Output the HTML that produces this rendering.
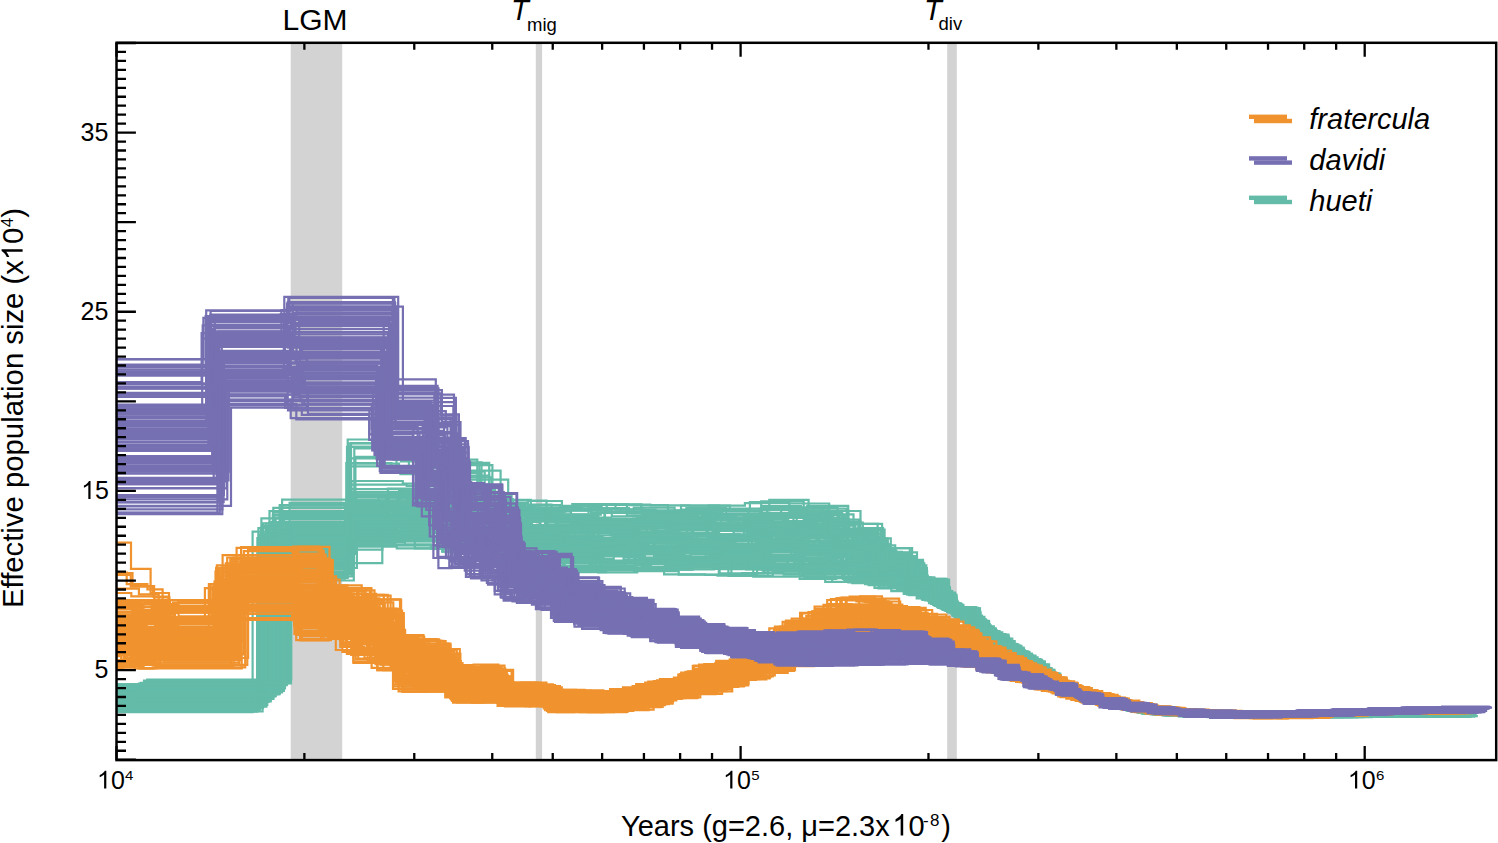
<!DOCTYPE html><html><head><meta charset="utf-8"><style>html,body{margin:0;padding:0;background:#fff;overflow:hidden;}svg{display:block;}text{font-family:"Liberation Sans",sans-serif;fill:#000;}</style></head><body>
<svg width="1498" height="843" viewBox="0 0 1498 843">
<defs><clipPath id="pc"><rect x="116.5" y="42.8" width="1379.7" height="717.3"/></clipPath></defs>
<rect x="290.7" y="42.8" width="51.5" height="717.3" fill="#D3D3D3"/>
<rect x="535.8" y="42.8" width="6.3" height="717.3" fill="#D3D3D3"/>
<rect x="947.2" y="42.8" width="9.6" height="717.3" fill="#D3D3D3"/>
<g clip-path="url(#pc)">
<g fill="none" stroke="#63BBA8" stroke-width="2.20" stroke-linejoin="miter" stroke-linecap="butt"><path d="M60.0 693.6H132.2V690.6H273.3V507.8H350.8V492.0H401.0V490.3H447.7V496.4H493.1V503.2H527.7V505.1H560.0V505.9H601.3V504.6H641.3V511.0H681.8V509.6H723.5V510.6H761.2V501.4H803.7V515.0H843.9V530.0H871.7V550.5H896.3V559.9H923.0V578.8H946.8V607.7H974.5V629.1H991.8V634.5H1008.5V653.9H1031.9V671.8H1053.1V686.5H1071.6V694.6H1090.1V701.1H1118.5V708.1H1139.8V712.0H1171.9V713.5H1201.5V714.5H1241.7V715.2H1282.5V715.1H1324.0V715.3H1363.5V715.4H1403.0V715.1H1443.2V715.0H1465.5"/><path d="M60.0 698.4H124.4V704.9H266.8V528.9H347.0V446.9H393.3V459.6H436.4V464.1H479.4V511.0H517.8V520.6H553.7V519.0H591.8V521.9H633.4V518.5H666.9V523.9H713.5V526.4H751.6V516.6H790.6V517.4H833.1V537.5H862.5V540.0H887.7V557.9H913.9V582.9H935.8V604.0H961.3V620.9H983.5V634.8H1000.8V649.1H1023.8V664.6H1043.6V681.1H1063.1V692.0H1083.1V698.9H1105.5V705.2H1132.0V711.3H1163.8V713.6H1190.9V714.8H1231.5V715.6H1270.7V715.7H1312.4V715.7H1349.9V715.8H1393.0V715.6H1433.7V715.4H1464.4"/><path d="M60.0 695.9H130.4V695.8H272.8V514.7H348.6V496.4H397.4V496.4H442.0V499.5H490.4V503.2H521.6V509.8H556.7V509.1H597.8V512.9H641.8V516.7H681.4V510.1H717.4V518.1H760.5V508.9H798.0V507.3H837.6V534.7H867.8V538.4H890.8V565.8H919.1V580.5H943.3V607.9H970.6V621.8H987.7V635.1H1004.7V651.5H1027.7V668.1H1049.9V684.7H1065.2V692.7H1088.2V700.6H1111.0V706.7H1138.7V711.9H1167.9V713.9H1200.6V714.6H1237.4V714.8H1277.7V715.2H1316.2V715.5H1356.0V715.3H1398.1V715.3H1439.3V715.2H1467.6"/><path d="M60.0 702.2H114.5V709.5H257.6V575.1H344.5V563.2H382.3V544.3H430.9V548.9H475.8V558.0H507.3V568.8H546.5V571.7H585.2V569.8H625.7V568.3H664.1V574.3H705.1V574.8H742.1V573.2H783.7V574.7H825.2V581.9H855.3V582.7H880.0V587.6H903.8V591.8H930.9V603.5H957.0V618.2H976.3V631.6H993.7V644.1H1015.5V658.3H1034.9V674.5H1056.5V688.5H1075.2V696.2H1100.7V703.9H1125.0V709.8H1157.1V714.8H1183.3V716.5H1222.4V717.3H1263.3V717.2H1305.9V717.2H1342.6V716.9H1382.0V716.9H1424.8V716.7H1457.1"/><path d="M60.0 698.6H125.0V702.7H266.4V532.7H350.7V503.9H393.6V511.2H441.7V513.1H486.1V526.9H521.4V519.8H557.4V525.0H597.2V533.6H636.4V525.8H672.7V530.1H713.7V530.3H753.4V527.4H795.0V536.2H835.2V548.1H863.8V550.4H893.1V564.6H915.0V586.1H940.9V604.5H960.4V620.3H983.4V635.3H1005.2V651.9H1023.3V664.1H1043.8V681.2H1064.9V692.6H1085.2V699.6H1112.0V706.9H1132.5V711.4H1165.2V714.0H1193.9V715.3H1235.3V715.7H1276.3V716.2H1313.5V715.6H1356.1V716.0H1394.5V715.7H1434.8V715.5H1463.8"/><path d="M60.0 693.6H131.0V693.0H279.5V545.8H350.1V530.3H407.2V522.7H449.0V529.2H495.2V542.3H529.9V541.2H566.1V537.9H605.4V543.7H645.9V540.4H683.4V541.2H724.7V544.3H766.3V543.0H806.3V550.0H845.2V554.2H874.2V572.1H899.9V582.1H926.6V592.1H949.5V611.4H977.3V632.4H995.9V645.3H1014.9V657.9H1036.2V675.6H1055.7V688.0H1072.8V695.3H1094.6V702.3H1122.1V709.0H1143.0V712.8H1176.0V715.1H1206.9V716.3H1247.3V716.5H1286.6V716.3H1323.9V716.5H1364.3V716.2H1403.8V716.0H1446.3V715.9H1469.8"/><path d="M60.0 698.1H128.8V701.3H270.8V538.2H349.7V516.0H394.1V519.9H442.0V524.0H487.7V531.5H522.2V533.6H554.0V532.7H596.6V530.7H633.6V532.9H673.6V528.5H714.3V531.0H756.3V534.8H797.9V530.5H832.6V545.6H868.0V557.6H891.3V566.2H916.0V585.0H940.0V607.8H965.0V621.9H983.5V635.3H1007.5V653.3H1024.2V664.9H1044.8V681.8H1066.5V693.1H1085.1V699.6H1111.0V706.7H1135.2V711.8H1167.6V714.1H1196.6V715.3H1234.7V715.9H1277.3V716.0H1315.7V716.2H1355.4V716.1H1395.4V715.9H1434.1V715.7H1465.9"/><path d="M60.0 686.9H143.6V683.0H284.0V537.4H355.4V456.9H408.9V467.3H457.1V470.6H500.6V541.1H537.3V539.9H569.9V538.8H612.1V546.6H653.1V539.7H695.6V540.6H731.6V539.9H771.4V546.5H813.1V548.1H854.6V552.3H881.9V568.6H904.2V587.2H933.0V601.3H957.1V616.8H981.2V634.8H1000.1V648.7H1024.0V664.8H1041.1V679.7H1063.7V692.0H1081.3V698.1H1100.7V703.9H1127.3V710.3H1153.3V713.7H1184.9V715.6H1209.6V716.1H1250.4V716.3H1293.2V716.2H1331.6V716.4H1371.1V716.1H1412.6V716.0H1452.9V715.9H1468.2"/><path d="M60.0 688.2H136.6V688.1H281.0V514.9H352.4V501.3H408.8V500.6H451.9V504.3H496.1V514.9H532.8V517.5H565.6V521.7H604.0V523.3H646.4V518.9H685.5V517.9H727.8V517.4H765.1V517.0H806.9V525.6H847.9V535.1H876.7V555.5H902.5V575.4H926.9V592.2H951.4V608.7H979.1V633.6H999.3V645.9H1015.5V658.3H1035.7V675.2H1058.7V689.8H1077.0V696.8H1097.5V703.1H1123.3V709.3H1147.0V712.7H1173.6V714.2H1205.5V714.8H1248.0V715.4H1285.3V715.5H1325.4V715.7H1364.9V715.5H1407.7V715.4H1447.6V715.2H1466.2"/><path d="M60.0 687.5H141.3V683.1H286.3V553.4H354.2V526.3H413.8V530.6H456.7V538.1H501.4V544.6H539.8V555.8H573.0V558.8H613.7V546.7H650.2V548.7H692.5V554.7H735.5V554.4H771.5V560.0H815.4V565.8H854.2V566.5H885.2V581.4H907.4V588.7H933.1V604.3H957.9V618.8H982.9V635.5H1002.1V649.9H1023.1V663.9H1044.4V681.6H1061.8V691.5H1082.6V698.7H1104.8V705.0H1124.1V709.6H1154.2V714.1H1182.3V715.8H1211.9V716.4H1253.2V716.9H1294.3V716.6H1333.0V716.4H1372.0V716.5H1415.6V716.2H1454.7V716.1H1475.1"/><path d="M60.0 691.1H137.6V688.2H280.3V547.3H350.8V525.0H404.0V528.8H451.8V542.5H494.4V541.2H528.4V545.6H563.8V545.8H605.4V542.5H644.7V549.9H683.8V550.8H724.4V560.4H763.5V547.2H806.1V553.4H846.9V565.4H874.3V572.7H900.3V587.9H927.8V594.8H949.2V610.6H973.8V629.8H995.4V645.2H1015.3V658.2H1033.9V673.6H1056.7V688.6H1075.0V696.1H1095.2V702.5H1119.3V708.6H1146.7V713.4H1176.4V715.4H1205.3V716.5H1247.7V716.8H1287.4V716.3H1328.5V716.3H1364.1V716.4H1406.0V716.2H1445.2V716.0H1469.2"/><path d="M60.0 697.1H129.1V695.9H269.5V511.1H350.3V495.9H399.1V490.7H445.7V490.6H493.7V502.8H527.7V501.0H561.9V509.1H601.4V504.6H641.3V512.3H681.0V505.6H719.1V511.4H761.9V507.6H800.4V513.4H839.7V528.7H869.3V545.3H895.2V552.3H917.0V578.9H945.2V607.3H969.6V621.2H989.1V639.2H1009.9V654.8H1029.5V669.6H1051.1V685.4H1072.4V694.4H1088.8V700.8H1115.8V707.9H1140.9V712.0H1170.9V713.3H1200.2V714.3H1240.5V714.8H1278.8V715.4H1321.7V715.3H1359.5V715.3H1402.1V715.2H1440.0V715.2H1464.3"/><path d="M60.0 695.2H129.6V692.3H275.4V545.2H348.2V524.4H400.5V524.6H445.4V533.9H491.8V532.3H523.5V549.1H560.4V540.7H601.3V548.9H642.2V548.2H683.5V550.7H721.9V541.1H763.3V544.1H801.7V535.0H840.3V561.3H872.4V569.4H894.8V576.4H921.7V589.5H945.3V609.7H968.4V626.0H991.0V642.1H1012.8V656.6H1031.4V671.4H1053.8V686.9H1071.2V694.8H1090.9V701.3H1115.3V707.8H1138.6V712.3H1172.0V714.7H1203.9V715.9H1240.3V716.3H1281.6V716.2H1320.2V716.3H1359.8V716.3H1403.6V716.1H1442.7V715.8H1468.9"/><path d="M60.0 700.6H123.4V705.6H262.2V526.2H347.3V500.7H387.9V488.7H433.7V499.6H478.1V503.1H514.2V509.3H551.3V517.2H591.4V505.0H626.9V515.3H667.8V517.6H711.7V514.1H749.4V513.9H789.9V510.7H827.9V524.2H858.7V529.7H884.6V553.3H911.6V581.3H935.1V605.7H962.4V612.2H980.5V634.4H1002.7V650.3H1021.1V662.2H1042.4V680.4H1060.2V690.6H1080.4V697.9H1107.9V705.8H1129.7V710.8H1161.8V713.2H1191.2V714.6H1232.8V714.9H1268.2V715.5H1309.5V715.7H1351.2V715.5H1389.7V715.4H1428.4V715.2H1465.2"/><path d="M60.0 695.7H132.0V698.4H273.4V557.2H351.0V466.4H400.4V474.1H444.3V477.4H491.5V558.1H526.5V552.0H563.5V552.1H601.8V562.5H641.4V552.3H681.0V557.1H720.5V556.7H760.6V563.9H802.1V557.7H841.4V566.1H868.9V577.0H896.1V585.2H918.7V592.4H945.2V610.0H973.1V628.3H990.2V641.6H1010.4V655.2H1029.0V669.2H1050.1V684.8H1072.0V694.9H1089.8V701.1H1114.8V707.7H1139.6V712.6H1166.4V714.9H1199.9V716.5H1240.2V716.7H1281.1V716.6H1322.2V716.7H1362.1V716.6H1401.9V716.5H1439.4V716.2H1461.9"/><path d="M60.0 691.0H140.1V686.9H280.0V505.1H354.8V504.8H409.4V500.5H453.4V494.2H499.4V508.2H533.1V511.1H570.1V509.7H611.8V516.3H648.0V517.3H690.6V513.9H728.4V513.5H769.9V517.6H809.1V510.6H848.4V540.2H878.0V556.3H904.9V577.3H931.1V592.7H955.0V608.4H980.0V634.2H997.1V645.3H1017.7V659.7H1038.6V677.9H1059.7V690.3H1078.9V696.9H1097.6V703.1H1124.1V709.5H1148.6V712.7H1180.0V713.8H1206.4V714.8H1250.1V715.1H1289.4V715.5H1329.4V715.6H1369.0V715.4H1408.1V715.3H1451.9V715.2H1471.6"/><path d="M60.0 694.2H132.0V693.6H273.4V515.5H351.1V489.0H402.7V497.8H446.1V502.2H488.8V506.2H525.3V518.1H561.8V514.7H600.8V509.4H643.3V518.1H682.1V516.6H721.2V508.6H761.6V506.1H800.9V513.0H838.4V529.5H872.7V550.7H895.5V562.0H923.0V580.1H947.0V607.2H972.5V625.7H990.1V641.5H1010.7V655.3H1032.4V672.3H1051.4V685.6H1071.2V694.8H1091.0V701.4H1117.7V707.8H1137.3V711.9H1170.7V713.6H1204.9V714.3H1239.1V715.2H1281.7V715.1H1323.0V715.5H1360.0V715.3H1402.1V715.2H1440.4V715.1H1462.2"/><path d="M60.0 697.5H124.3V700.2H268.0V525.9H347.9V509.0H393.8V501.5H441.5V508.0H485.6V512.7H518.6V525.1H555.9V520.1H597.4V532.8H638.9V526.8H675.5V522.2H713.5V524.1H754.0V532.0H796.1V524.9H834.9V540.4H866.1V548.8H891.5V563.1H914.6V583.8H939.0V607.4H966.5V621.8H985.8V635.4H1004.5V651.4H1023.7V664.4H1049.1V684.3H1064.2V692.4H1087.5V700.4H1109.9V706.4H1134.5V711.6H1163.8V713.9H1195.4V715.2H1235.6V715.5H1277.0V715.6H1314.4V715.7H1354.9V715.8H1392.4V715.6H1435.7V715.6H1468.2"/><path d="M60.0 688.3H140.2V684.5H282.2V535.1H351.9V516.3H410.5V511.3H455.4V521.1H500.3V538.6H538.9V539.1H571.1V546.4H612.8V531.7H649.5V540.2H690.4V540.9H729.4V547.6H771.0V541.2H808.9V541.0H849.7V556.0H876.6V569.2H906.6V586.6H930.0V596.5H956.3V617.2H981.4V634.9H998.4V647.5H1021.2V662.2H1041.0V679.6H1058.6V689.7H1080.6V697.8H1099.6V703.7H1126.2V710.0H1151.7V713.6H1178.7V714.8H1209.6V715.5H1251.0V716.5H1291.5V716.2H1330.6V716.1H1369.3V716.0H1412.7V715.7H1451.9V716.0H1472.4"/><path d="M60.0 704.8H115.8V710.3H258.7V565.4H346.4V534.1H385.3V527.4H429.4V538.9H474.6V548.5H509.2V560.6H547.6V554.5H585.6V554.3H623.6V560.0H666.0V562.1H705.3V563.3H744.9V566.3H787.6V557.8H825.7V557.2H856.4V575.6H879.7V575.1H904.9V590.4H931.0V602.0H955.6V614.7H977.1V632.2H998.6V646.9H1016.4V658.9H1034.5V674.1H1056.9V688.7H1075.3V696.2H1100.8V704.0H1124.3V709.7H1156.5V714.6H1183.3V716.4H1226.1V716.8H1264.4V716.8H1308.4V716.9H1344.7V716.8H1384.5V716.3H1424.5V716.5H1458.1"/><path d="M60.0 701.2H119.2V704.0H261.5V550.3H348.3V518.6H388.6V524.2H433.2V518.5H478.4V529.1H513.0V537.0H548.6V532.1H588.8V546.2H627.0V537.6H667.7V546.1H708.4V545.7H748.5V539.7H787.9V533.7H824.6V551.9H857.2V558.9H883.4V572.0H905.8V583.8H935.2V604.2H960.0V613.3H977.7V632.7H1000.4V646.9H1016.6V659.0H1040.3V679.2H1058.8V689.8H1083.1V698.6H1103.0V704.5H1128.9V710.6H1159.2V713.9H1184.9V715.5H1227.1V716.0H1266.1V716.2H1307.0V716.3H1350.7V716.3H1387.9V716.1H1427.0V716.0H1460.3"/><path d="M60.0 698.8H124.6V698.2H267.5V532.8H347.3V458.4H396.5V468.1H440.1V471.4H484.7V524.4H521.4V530.1H554.0V538.5H594.3V526.2H633.5V532.9H675.3V534.9H713.8V537.7H753.1V535.4H794.2V531.1H835.6V551.4H864.4V553.7H891.3V563.8H916.3V583.3H941.6V608.0H965.4V622.0H986.1V636.2H1004.7V651.5H1023.1V664.0H1044.4V681.6H1063.7V692.2H1087.4V700.4H1110.0V706.4H1133.3V711.5H1164.5V714.0H1197.7V715.1H1236.0V715.7H1275.2V716.0H1318.0V716.1H1354.7V715.9H1392.9V715.8H1435.6V715.8H1462.6"/><path d="M60.0 684.6H147.9V683.5H291.0V523.4H356.2V494.3H415.2V498.7H462.6V509.1H503.7V518.5H545.3V519.0H576.5V521.0H612.6V521.8H658.4V524.7H693.5V519.5H737.7V524.6H776.5V527.1H815.2V532.9H858.2V542.7H887.4V560.6H913.5V585.0H933.2V604.9H963.4V621.2H986.5V635.5H1005.1V651.8H1029.3V669.5H1049.2V684.3H1068.7V693.9H1088.1V700.4H1109.1V706.2H1130.8V710.9H1157.2V713.2H1184.0V715.0H1217.4V715.1H1256.0V715.5H1298.2V715.5H1335.7V715.8H1377.6V715.5H1416.8V715.4H1456.1V715.2H1470.2"/><path d="M60.0 698.2H126.3V697.8H270.9V575.6H347.2V543.9H394.0V545.2H442.2V551.7H485.6V561.2H519.6V558.3H558.0V565.6H596.3V570.2H636.6V560.5H675.8V564.9H717.4V564.0H758.0V569.5H798.7V568.6H834.8V577.1H865.1V584.2H888.7V586.2H917.7V596.3H943.3V610.0H967.6V624.7H986.2V638.8H1008.4V653.9H1025.7V666.2H1048.9V684.1H1066.0V693.0H1087.1V700.3H1111.1V706.7H1135.6V712.0H1167.1V715.4H1196.6V716.5H1235.2V716.9H1278.2V717.1H1314.9V717.1H1358.2V716.9H1392.8V716.6H1436.3V716.5H1463.9"/><path d="M60.0 698.1H120.6V703.4H266.0V544.2H349.0V519.9H394.6V517.8H437.9V520.6H482.7V531.5H518.2V537.2H551.1V536.4H594.7V541.0H631.8V542.5H671.2V545.7H714.2V550.0H752.0V533.1H790.3V540.6H831.3V555.4H861.3V555.9H886.4V569.6H914.2V590.5H937.8V607.2H963.1V621.5H982.6V635.1H999.2V648.1H1020.5V661.6H1041.5V679.9H1060.2V690.6H1082.2V698.6H1105.5V705.2H1132.7V711.4H1161.7V714.3H1189.9V715.6H1232.4V715.9H1270.0V716.0H1312.1V716.1H1351.3V716.3H1391.5V716.1H1432.6V715.9H1466.9"/><path d="M60.0 694.3H130.1V695.2H275.0V552.6H349.6V530.0H401.4V528.6H444.7V534.8H492.0V538.0H528.6V549.7H562.1V545.0H603.4V547.1H642.1V549.3H681.9V552.7H720.0V551.7H759.1V558.2H800.9V553.1H841.2V561.5H874.1V572.3H894.9V579.3H920.3V591.4H943.7V609.5H969.1V626.4H993.8V642.8H1010.1V654.9H1029.5V669.7H1051.5V685.6H1070.6V694.6H1091.0V701.4H1115.8V707.9H1141.2V712.8H1172.4V715.2H1200.4V715.7H1241.1V716.3H1280.3V716.5H1321.3V716.5H1360.3V716.6H1402.5V716.2H1442.7V715.9H1470.8"/><path d="M60.0 691.2H135.2V691.7H280.0V548.6H350.5V484.7H406.7V486.0H447.1V488.9H495.2V554.3H529.4V544.6H566.1V556.5H601.1V548.9H645.8V541.9H683.9V547.4H724.3V557.4H766.8V556.0H804.4V555.2H846.3V559.2H872.7V576.3H903.1V580.0H924.9V594.6H949.7V611.8H973.7V629.7H994.5V644.7H1014.5V657.7H1035.0V674.6H1053.6V686.8H1075.5V696.2H1094.9V702.4H1118.5V708.5H1146.2V713.6H1174.6V715.3H1205.9V716.3H1243.8V716.3H1284.8V716.4H1327.0V716.5H1361.8V716.4H1402.4V716.2H1443.8V716.0H1467.1"/><path d="M60.0 701.6H119.4V703.1H262.7V536.4H345.3V508.7H390.7V504.6H430.8V506.3H477.5V509.9H512.7V519.7H547.4V525.9H588.5V518.9H626.4V523.0H666.5V526.1H706.5V527.4H748.3V517.6H788.2V525.0H828.1V529.3H859.3V536.6H883.8V559.3H908.4V580.8H936.1V604.1H960.1V610.1H978.4V633.1H998.8V645.4H1018.0V659.9H1034.0V673.7H1060.2V690.5H1077.5V697.0H1104.8V705.0H1131.3V710.8H1156.2V713.2H1190.1V715.0H1228.2V715.3H1266.3V715.5H1305.1V715.6H1348.9V715.6H1387.0V715.5H1425.7V715.5H1459.7"/><path d="M60.0 688.6H144.3V685.2H284.5V539.0H351.3V520.5H409.9V521.6H459.2V522.3H500.2V539.9H537.1V540.1H575.1V541.1H610.5V542.6H653.7V546.4H690.9V545.2H731.8V539.1H773.8V542.7H813.6V548.1H850.2V549.8H884.9V573.2H907.6V585.4H931.5V597.2H955.1V617.1H981.9V635.0H998.7V647.7H1023.6V664.4H1044.4V681.6H1062.5V691.8H1086.6V699.2H1100.7V703.9H1128.7V710.4H1153.1V713.8H1185.7V715.4H1213.0V715.9H1250.7V716.2H1294.2V716.1H1330.5V716.2H1375.4V716.1H1413.7V716.0H1451.5V715.7H1476.7"/><path d="M60.0 692.6H134.7V691.3H273.4V574.0H352.4V545.0H404.9V541.5H447.5V549.2H490.5V564.5H527.1V568.0H562.6V570.9H598.7V563.6H643.4V569.0H682.1V565.4H719.6V573.3H764.2V567.6H801.8V576.3H844.4V580.9H873.9V583.3H897.1V590.4H921.9V599.3H947.2V611.9H971.7V628.3H994.0V644.3H1011.2V655.7H1031.2V671.2H1052.3V686.1H1073.6V695.6H1094.6V702.3H1117.0V708.2H1142.2V713.3H1173.5V715.9H1200.4V716.7H1242.1V717.3H1282.0V717.3H1320.2V716.9H1363.8V716.9H1402.6V716.5H1443.6V716.6H1465.6"/><path d="M60.0 693.9H130.3V692.1H273.8V535.6H351.0V443.2H400.1V459.5H446.5V462.9H489.2V534.1H524.8V525.8H562.4V528.7H600.4V531.9H643.5V532.5H680.2V534.3H718.5V526.9H758.9V525.6H801.0V532.1H839.1V542.2H868.8V560.5H897.2V573.1H921.9V587.3H946.9V609.5H970.0V627.1H990.7V638.4H1009.4V654.5H1027.8V668.1H1051.6V685.7H1071.0V694.2H1087.1V700.3H1115.6V707.9H1142.0V712.5H1170.2V714.4H1201.1V715.3H1240.5V715.5H1278.5V715.9H1322.9V716.1H1362.0V716.0H1399.8V715.7H1440.6V715.6H1462.8"/><path d="M60.0 704.6H123.6V703.6H264.6V539.6H348.4V516.2H392.8V523.9H437.6V516.1H481.4V520.3H516.7V532.4H553.1V540.7H591.5V540.5H632.6V539.1H670.5V538.6H711.6V535.1H751.3V535.2H790.1V551.1H833.0V550.5H862.0V559.0H888.8V564.3H912.4V587.4H934.9V604.4H959.4V619.6H982.0V635.0H1002.1V649.9H1020.5V661.6H1040.2V679.2H1059.2V690.0H1082.1V698.5H1105.8V705.3H1129.7V710.8H1159.5V713.7H1190.8V715.6H1230.6V716.0H1271.3V716.0H1310.6V716.1H1350.3V716.2H1393.2V716.0H1430.0V715.9H1462.1"/><path d="M60.0 691.3H138.2V692.5H282.1V499.6H352.7V497.7H408.8V492.6H452.8V494.7H497.2V506.9H534.0V510.9H568.2V510.7H608.3V512.1H645.2V515.8H686.4V508.2H726.1V514.3H767.2V510.1H807.2V505.8H848.2V531.9H878.3V555.3H902.8V571.0H927.1V591.1H952.3V615.5H982.0V634.3H998.1V647.3H1018.9V660.5H1040.2V679.2H1061.3V690.8H1078.2V696.4H1095.6V702.6H1126.0V709.2H1146.7V712.4H1180.3V713.8H1208.8V714.4H1249.2V715.4H1288.4V715.1H1326.9V715.4H1368.6V715.4H1408.3V715.3H1447.1V715.0H1471.1"/><path d="M60.0 697.8H122.4V699.7H266.5V534.4H346.2V514.7H394.4V504.8H439.2V507.8H481.0V524.1H521.2V533.2H553.0V526.1H595.0V522.7H636.4V524.1H674.8V533.0H716.7V523.1H755.0V529.4H791.9V525.5H834.8V544.8H863.2V545.2H887.5V560.7H913.9V584.1H939.6V607.5H965.7V622.0H983.4V635.1H1002.1V649.9H1023.0V663.9H1042.7V680.6H1062.6V691.8H1084.7V699.4H1111.7V706.8H1131.7V711.2H1161.1V713.7H1193.6V715.0H1234.3V715.6H1273.2V715.8H1313.2V715.7H1355.6V715.9H1394.5V715.7H1433.2V715.7H1465.6"/><path d="M60.0 703.3H116.5V705.5H259.1V555.4H345.5V525.3H384.3V515.4H432.9V515.3H476.1V524.3H511.4V542.0H547.5V544.8H587.8V540.5H624.4V545.5H666.1V552.6H707.3V537.3H747.7V539.3H784.7V538.3H827.8V548.7H857.4V553.1H880.0V569.4H905.7V586.4H933.9V598.5H956.5V613.8H978.5V633.2H995.7V645.4H1017.8V659.8H1037.0V676.4H1053.1V686.5H1075.6V696.3H1104.7V705.0H1127.5V710.4H1160.2V714.0H1189.4V715.9H1227.0V716.4H1265.6V715.9H1309.9V716.3H1348.1V716.4H1385.9V716.1H1427.9V715.8H1462.6"/><path d="M60.0 689.6H132.8V691.2H275.6V517.5H351.4V481.0H402.8V483.7H449.3V486.4H491.6V514.8H529.1V519.8H567.3V518.5H605.7V523.3H644.0V525.5H685.4V526.5H726.2V522.5H765.3V516.8H803.3V518.3H845.3V531.0H872.7V552.3H897.6V567.6H922.5V583.4H947.5V608.2H976.3V629.9H993.1V643.7H1011.3V655.7H1035.5V675.1H1052.5V686.2H1073.0V695.4H1096.2V702.7H1119.9V708.8H1144.2V712.4H1173.9V714.1H1206.3V715.1H1244.0V715.3H1282.6V715.6H1323.5V715.7H1365.8V715.7H1404.2V715.4H1442.9V715.4H1466.7"/><path d="M60.0 688.4H140.4V686.8H284.2V567.8H354.0V536.6H410.3V540.1H453.9V550.9H501.0V558.3H536.2V559.7H571.8V565.8H610.9V565.7H651.0V566.5H688.8V561.4H729.5V567.0H772.8V566.4H809.4V573.1H848.4V582.5H880.6V584.7H907.2V592.1H930.9V602.6H953.2V615.3H979.4V633.8H1001.9V649.7H1018.7V660.3H1042.2V680.3H1060.6V690.8H1081.1V698.2H1101.7V704.2H1126.2V710.0H1150.3V714.1H1179.3V716.2H1207.2V717.0H1250.4V716.9H1288.8V717.0H1332.4V717.0H1368.9V716.7H1407.9V716.6H1452.5V716.5H1470.5"/><path d="M60.0 701.2H123.4V703.7H263.3V558.4H348.7V517.9H390.3V521.4H437.6V519.3H481.7V541.0H518.6V543.2H549.8V538.5H589.9V544.7H631.7V540.0H672.9V541.5H714.2V547.9H755.5V542.7H792.9V544.3H834.5V551.0H861.3V563.0H889.3V573.2H912.0V588.3H936.1V605.9H962.2V613.5H979.2V633.7H1001.4V649.5H1020.5V661.6H1044.7V681.8H1060.4V690.7H1080.1V697.8H1105.9V705.3H1130.2V710.9H1161.1V714.1H1192.3V715.6H1232.7V716.3H1270.0V716.6H1313.5V716.3H1348.4V716.3H1391.6V716.0H1432.2V715.9H1459.6"/><path d="M60.0 696.3H128.2V696.5H268.5V563.1H348.9V529.7H392.6V536.1H437.5V538.2H483.4V543.2H520.0V552.6H553.9V554.4H597.7V555.8H635.0V561.2H673.7V560.7H714.1V559.5H755.0V557.6H795.6V564.0H837.3V560.9H864.1V578.2H890.3V582.5H915.4V593.2H940.4V608.3H964.6V622.8H983.8V636.2H1004.2V651.2H1025.5V666.1H1044.8V681.8H1068.5V693.7H1086.3V700.0H1111.4V706.8H1137.9V712.2H1162.9V714.6H1192.5V716.1H1237.0V716.6H1277.3V716.7H1314.4V716.7H1355.4V716.5H1396.8V716.2H1433.2V716.3H1462.2"/><path d="M60.0 696.5H128.7V694.1H274.5V555.0H349.8V536.8H400.7V537.0H444.5V541.6H491.3V548.4H526.7V562.1H561.0V559.6H599.8V550.2H641.1V561.4H681.7V557.3H721.6V555.2H759.2V561.3H804.4V563.6H840.5V572.0H870.1V579.6H895.8V585.8H919.7V596.6H945.8V610.9H970.4V627.4H990.9V642.1H1013.0V656.8H1032.4V672.2H1051.9V685.9H1071.1V694.7H1089.8V701.1H1117.0V708.2H1143.2V713.2H1171.8V715.6H1203.8V716.5H1239.7V716.9H1279.8V716.9H1322.9V716.8H1362.5V716.8H1399.7V716.3H1437.8V716.4H1462.6"/><path d="M60.0 689.3H139.2V691.1H278.4V546.3H353.1V523.4H406.7V522.7H450.5V537.5H497.7V534.3H533.1V543.4H567.4V542.5H609.9V548.5H648.7V539.0H689.0V552.3H729.9V538.7H766.5V547.3H807.5V550.5H849.8V561.9H878.9V568.3H903.8V587.8H929.2V598.4H952.4V612.6H976.9V632.1H998.4V647.4H1019.5V660.9H1036.2V675.7H1060.5V690.5H1077.1V696.8H1098.3V703.3H1124.7V709.7H1148.5V713.2H1177.0V715.2H1209.0V716.2H1248.1V716.5H1288.6V716.7H1326.7V716.3H1369.5V716.4H1406.8V716.1H1447.5V715.8H1465.0"/><path d="M60.0 689.4H141.8V683.8H287.2V528.8H352.6V511.4H411.4V507.5H456.7V519.7H499.9V526.9H538.6V530.2H571.9V527.9H610.3V535.5H652.1V525.5H693.2V538.8H733.6V531.5H771.6V528.9H812.9V529.3H852.0V553.4H882.1V567.3H907.9V584.9H931.1V603.3H960.4V620.2H984.5V636.1H1001.8V649.8H1022.5V663.4H1041.4V679.9H1063.0V692.0H1083.9V698.6H1102.2V704.3H1124.1V709.6H1152.5V713.3H1185.1V715.5H1213.0V715.6H1252.2V716.1H1292.5V715.9H1332.0V716.1H1370.5V715.9H1414.3V715.7H1451.9V715.6H1472.1"/><path d="M60.0 697.9H121.3V701.8H265.4V538.5H347.7V506.9H391.2V506.5H435.9V513.6H481.8V519.2H517.6V529.6H551.6V526.4H589.8V520.3H631.1V525.2H671.7V527.3H714.0V526.6H753.5V523.9H791.3V536.4H832.1V540.4H861.6V548.4H884.4V561.5H911.2V582.9H938.5V604.0H960.3V620.2H983.4V635.3H1001.6V646.9H1018.1V660.0H1040.2V679.2H1060.0V690.5H1083.9V699.1H1106.1V705.4H1130.7V711.0H1162.6V713.6H1191.3V715.1H1231.4V715.5H1271.0V715.9H1310.2V715.8H1351.9V715.9H1391.7V715.8H1432.2V715.6H1464.4"/><path d="M60.0 692.1H134.6V694.1H279.7V505.3H352.3V494.6H406.6V503.2H450.3V501.8H497.2V509.4H532.0V512.5H561.9V508.6H606.9V511.6H643.1V520.5H686.4V518.4H723.7V514.1H761.0V509.2H804.1V519.8H845.1V530.4H877.6V557.1H900.0V563.3H924.3V593.2H951.4V608.4H974.4V630.3H993.8V644.1H1014.1V657.4H1034.9V674.5H1055.1V687.7H1073.0V695.4H1095.8V702.7H1120.6V708.9H1145.9V712.6H1176.0V714.1H1205.2V715.0H1245.2V715.5H1286.3V715.5H1323.9V715.4H1364.5V715.5H1404.5V715.5H1447.0V715.2H1471.1"/><path d="M60.0 701.5H117.6V703.0H260.8V550.3H347.8V513.0H387.6V513.6H433.1V518.3H476.5V528.8H510.0V525.8H547.0V545.9H585.8V538.9H626.2V538.4H668.1V536.5H708.7V539.0H747.4V532.8H787.5V536.4H828.4V540.7H858.2V555.9H884.0V566.9H908.3V584.1H931.6V603.6H958.2V612.7H977.2V632.2H998.1V647.2H1019.0V660.5H1037.0V676.4H1059.5V690.2H1078.7V697.4H1104.9V705.1H1127.1V710.3H1158.4V713.7H1186.6V715.1H1229.4V715.9H1268.8V716.1H1308.0V715.9H1347.2V716.0H1387.2V716.1H1426.8V715.8H1454.7"/><path d="M60.0 692.2H138.2V688.6H279.6V530.9H353.6V507.4H406.7V510.7H450.4V510.4H498.1V521.9H531.2V528.0H566.6V528.7H609.5V527.9H648.1V522.6H689.1V526.8H724.2V528.2H769.7V531.1H804.8V537.5H847.7V550.3H876.4V563.2H901.2V570.4H926.1V593.6H950.9V609.3H976.7V631.9H996.5V646.1H1018.7V660.3H1034.9V674.5H1057.8V689.2H1077.0V696.8H1099.4V703.6H1120.7V708.9H1148.2V712.7H1175.6V714.3H1204.4V715.3H1249.0V715.7H1288.5V715.8H1327.0V715.9H1369.3V715.7H1406.7V715.5H1447.5V715.4H1467.4"/><path d="M60.0 685.2H146.7V681.5H288.0V523.5H352.2V510.2H416.1V506.7H461.1V516.5H509.4V522.0H540.2V525.3H576.7V519.7H618.9V532.0H657.2V527.2H696.1V527.4H734.0V525.0H775.2V523.4H817.4V536.1H856.0V543.7H882.7V557.9H910.2V582.2H934.5V604.3H961.4V620.9H988.4V640.3H1010.1V655.0H1026.5V667.0H1045.8V682.4H1066.4V693.1H1086.8V699.5H1105.1V705.1H1130.5V710.8H1156.1V713.4H1187.7V714.8H1216.6V715.5H1256.0V715.7H1296.3V716.0H1336.5V715.9H1377.0V715.8H1416.8V715.7H1455.5V715.4H1476.6"/><path d="M60.0 690.6H139.5V688.4H280.3V554.2H352.9V518.0H409.1V529.6H449.3V535.2H498.9V532.4H533.1V544.2H567.2V549.1H608.1V545.4H648.5V537.1H690.4V547.2H727.9V552.8H770.7V546.0H807.6V549.1H847.3V563.6H875.8V571.6H902.2V589.3H930.7V598.0H955.3V616.7H981.3V634.8H995.9V645.6H1020.1V661.3H1040.4V679.3H1058.0V689.3H1077.0V696.8H1097.6V703.1H1125.8V709.8H1148.9V713.3H1178.5V715.6H1209.8V716.0H1247.0V716.5H1288.7V716.4H1325.7V716.4H1367.3V716.1H1407.9V715.9H1447.2V716.0H1467.8"/><path d="M60.0 700.8H116.6V709.6H260.2V565.2H346.9V540.2H390.1V534.3H433.1V532.3H480.4V549.5H510.9V549.3H548.9V558.5H586.3V554.4H628.6V561.8H669.0V561.1H708.0V560.8H747.2V567.8H787.7V567.7H829.6V570.1H858.6V566.6H883.3V580.4H908.2V592.5H934.7V605.1H959.9V617.4H975.4V631.0H999.4V648.0H1018.4V660.1H1036.9V676.3H1060.9V690.8H1077.4V696.9H1102.9V704.5H1129.4V710.7H1155.6V714.6H1187.0V716.2H1229.1V716.6H1266.5V716.7H1307.6V716.7H1346.6V716.8H1390.4V716.5H1434.5V716.3H1455.5"/><path d="M60.0 693.5H134.3V692.6H272.8V569.3H352.7V535.7H403.1V539.4H448.0V548.9H490.1V554.4H528.9V571.6H560.1V562.9H601.3V567.8H642.8V560.3H682.1V565.9H722.8V567.6H762.7V569.0H804.4V578.2H844.0V574.7H874.5V587.8H897.5V589.5H923.5V599.2H948.1V612.2H972.5V628.9H994.9V644.9H1014.3V657.6H1032.1V672.0H1052.6V686.3H1071.0V694.7H1094.4V702.3H1119.3V708.6H1143.8V713.6H1172.5V716.0H1203.1V716.5H1244.8V717.0H1282.0V717.0H1322.7V717.1H1363.5V716.8H1403.2V716.7H1444.6V716.4H1470.1"/><path d="M60.0 701.2H114.1V706.9H259.9V577.8H347.7V439.5H385.7V452.2H429.7V459.6H477.3V495.1H511.6V551.7H544.0V559.5H589.9V565.6H624.6V560.0H667.4V559.7H707.6V566.1H746.2V565.8H790.6V564.0H826.0V568.7H857.2V567.2H880.8V577.7H907.7V590.9H931.2V603.9H959.1V617.6H976.5V631.8H994.8V644.9H1016.9V659.2H1038.0V677.3H1055.1V687.7H1074.2V695.8H1099.8V703.7H1126.9V710.2H1155.6V714.4H1188.9V716.4H1225.1V716.9H1264.5V716.7H1307.9V716.7H1345.0V716.5H1386.8V716.6H1427.4V716.5H1458.6"/><path d="M60.0 688.6H140.4V687.7H280.4V519.5H354.0V504.5H409.3V502.8H452.2V510.6H501.6V513.7H533.0V521.1H571.8V517.6H611.1V524.3H651.4V528.6H690.3V528.9H729.4V519.1H767.8V522.0H809.5V526.1H847.6V529.5H880.7V561.1H901.9V581.3H928.5V594.3H951.9V609.5H978.2V633.0H997.6V645.5H1017.7V659.7H1041.6V680.0H1056.5V688.5H1079.3V697.1H1097.5V703.1H1125.5V709.7H1149.3V712.7H1177.1V714.5H1208.2V715.0H1250.9V715.6H1289.6V715.6H1327.8V715.7H1368.2V715.8H1407.5V715.5H1447.7V715.4H1470.3"/><path d="M60.0 701.8H125.9V704.9H267.3V531.7H346.0V509.7H394.1V504.1H439.9V518.0H482.1V521.5H519.8V520.5H553.5V518.9H592.8V523.6H633.4V532.2H674.4V529.4H714.5V528.9H753.2V526.0H791.6V523.8H836.3V534.9H862.3V544.7H889.1V564.2H914.2V585.1H936.9V606.7H963.2V621.3H983.8V635.1H1004.9V651.7H1026.8V667.3H1045.1V682.0H1065.0V692.6H1084.8V699.5H1107.2V705.7H1133.6V711.6H1163.6V713.5H1193.5V715.1H1233.0V715.4H1273.9V715.8H1311.9V716.1H1353.7V715.8H1394.5V715.8H1432.6V715.6H1458.7"/><path d="M60.0 702.0H120.0V706.7H266.4V571.6H347.4V543.5H392.2V536.5H437.4V544.6H481.6V556.4H516.4V553.0H549.6V559.8H591.8V568.9H630.9V568.5H669.0V566.2H712.9V569.0H751.8V561.4H787.3V566.5H831.0V569.8H859.0V574.3H884.8V582.2H909.4V595.2H934.4V605.3H958.8V618.8H980.7V634.7H999.7V648.4H1019.9V661.1H1039.2V678.3H1057.5V689.0H1081.4V698.3H1104.9V705.1H1128.2V710.5H1163.1V715.3H1190.4V716.6H1231.9V716.8H1269.8V716.7H1310.7V717.2H1349.1V716.9H1390.2V716.8H1430.3V716.7H1462.9"/><path d="M60.0 698.6H127.9V694.2H271.9V533.9H348.7V504.8H398.1V500.8H440.1V506.5H487.2V514.5H521.7V527.1H556.0V518.4H595.9V521.3H637.1V517.8H675.7V525.1H717.4V524.9H759.5V529.3H796.5V523.6H834.8V544.4H867.9V549.9H894.6V560.6H918.1V584.5H938.3V607.3H965.8V621.9H987.8V636.0H1005.5V652.1H1027.7V668.0H1046.1V682.5H1066.5V693.2H1086.8V700.2H1113.9V707.4H1137.5V711.9H1168.7V713.8H1194.6V715.1H1234.2V715.6H1276.7V715.5H1316.2V715.7H1355.8V716.0H1397.1V715.5H1436.5V715.5H1464.3"/><path d="M60.0 698.5H128.2V701.4H268.3V563.6H349.0V533.2H397.4V532.2H444.3V534.7H489.2V548.8H521.4V547.5H557.0V547.7H596.4V550.7H638.1V549.5H679.0V563.5H716.3V553.5H756.1V556.2H796.3V551.2H837.4V564.2H867.6V571.5H892.0V578.2H916.6V591.7H942.5V608.8H966.9V623.7H986.2V637.3H1006.1V652.4H1025.6V666.2H1045.7V682.3H1068.3V693.6H1084.9V699.5H1111.1V706.7H1135.8V711.9H1168.1V714.9H1196.0V716.2H1236.1V716.5H1276.6V716.6H1315.9V716.5H1357.3V716.5H1397.8V716.4H1437.2V716.1H1464.5"/><path d="M60.0 689.8H138.8V687.9H285.0V525.2H351.0V510.1H413.1V500.7H453.6V523.6H502.6V527.1H535.0V529.3H570.5V527.6H609.1V525.7H652.5V530.5H690.9V518.1H730.4V529.5H769.6V521.3H809.8V534.0H853.7V548.8H884.0V556.8H906.6V584.4H928.4V595.9H954.5V616.8H984.4V635.4H1000.4V647.1H1018.2V660.0H1039.2V678.4H1060.0V690.5H1081.2V697.5H1098.8V703.4H1127.6V709.9H1149.4V713.0H1176.2V714.6H1210.0V715.3H1248.4V715.7H1290.8V715.6H1327.5V716.0H1369.5V716.0H1413.3V715.6H1449.3V715.5H1471.7"/><path d="M60.0 704.3H116.9V707.9H259.8V547.2H344.9V513.9H386.8V508.2H432.7V504.9H477.0V524.7H511.5V521.1H547.0V527.3H584.9V530.2H627.2V524.7H665.0V525.4H707.8V534.9H744.0V526.3H787.4V528.9H828.2V536.8H855.4V546.6H882.7V562.2H905.9V583.7H931.5V601.5H957.6V612.7H977.0V632.1H997.9V645.7H1015.5V658.3H1036.0V675.5H1055.5V687.9H1076.8V696.7H1100.4V703.9H1124.8V709.8H1157.9V713.8H1186.0V714.8H1226.2V715.5H1267.1V715.7H1307.7V716.0H1345.1V715.9H1386.0V715.8H1428.3V715.5H1455.9"/><path d="M60.0 693.1H131.5V696.1H275.7V545.9H349.8V519.9H400.2V511.4H448.2V518.2H489.4V530.4H528.8V531.9H561.7V543.3H600.8V540.7H641.3V536.7H681.9V542.8H724.3V545.0H760.4V540.4H798.5V537.5H840.7V547.4H872.8V569.4H896.9V572.3H921.3V589.9H947.4V609.8H971.5V628.2H991.4V642.5H1010.9V655.5H1031.3V671.2H1049.6V684.6H1071.2V694.3H1087.8V700.5H1118.2V708.1H1139.1V712.2H1168.8V714.5H1200.9V715.3H1241.6V716.2H1278.7V716.3H1320.8V716.2H1362.2V716.1H1401.8V716.0H1441.7V715.6H1464.0"/><path d="M60.0 694.9H132.0V690.6H274.2V544.5H349.3V514.0H403.3V519.6H447.3V526.7H493.1V536.2H527.8V534.9H562.3V536.6H602.6V543.3H644.3V533.6H681.7V542.9H721.5V544.1H762.1V534.6H802.8V547.1H842.5V555.6H876.0V568.1H899.1V574.6H921.7V592.8H949.6V611.1H972.3V628.7H995.2V645.1H1011.8V656.0H1032.2V672.1H1054.6V687.4H1076.2V696.1H1093.3V702.0H1117.3V708.2H1145.0V713.1H1172.6V714.8H1201.6V715.6H1244.5V716.4H1283.1V715.8H1324.5V716.3H1360.4V716.3H1403.9V716.0H1442.2V715.9H1465.4"/><path d="M60.0 688.8H138.9V683.7H282.6V513.5H352.3V506.4H410.9V504.9H454.8V506.4H502.7V512.2H537.1V511.4H571.0V523.0H610.1V520.0H652.3V510.4H690.4V520.1H731.3V524.6H768.4V524.9H811.2V519.4H849.3V533.6H880.9V558.7H904.8V580.0H928.3V594.8H956.5V608.6H979.6V634.0H999.0V647.9H1020.4V661.5H1039.3V678.5H1060.0V690.5H1080.2V697.9H1101.0V704.0H1126.5V709.5H1147.7V713.0H1181.3V714.6H1211.3V715.2H1248.6V715.6H1293.0V715.5H1328.0V715.4H1370.3V715.7H1408.8V715.5H1451.4V715.1H1472.9"/><path d="M60.0 702.5H116.5V706.4H260.7V534.0H347.4V512.3H388.2V508.0H433.4V510.8H475.0V523.0H510.3V533.4H546.9V520.6H585.1V531.9H627.8V534.1H665.8V529.2H706.5V535.5H746.5V531.4H785.9V525.8H827.8V539.8H857.3V546.5H884.0V564.6H908.9V582.5H931.8V600.7H957.2V613.2H976.7V631.9H996.0V645.3H1016.5V659.0H1036.9V676.3H1057.1V688.8H1077.8V697.1H1102.5V704.4H1126.9V710.2H1155.4V713.6H1187.4V715.2H1227.5V715.4H1267.7V716.0H1307.8V716.0H1347.8V715.9H1390.1V715.7H1425.2V715.6H1460.8"/><path d="M60.0 699.6H120.8V703.8H264.3V560.1H346.3V463.0H391.4V468.2H433.0V472.8H481.0V536.6H515.6V542.1H550.5V553.4H590.5V547.6H631.3V551.9H672.6V553.3H713.0V554.5H751.3V548.8H791.0V559.8H831.5V563.7H859.1V562.8H886.6V581.2H909.4V590.2H935.8V605.6H961.9V616.9H979.6V634.0H1002.2V650.0H1022.0V663.0H1040.5V679.3H1061.5V691.3H1081.7V698.4H1107.1V705.6H1130.8V711.1H1159.4V714.1H1187.7V716.2H1230.9V716.3H1274.1V716.3H1310.6V716.4H1351.3V716.6H1389.7V716.2H1430.4V716.2H1461.0"/><path d="M60.0 691.5H133.0V694.0H276.0V566.3H349.0V535.7H401.6V539.9H448.4V547.6H494.7V554.9H527.8V555.6H564.8V567.8H600.5V554.9H642.7V561.6H684.5V562.4H721.7V565.9H763.8V559.3H801.8V563.8H843.6V573.3H874.3V578.6H896.8V587.7H923.6V595.8H948.0V612.3H974.4V630.2H993.3V643.8H1011.4V655.8H1032.0V671.9H1054.8V687.5H1069.8V694.3H1094.6V702.3H1115.9V707.9H1141.8V713.1H1172.8V715.6H1201.0V716.1H1243.5V717.2H1281.5V716.8H1322.9V716.7H1363.0V716.8H1404.2V716.4H1444.0V716.3H1469.3"/><path d="M60.0 687.1H148.7V680.7H288.9V543.4H354.3V448.3H418.7V458.7H458.7V479.6H508.2V545.8H543.2V551.0H576.9V551.5H617.6V546.9H656.8V548.9H694.9V547.8H737.7V551.7H776.1V537.7H818.5V557.5H857.0V556.9H885.2V574.6H910.6V587.3H937.3V604.9H961.0V620.6H986.2V636.6H1008.3V653.8H1024.9V665.5H1047.7V683.5H1064.5V692.5H1085.2V699.6H1107.6V705.8H1131.2V711.0H1156.6V714.0H1186.1V715.9H1215.4V716.1H1257.2V716.1H1297.6V716.5H1338.6V716.4H1376.4V716.2H1416.6V716.1H1457.1V715.9H1474.0"/><path d="M60.0 694.4H136.1V694.2H278.0V558.5H353.0V534.0H401.1V527.6H446.5V538.0H494.9V544.9H527.1V554.9H564.5V553.9H604.7V552.3H644.2V554.0H684.7V557.4H722.9V557.9H764.1V552.3H803.1V554.0H841.2V560.6H874.0V576.9H900.4V581.6H924.0V593.0H946.9V610.8H974.1V627.8H989.4V641.0H1014.7V657.9H1034.1V673.8H1052.8V686.4H1074.7V695.8H1093.0V701.9H1119.1V708.6H1145.8V713.5H1172.3V715.2H1201.0V716.0H1244.8V716.7H1283.3V716.5H1324.2V716.6H1363.7V716.5H1400.8V716.3H1442.9V716.2H1463.2"/><path d="M60.0 698.7H125.1V699.5H269.7V522.2H347.4V507.4H394.4V500.9H441.0V497.9H484.6V509.9H517.7V515.7H552.2V520.9H594.6V513.0H633.8V507.7H674.6V521.6H714.9V514.3H754.1V513.8H796.7V523.7H836.5V540.0H866.6V538.5H887.3V556.1H915.0V581.9H938.6V607.0H962.9V621.0H986.5V634.4H1005.5V652.1H1025.6V666.1H1044.6V681.7H1065.1V692.2H1082.2V698.6H1109.3V706.2H1133.8V711.6H1166.0V713.7H1199.3V714.8H1236.8V715.3H1275.8V715.4H1313.9V715.6H1357.9V715.6H1392.9V715.6H1433.9V715.4H1467.0"/><path d="M60.0 689.1H143.4V685.7H283.6V533.5H351.3V511.6H409.4V513.4H454.3V522.7H501.2V525.8H532.1V537.6H567.5V532.7H611.6V534.5H651.7V527.8H692.1V534.6H732.0V541.2H770.9V531.8H809.7V533.5H852.7V546.6H881.6V562.2H907.6V583.4H929.9V595.5H956.1V617.7H983.2V635.2H999.7V647.7H1018.4V660.1H1035.7V675.2H1058.9V689.8H1082.1V697.9H1099.7V703.7H1125.2V709.9H1153.4V713.5H1179.0V714.9H1211.8V715.4H1253.5V715.9H1289.5V716.0H1331.3V716.0H1371.4V715.8H1408.3V715.8H1449.9V715.5H1472.6"/><path d="M60.0 689.0H140.0V689.2H278.5V550.0H351.6V526.9H408.5V531.0H453.4V530.6H497.8V542.9H530.6V540.1H566.7V547.4H606.4V541.0H647.9V546.4H687.8V543.8H725.4V554.1H769.3V551.0H808.0V553.7H846.7V554.2H877.5V571.6H903.0V583.8H926.8V599.1H950.9V612.3H977.2V632.2H996.3V645.9H1021.4V662.1H1035.8V675.3H1056.1V688.2H1078.2V697.2H1100.7V703.9H1121.5V709.1H1149.7V713.6H1176.4V715.2H1207.4V716.2H1248.7V716.6H1285.5V716.4H1327.7V716.5H1366.0V716.5H1406.4V716.1H1448.8V716.0H1474.1"/><path d="M60.0 694.6H130.1V697.7H272.8V553.3H349.5V523.7H396.7V520.2H442.1V526.7H491.2V539.6H520.9V538.8H558.4V540.5H598.8V547.9H636.4V546.9H677.6V541.2H718.3V548.1H757.9V543.7H798.8V540.9H841.1V554.0H867.0V560.0H893.1V578.0H918.4V590.2H943.4V609.0H968.2V623.6H988.6V637.4H1008.5V653.9H1028.5V668.7H1048.4V683.9H1070.0V694.0H1086.7V700.1H1111.2V706.7H1137.8V712.2H1169.6V714.6H1195.3V715.8H1235.2V716.2H1275.9V716.0H1317.4V716.5H1359.0V716.2H1399.2V716.0H1438.0V715.8H1468.3"/><path d="M60.0 693.6H128.3V698.6H272.1V574.2H352.3V537.9H400.3V539.3H443.6V546.2H490.0V558.2H523.6V558.4H558.7V555.1H601.4V563.2H639.4V563.9H679.4V566.6H718.8V574.1H757.1V567.0H802.2V569.9H839.5V573.9H869.7V581.5H892.8V583.9H921.4V595.4H943.3V609.6H972.1V628.6H990.3V640.8H1008.5V653.9H1026.5V667.0H1048.8V684.1H1067.4V693.5H1089.9V701.1H1114.6V707.6H1139.3V712.7H1170.5V715.1H1199.1V716.6H1242.0V716.9H1280.0V716.9H1320.2V716.8H1360.5V716.8H1397.0V716.5H1439.8V716.3H1464.2"/><path d="M60.0 696.7H118.4V700.4H264.6V552.4H344.1V526.5H389.5V524.0H432.5V530.8H479.5V545.1H513.0V546.6H548.0V559.7H588.3V548.7H630.5V551.6H670.4V551.3H708.9V554.9H752.1V559.3H789.9V555.0H832.1V561.6H859.9V567.7H880.0V575.5H907.2V588.2H934.2V604.4H960.9V617.3H978.8V633.4H1001.8V648.8H1017.5V659.6H1038.3V677.5H1058.2V689.5H1077.3V696.9H1101.0V704.0H1129.3V710.7H1159.9V714.4H1190.0V716.2H1231.7V716.5H1269.7V716.7H1310.0V716.5H1348.7V716.5H1390.1V716.1H1431.0V716.2H1465.5"/><path d="M60.0 697.1H128.4V695.4H274.7V566.3H350.3V527.8H398.3V532.4H446.7V540.6H490.2V552.3H525.4V554.0H561.4V552.4H601.2V560.7H639.1V558.6H681.0V563.0H719.7V561.4H759.1V559.4H798.7V571.7H838.9V570.2H871.4V580.3H896.7V582.4H918.4V595.8H944.9V610.5H967.5V625.3H990.6V639.7H1006.5V652.7H1029.4V669.6H1049.1V684.3H1068.8V693.9H1087.1V700.2H1112.1V707.0H1139.3V712.5H1167.6V715.2H1198.8V716.6H1237.9V716.8H1278.0V716.8H1320.5V716.8H1361.2V716.7H1396.3V716.5H1438.4V716.5H1464.7"/><path d="M60.0 690.3H137.1V690.4H282.3V576.4H352.0V540.2H407.1V540.0H451.2V557.2H498.6V558.1H533.1V567.7H570.2V572.2H606.2V569.0H647.1V569.3H690.2V566.3H728.4V576.0H767.8V567.4H807.0V571.5H849.2V578.7H878.6V588.4H903.8V593.9H925.3V600.3H952.9V615.5H979.1V633.7H998.1V647.3H1019.3V660.7H1039.3V678.4H1056.5V688.5H1078.5V697.3H1096.8V702.9H1125.5V709.9H1150.8V714.2H1178.9V716.4H1207.7V717.1H1247.0V717.3H1288.3V717.2H1330.1V716.8H1369.1V717.0H1409.7V716.8H1449.6V716.6H1471.6"/><path d="M60.0 703.8H114.1V706.9H257.9V561.3H344.6V533.8H386.5V531.5H428.0V531.1H475.6V536.3H511.7V552.0H541.0V551.3H586.4V550.3H624.3V557.7H667.2V549.0H705.7V563.8H745.1V557.0H785.1V559.2H821.8V562.1H856.2V573.2H880.1V578.2H904.6V589.1H929.5V600.5H956.1V614.3H975.1V630.8H996.0V645.6H1016.5V659.0H1035.4V675.0H1056.3V688.3H1076.4V696.6H1097.7V703.2H1126.0V710.0H1156.3V714.4H1184.5V715.9H1224.8V716.8H1267.6V716.7H1304.7V716.5H1344.4V716.7H1383.5V716.4H1427.7V716.0H1458.5"/><path d="M60.0 703.7H115.3V710.8H257.4V538.2H345.7V512.6H386.3V500.8H430.5V507.4H471.9V511.3H509.0V519.4H546.4V520.4H584.6V527.5H621.2V520.8H662.6V525.9H705.1V526.7H746.4V525.8H783.2V521.2H822.8V531.0H853.7V544.4H881.0V560.0H903.1V584.3H929.8V593.0H954.4V610.3H975.9V631.4H995.4V645.1H1015.8V658.5H1032.0V671.9H1054.2V687.2H1073.0V695.4H1098.6V703.4H1124.4V709.7H1153.0V713.3H1186.0V715.0H1223.6V715.3H1262.8V715.6H1305.6V715.9H1345.9V715.9H1384.1V715.8H1428.1V715.3H1459.9"/><path d="M60.0 692.3H133.8V691.5H274.4V518.3H352.4V496.2H403.1V494.4H449.0V504.8H493.8V509.4H528.0V512.3H564.7V510.5H604.5V518.8H645.2V513.6H685.9V512.0H722.4V518.0H760.5V513.1H804.9V512.9H842.2V534.5H873.2V552.7H897.1V561.5H923.0V587.2H949.9V608.0H974.9V629.0H992.4V643.2H1013.0V656.8H1030.9V670.9H1054.0V687.1H1071.3V694.8H1091.7V701.5H1121.2V709.0H1145.8V712.4H1173.5V713.8H1204.5V714.8H1244.8V715.2H1283.3V715.3H1323.1V715.5H1364.6V715.6H1403.1V715.4H1443.8V715.2H1463.0"/><path d="M60.0 691.9H135.5V695.1H274.5V546.3H349.4V446.8H401.1V461.4H445.2V465.1H492.4V537.4H527.6V548.0H561.0V546.4H602.9V543.2H638.7V543.1H682.3V545.8H722.0V548.2H760.3V547.4H803.6V545.7H841.8V556.2H872.2V571.0H897.7V582.2H923.4V594.4H946.3V610.5H972.2V628.7H995.9V645.4H1011.3V655.7H1029.6V669.8H1054.5V687.3H1071.8V695.0H1095.1V702.5H1117.5V708.3H1143.8V713.1H1172.9V715.1H1202.9V715.9H1239.0V716.4H1282.6V716.3H1323.3V716.5H1365.6V716.3H1403.8V716.2H1443.6V715.9H1470.2"/><path d="M60.0 699.5H120.7V702.9H261.1V527.6H345.0V508.2H387.0V505.4H433.1V509.6H478.9V510.2H514.3V515.0H548.9V522.6H590.9V523.5H627.8V527.7H671.6V514.4H710.1V529.2H749.9V525.0H786.8V517.5H830.0V521.6H860.5V538.5H886.0V555.2H909.6V580.3H933.7V603.4H959.0V619.4H981.9V634.5H999.5V648.1H1018.5V660.2H1036.8V676.2H1057.7V689.2H1078.7V697.4H1104.9V705.1H1131.1V711.1H1159.3V713.3H1190.2V714.7H1230.8V715.3H1269.1V715.3H1308.5V715.7H1348.7V715.8H1390.1V715.5H1429.8V715.2H1456.1"/><path d="M60.0 698.1H123.7V700.3H268.9V576.6H347.0V537.9H393.2V537.6H441.2V545.2H483.1V555.2H519.6V557.5H552.3V561.3H595.3V566.9H634.1V561.0H672.4V569.3H714.1V563.2H753.3V563.9H794.0V559.4H837.4V570.4H864.2V573.9H888.8V581.1H912.2V593.9H939.2V607.8H966.0V623.5H983.7V636.7H1002.6V650.3H1024.1V664.8H1041.5V679.9H1061.0V691.1H1083.0V698.9H1108.4V706.0H1133.7V711.6H1164.6V715.4H1194.0V716.7H1233.1V716.9H1272.4V717.0H1311.4V716.9H1356.6V716.9H1390.8V716.7H1433.7V716.5H1465.1"/><path d="M60.0 694.4H130.9V698.9H273.2V512.5H349.1V500.4H400.2V501.4H446.9V506.4H490.5V516.4H527.5V512.8H561.7V519.2H603.2V522.6H639.5V522.3H681.6V519.8H721.2V523.6H757.7V516.9H802.0V515.3H844.8V536.8H871.9V555.5H896.9V564.3H920.1V584.2H945.8V607.7H971.5V628.2H991.1V642.2H1011.4V655.8H1029.4V669.6H1050.0V684.8H1073.2V695.4H1092.5V701.8H1116.6V708.1H1142.2V712.1H1171.9V713.7H1198.3V714.7H1241.4V715.3H1282.7V715.5H1321.2V715.6H1361.9V715.5H1400.0V715.3H1441.9V715.2H1470.0"/><path d="M60.0 694.2H134.4V690.8H275.0V572.4H350.7V542.0H403.5V538.9H447.3V548.2H495.4V556.0H526.5V562.1H564.1V560.9H602.7V562.5H643.9V567.2H684.0V562.2H726.4V561.5H762.4V560.2H803.2V573.0H842.8V579.0H875.9V585.2H898.2V589.6H922.8V599.9H947.2V611.9H971.7V628.3H992.9V643.5H1012.8V656.6H1029.8V669.9H1053.5V686.8H1075.0V696.1H1094.7V702.4H1116.7V708.1H1141.3V713.2H1173.8V715.7H1202.5V716.4H1244.7V717.1H1280.8V717.0H1320.9V716.9H1364.0V716.7H1402.4V716.4H1442.4V716.5H1469.4"/><path d="M60.0 691.6H138.6V691.8H279.2V549.7H354.0V516.9H405.5V529.1H453.0V530.9H496.5V539.6H531.0V541.1H566.3V545.4H608.4V544.4H646.5V545.5H687.7V549.1H727.8V546.4H766.0V544.3H805.1V548.0H846.5V555.4H878.0V572.8H902.1V577.3H925.7V596.8H953.6V612.5H974.4V630.3H996.8V645.7H1017.7V659.7H1039.4V678.5H1057.6V689.1H1079.3V697.4H1098.7V703.4H1123.4V709.4H1148.0V713.4H1178.6V715.1H1205.1V716.1H1245.6V716.5H1289.5V716.5H1327.0V716.4H1366.9V716.2H1405.9V716.1H1444.0V715.7H1465.1"/><path d="M60.0 692.8H132.3V693.0H276.3V546.5H351.9V526.7H400.6V541.2H447.3V534.9H492.4V545.5H527.4V546.1H561.7V546.8H600.6V553.4H641.0V552.9H681.3V553.4H724.6V552.5H764.8V549.5H802.1V549.2H843.2V564.2H874.8V576.1H898.8V583.2H923.6V596.7H950.6V611.7H972.3V628.8H993.6V644.0H1013.2V656.9H1033.2V672.9H1053.6V686.8H1073.6V695.6H1094.4V702.3H1119.1V708.6H1144.4V713.3H1173.1V715.4H1207.7V716.5H1244.3V716.8H1283.9V716.6H1323.8V716.4H1364.9V716.5H1404.1V716.1H1442.7V716.2H1465.5"/><path d="M60.0 698.1H125.4V702.0H268.4V531.8H348.6V509.1H393.7V503.9H439.4V507.3H484.7V519.5H520.8V521.2H554.1V516.2H598.4V528.0H631.7V519.6H676.0V520.6H715.6V523.4H757.0V516.9H793.5V533.5H835.2V534.9H868.2V550.3H890.0V556.6H913.9V581.3H937.6V607.1H963.7V621.3H987.1V635.5H1004.9V651.7H1023.9V664.6H1044.1V681.4H1064.5V692.5H1084.8V699.5H1110.8V706.6H1133.7V711.5H1163.6V713.9H1195.9V714.9H1235.3V715.6H1278.3V715.7H1314.4V715.8H1357.3V715.6H1396.9V715.5H1432.3V715.4H1466.6"/><path d="M60.0 701.5H123.2V703.2H265.5V574.0H346.8V543.8H395.4V545.5H434.8V546.7H482.8V561.3H517.9V562.8H554.5V570.0H591.4V567.9H634.0V570.8H672.6V567.2H715.9V564.9H753.3V576.6H796.6V576.5H832.2V582.0H862.5V582.7H888.5V585.6H915.5V594.4H938.4V607.5H963.9V622.5H985.6V638.0H999.9V648.5H1020.4V661.6H1042.5V680.5H1062.4V691.7H1084.1V699.2H1109.5V706.3H1131.7V711.2H1161.9V715.2H1194.2V716.6H1234.0V717.1H1272.1V717.2H1312.8V717.1H1351.9V716.9H1391.4V716.7H1432.6V716.5H1466.4"/><path d="M60.0 686.1H144.9V684.5H285.8V524.2H354.8V500.8H413.2V498.7H461.6V503.8H503.7V532.2H539.7V518.8H574.1V523.4H614.2V529.0H654.6V523.4H693.2V523.8H733.7V520.7H773.2V530.0H813.4V532.6H854.1V541.6H882.5V554.7H910.2V580.1H936.1V603.6H958.4V619.0H982.1V634.7H1004.3V651.3H1022.2V663.1H1044.5V681.6H1064.5V692.5H1087.2V699.2H1104.5V704.9H1129.4V710.6H1155.0V713.1H1184.9V714.2H1212.2V715.3H1251.2V715.7H1292.3V715.8H1335.4V715.9H1373.3V715.5H1413.2V715.3H1454.9V715.4H1476.0"/><path d="M60.0 685.8H145.7V682.0H287.8V541.7H355.1V519.0H417.1V519.3H459.5V529.7H504.3V534.9H539.5V538.4H577.6V540.6H614.5V537.1H654.7V545.5H694.6V544.3H734.0V544.0H776.0V541.3H820.1V552.7H854.9V554.7H889.7V564.1H913.7V583.8H934.7V604.4H959.1V619.4H985.3V636.3H1003.9V651.1H1024.2V665.0H1045.7V682.3H1067.1V693.1H1083.8V699.1H1106.6V705.5H1132.6V711.1H1156.5V713.5H1187.4V715.3H1215.4V715.7H1255.7V715.8H1294.2V716.3H1332.7V715.9H1375.0V715.9H1416.5V715.9H1455.5V715.6H1469.4"/><path d="M60.0 689.6H136.7V687.4H282.2V513.4H352.3V495.9H407.8V503.9H454.2V503.1H494.3V511.3H530.5V519.5H566.3V519.3H605.0V512.8H647.9V517.0H685.7V524.5H727.6V520.3H766.9V516.3H805.0V521.2H846.4V532.7H874.0V553.9H900.8V565.4H926.3V583.9H947.6V608.0H976.7V631.6H993.9V644.3H1018.2V660.0H1033.7V673.4H1058.6V689.7H1077.1V696.4H1095.6V702.6H1119.9V708.8H1146.4V712.7H1175.7V714.3H1205.3V714.9H1248.5V715.3H1286.8V715.4H1325.6V715.8H1364.8V715.5H1403.5V715.4H1447.6V715.2H1468.2"/><path d="M60.0 693.3H132.3V689.7H277.0V572.1H349.5V532.6H402.6V535.8H448.7V552.2H495.1V549.7H526.3V550.8H562.3V558.9H602.8V551.8H643.6V557.9H684.2V559.1H723.8V556.7H763.3V565.7H803.4V561.4H845.3V573.5H874.0V579.1H896.3V584.9H925.2V598.4H948.9V612.2H973.1V629.3H992.8V643.5H1013.1V656.8H1034.4V674.0H1054.1V687.1H1076.6V696.4H1093.6V702.1H1119.2V708.6H1142.6V713.1H1172.6V715.5H1203.0V716.6H1243.8V716.7H1284.3V716.8H1324.4V716.8H1365.1V716.5H1406.6V716.4H1442.4V716.5H1463.8"/><path d="M60.0 687.9H140.7V682.8H284.0V553.8H356.1V530.3H413.4V530.3H459.5V542.4H502.2V545.0H535.4V544.3H574.0V550.7H611.9V551.8H652.8V551.2H690.7V559.8H732.8V561.2H771.2V554.5H810.8V551.7H852.7V560.4H884.5V573.4H905.0V588.6H935.1V604.8H959.1V617.9H981.1V634.8H1001.6V649.6H1022.1V663.0H1044.7V681.7H1060.5V690.7H1084.0V698.6H1100.3V703.8H1127.5V710.3H1155.2V714.2H1181.4V715.6H1213.0V716.5H1252.0V716.8H1292.3V716.5H1335.5V716.2H1373.6V716.3H1411.3V716.3H1449.8V715.9H1473.4"/><path d="M60.0 697.4H124.1V698.2H270.0V558.2H347.0V531.3H397.4V519.9H441.2V539.3H484.8V547.0H521.4V546.0H557.1V549.9H595.1V562.5H636.2V554.5H676.5V550.5H718.4V555.3H757.7V558.0H799.1V557.5H834.9V561.2H866.6V569.7H889.5V580.3H915.8V593.2H942.1V609.2H965.7V623.0H985.1V636.6H1007.4V653.2H1028.2V668.5H1044.6V681.7H1067.1V693.2H1084.6V699.4H1109.9V706.4H1137.4V712.2H1166.9V715.0H1198.5V716.3H1240.3V716.7H1274.9V716.5H1317.6V716.7H1356.7V716.5H1396.1V716.4H1437.7V716.4H1459.7"/><path d="M60.0 705.3H112.4V705.3H257.8V552.2H344.8V537.4H382.1V526.3H429.3V518.5H473.5V519.7H505.9V533.9H541.9V540.1H581.1V535.5H623.6V542.6H662.6V543.5H704.4V543.8H742.7V545.8H784.5V549.0H822.1V545.0H852.9V548.7H880.6V573.3H898.4V584.1H927.3V595.4H950.7V611.3H971.7V628.4H992.5V643.2H1011.0V655.5H1032.9V672.7H1052.7V686.3H1072.6V695.3H1094.9V702.4H1124.6V709.7H1154.5V713.6H1182.5V715.7H1220.8V715.8H1261.2V716.3H1303.1V716.2H1342.5V716.3H1382.4V716.0H1423.3V716.1H1453.0"/><path d="M60.0 696.1H126.9V696.4H268.6V563.2H348.8V539.7H397.9V529.6H443.2V536.7H487.2V553.1H521.8V557.0H558.2V551.4H597.7V549.7H634.3V562.9H677.6V562.3H714.9V555.9H759.9V550.3H798.4V567.1H838.9V568.4H868.0V567.6H891.8V581.4H917.2V591.9H942.4V609.1H966.3V623.5H988.8V639.5H1006.4V652.6H1028.8V669.0H1049.3V684.4H1068.8V693.8H1085.5V699.7H1116.3V707.9H1138.2V712.4H1166.2V715.3H1199.0V716.3H1240.7V717.0H1276.8V716.7H1316.8V716.6H1356.8V716.6H1397.0V716.3H1437.7V716.3H1463.6"/><path d="M60.0 684.4H147.2V679.5H291.2V533.9H355.0V508.4H417.5V516.9H463.3V523.5H506.5V533.5H544.1V527.3H576.5V529.0H617.0V527.2H656.0V539.6H696.8V534.4H739.3V540.0H775.9V530.3H819.5V543.2H856.8V559.9H888.7V561.0H912.6V584.4H935.7V605.3H961.9V621.0H986.1V638.6H1012.3V656.3H1028.9V669.1H1047.1V683.1H1065.2V692.7H1086.0V699.9H1107.5V705.8H1131.9V711.1H1158.0V713.8H1187.3V715.1H1215.2V715.6H1255.2V716.2H1296.5V715.9H1335.0V716.1H1379.2V715.8H1416.9V715.6H1458.0V715.6H1474.3"/><path d="M60.0 705.2H113.9V711.7H257.3V578.6H344.9V549.7H382.4V534.8H428.9V535.8H472.7V553.2H507.1V563.5H545.8V562.0H582.9V561.9H624.0V562.6H664.8V566.3H704.4V564.3H745.1V568.6H784.9V571.7H822.8V565.4H857.7V576.9H878.8V584.2H905.7V590.8H928.1V600.6H952.9V614.8H974.0V630.0H993.9V644.3H1015.4V658.3H1032.8V672.6H1056.2V688.3H1074.2V695.8H1101.0V704.0H1122.2V709.2H1153.7V714.3H1185.2V716.0H1220.5V716.7H1262.2V716.7H1302.6V716.9H1346.6V716.7H1384.1V716.5H1419.9V716.3H1461.5"/><path d="M60.0 699.6H118.9V701.7H261.6V548.5H346.6V513.6H389.9V515.9H436.6V520.8H478.1V530.2H516.8V529.7H548.7V530.1H589.1V539.3H629.5V533.8H670.3V535.9H708.5V541.5H754.0V535.8H793.5V536.5H831.5V537.1H857.9V555.9H888.1V568.6H909.5V586.3H935.2V604.3H960.1V612.4H979.8V634.1H1000.0V648.6H1020.0V661.2H1040.2V679.2H1059.8V690.3H1079.7V697.7H1106.9V705.6H1130.6V711.0H1161.0V714.1H1192.1V715.3H1228.0V715.9H1269.8V716.1H1309.7V716.1H1348.8V716.1H1392.3V716.0H1429.2V715.8H1462.9"/><path d="M60.0 689.9H141.4V685.2H283.8V545.3H354.5V519.5H409.5V521.3H458.9V528.8H501.5V535.4H533.5V535.8H572.3V538.1H610.8V541.7H649.8V533.7H690.8V544.0H731.9V537.0H771.9V542.3H808.5V548.5H853.4V550.4H881.4V572.2H903.2V586.6H929.0V603.1H958.2V613.4H977.4V632.4H1002.3V650.0H1018.9V660.5H1039.1V678.3H1060.2V690.6H1079.5V697.7H1101.5V704.2H1123.9V709.6H1150.3V713.4H1179.3V715.5H1209.1V715.9H1250.8V716.2H1288.0V716.2H1329.1V716.2H1372.1V716.2H1411.1V715.9H1449.6V715.9H1474.9"/><path d="M60.0 698.6H124.8V701.4H265.7V523.5H348.7V443.4H394.0V458.1H437.5V462.4H481.5V515.7H519.9V512.6H552.8V509.5H590.8V512.8H632.0V513.2H672.9V514.0H713.4V509.4H748.5V515.3H792.8V516.5H832.8V522.5H862.8V544.4H889.0V557.9H914.4V581.0H939.9V607.4H964.3V621.1H984.6V634.8H1004.8V651.6H1022.4V663.3H1042.7V680.6H1063.1V692.0H1081.9V698.5H1104.8V705.0H1132.3V711.3H1161.4V713.4H1191.6V714.4H1233.6V715.1H1274.6V715.2H1313.5V715.6H1352.0V715.6H1394.4V715.1H1432.7V715.4H1459.5"/><path d="M60.0 699.4H118.0V706.4H263.5V534.6H345.7V514.4H388.6V509.9H431.8V515.6H480.2V523.9H514.9V515.0H547.6V525.9H589.3V531.9H629.9V523.9H669.1V527.2H708.1V526.9H749.7V523.2H788.3V537.2H828.0V544.7H861.3V547.1H882.1V562.0H908.3V583.6H934.5V603.7H959.1V612.4H978.3V633.1H995.5V645.4H1018.5V660.2H1040.5V679.3H1060.7V690.8H1078.7V697.4H1100.4V703.9H1131.3V711.2H1160.1V713.8H1189.4V715.1H1229.5V715.7H1269.4V715.8H1308.1V716.0H1347.6V716.1H1390.2V715.6H1427.4V715.8H1463.3"/><path d="M60.0 693.0H133.4V695.9H275.4V567.4H350.9V541.4H402.6V536.5H444.9V545.2H492.2V559.4H527.5V560.4H562.9V567.1H599.1V556.4H641.8V567.1H680.9V567.7H721.2V569.1H762.6V570.7H802.8V567.8H842.2V577.0H871.9V580.0H896.5V586.1H920.9V594.9H944.5V610.1H970.5V627.5H992.2V643.0H1012.8V656.6H1031.8V671.7H1049.7V684.6H1070.7V694.6H1090.0V701.1H1115.0V707.7H1142.8V713.3H1172.2V715.6H1201.5V717.0H1242.5V717.2H1282.3V716.8H1320.4V717.0H1361.3V716.8H1403.3V716.6H1439.8V716.5H1471.2"/><path d="M60.0 700.9H118.9V707.8H263.0V523.4H348.0V494.5H391.2V493.0H433.9V489.8H480.4V499.1H513.0V504.5H551.5V520.6H588.5V508.1H628.9V512.9H667.3V511.6H712.8V509.2H749.9V502.2H789.4V510.9H828.6V519.6H859.2V528.1H883.1V552.8H910.6V577.3H934.3V602.0H957.8V616.2H981.2V634.3H998.7V645.3H1016.7V659.1H1036.8V676.2H1057.4V689.0H1079.2V697.5H1105.4V705.2H1128.8V710.6H1156.1V713.1H1188.4V714.2H1229.2V714.9H1269.2V715.1H1308.9V715.4H1351.5V715.4H1387.0V715.2H1427.9V715.1H1459.2"/><path d="M60.0 697.4H124.7V699.7H270.3V523.9H348.6V508.1H397.1V498.7H444.5V508.3H486.2V518.3H521.6V520.8H556.6V524.4H597.8V521.5H637.3V519.5H674.7V523.0H717.3V523.5H754.7V516.5H796.5V518.0H837.2V535.9H865.7V553.3H890.7V559.1H916.8V582.5H941.2V607.7H965.8V621.7H985.0V634.9H1004.5V651.5H1027.3V667.7H1045.7V682.3H1067.8V693.5H1086.1V699.9H1110.6V706.6H1134.3V711.6H1165.3V713.7H1196.1V715.2H1236.9V715.5H1274.3V715.6H1318.0V715.8H1358.6V715.6H1396.0V715.5H1435.9V715.3H1466.2"/><path d="M60.0 691.2H134.4V689.5H278.9V530.2H352.9V502.2H405.2V515.3H448.9V516.9H495.5V525.9H528.0V527.3H564.5V529.9H605.5V527.1H646.9V536.7H687.0V527.4H724.9V527.3H764.0V532.2H804.4V531.9H843.5V553.2H873.4V560.7H899.1V569.9H923.5V589.5H950.2V610.0H975.4V631.0H994.7V644.8H1014.0V657.4H1037.6V676.9H1055.3V687.8H1072.2V695.1H1093.7V702.1H1122.1V708.8H1142.2V712.5H1174.5V714.7H1204.8V715.6H1243.7V715.8H1285.9V716.0H1325.0V715.9H1366.0V715.9H1404.3V715.6H1447.4V715.5H1467.8"/><path d="M60.0 690.1H138.2V689.6H281.3V546.6H355.5V522.1H409.7V529.1H452.8V539.0H496.5V534.9H533.1V546.9H566.8V542.9H608.6V548.0H647.9V548.7H688.3V542.2H729.4V550.8H771.3V538.7H807.7V546.6H849.6V552.3H879.7V572.1H902.1V587.0H930.7V598.3H952.6V612.0H979.6V634.0H1000.3V647.5H1016.2V658.8H1037.2V676.6H1057.3V689.0H1079.6V697.2H1096.0V702.7H1124.6V709.7H1150.5V713.4H1177.9V715.3H1206.8V715.8H1248.9V716.3H1287.9V716.4H1326.8V716.3H1366.9V716.3H1407.1V716.0H1449.7V715.8H1473.4"/><path d="M60.0 696.9H122.0V701.0H265.3V542.3H347.6V517.3H395.2V516.4H439.3V522.1H481.5V525.1H520.3V533.6H555.8V535.5H594.2V538.1H636.3V542.5H673.6V540.9H712.0V538.7H752.4V541.0H794.1V532.8H836.0V553.5H863.4V555.4H887.3V566.6H915.0V588.1H938.8V607.5H964.9V616.7H980.5V634.4H1005.1V651.8H1023.3V664.1H1043.5V681.1H1066.7V692.9H1083.7V699.1H1109.1V706.2H1135.3V711.7H1163.2V714.1H1194.6V715.4H1231.7V715.9H1274.0V716.2H1314.6V716.0H1355.2V715.9H1392.4V716.0H1432.6V715.6H1465.5"/><path d="M60.0 686.8H144.3V681.1H285.4V568.0H356.9V538.9H416.9V538.1H458.5V552.7H506.8V553.0H538.2V562.8H574.4V563.5H616.0V562.3H653.9V563.0H693.5V558.9H735.0V562.2H775.0V565.6H813.9V569.7H854.2V578.1H884.3V579.9H909.2V593.0H936.8V605.8H958.9V619.3H985.5V637.4H1003.8V651.0H1024.5V665.2H1043.0V680.8H1062.0V691.6H1085.4V699.4H1103.0V704.5H1130.4V710.9H1152.8V714.0H1184.1V716.3H1213.4V716.8H1254.7V716.9H1294.4V717.0H1331.4V716.6H1374.5V716.7H1412.6V716.4H1457.4V716.4H1475.5"/><path d="M60.0 692.3H140.0V686.9H282.2V505.3H352.2V491.8H407.9V491.8H452.7V492.4H495.7V499.9H530.8V507.3H569.1V508.9H606.7V504.7H650.3V505.4H689.2V505.6H729.8V510.5H769.3V499.9H808.6V508.5H846.7V523.9H877.6V551.8H902.0V568.1H926.9V591.5H951.1V607.5H977.3V632.3H995.4V645.0H1015.6V658.4H1036.4V675.9H1058.1V689.4H1078.3V696.5H1096.2V702.8H1120.6V708.9H1146.9V712.3H1178.7V713.6H1207.2V714.4H1247.5V714.9H1287.7V715.1H1327.9V715.3H1367.1V715.4H1407.5V715.1H1448.4V714.9H1467.9"/><path d="M60.0 703.7H122.4V711.5H262.6V561.3H345.1V539.6H387.8V538.7H433.5V539.5H477.8V549.1H516.0V555.2H551.1V555.5H588.6V555.2H628.2V549.5H666.7V564.6H708.1V556.8H746.1V569.3H787.8V560.1H829.3V565.1H857.9V569.9H885.1V583.2H911.1V592.6H933.1V603.8H957.7V618.1H979.6V634.0H1000.3V648.1H1017.7V659.7H1038.1V677.3H1058.4V689.5H1077.8V697.1H1104.8V705.0H1129.8V710.8H1160.8V714.6H1189.5V716.3H1229.0V717.0H1266.7V717.2H1310.6V716.7H1347.8V716.7H1386.2V716.6H1429.5V716.4H1462.4"/><path d="M60.0 685.8H145.2V685.2H286.8V527.5H352.5V518.4H416.3V513.7H461.3V525.8H506.4V539.7H541.4V536.7H575.4V527.1H616.9V535.3H656.0V542.6H695.5V542.8H735.4V536.6H776.0V535.8H816.6V542.5H857.2V553.1H884.0V566.3H912.2V585.9H932.5V603.7H959.8V619.8H986.2V636.4H1007.2V653.1H1025.3V665.9H1046.4V682.7H1062.9V691.9H1084.3V699.2H1105.2V705.1H1128.6V710.6H1155.4V713.5H1182.1V715.2H1216.5V715.9H1255.6V716.1H1296.5V716.0H1335.8V716.0H1373.9V715.9H1415.1V715.8H1453.6V715.8H1476.9"/><path d="M60.0 694.9H127.3V696.1H269.6V576.6H344.9V546.6H396.8V548.3H442.5V551.5H487.4V562.3H521.3V571.0H557.7V571.9H598.2V572.3H637.2V571.2H678.7V574.6H717.5V575.7H755.3V573.5H799.6V578.9H836.2V577.4H868.6V585.1H891.3V591.1H916.7V598.3H941.7V609.2H967.7V625.4H985.9V638.5H1003.7V650.9H1024.1V664.9H1046.9V683.0H1066.4V693.1H1088.4V700.7H1112.7V707.1H1137.5V712.4H1167.0V715.7H1196.1V716.9H1237.4V717.3H1274.9V717.3H1316.8V717.1H1356.6V717.0H1396.4V716.8H1435.7V716.6H1463.0"/><path d="M60.0 689.7H135.2V690.9H283.9V516.7H353.7V503.9H406.6V511.5H453.8V515.2H495.7V522.9H532.0V529.8H566.8V530.5H608.0V522.4H646.2V518.9H689.6V522.3H725.3V524.3H765.5V514.2H805.3V520.7H846.8V541.4H879.1V561.1H902.2V571.0H926.5V595.1H951.0V610.1H977.7V632.7H996.0V645.3H1015.0V658.0H1035.3V674.9H1059.0V689.9H1077.5V696.9H1098.7V703.4H1122.2V709.2H1148.0V712.5H1177.2V714.2H1205.4V715.0H1245.4V715.7H1286.4V715.8H1324.0V715.8H1366.1V715.9H1406.7V715.8H1449.6V715.4H1467.3"/><path d="M60.0 699.3H128.3V697.8H271.5V541.2H348.4V517.5H400.1V517.6H444.2V514.3H488.5V525.8H523.0V537.9H559.3V537.6H599.9V538.9H638.0V535.4H676.3V530.4H718.4V537.6H758.8V528.9H796.0V535.1H838.5V548.6H869.5V552.4H893.0V573.7H919.7V588.0H943.9V608.9H969.8V627.0H991.6V637.6H1009.0V654.3H1028.7V668.9H1049.2V684.3H1067.2V693.4H1088.6V700.7H1116.2V708.0H1140.4V712.2H1168.2V714.3H1196.8V715.4H1237.3V715.9H1276.6V715.9H1317.7V716.1H1360.1V716.0H1398.0V715.8H1439.4V715.6H1469.5"/><path d="M60.0 686.8H144.0V680.7H286.8V550.1H354.2V525.4H415.8V529.9H460.1V533.7H505.6V540.6H538.1V547.1H575.9V540.7H613.7V539.9H654.7V543.2H696.4V548.1H733.7V546.2H772.5V541.9H814.4V552.4H856.1V559.6H882.9V573.6H907.0V587.4H936.0V605.0H961.4V620.9H985.4V636.5H1006.4V652.7H1024.1V664.8H1043.0V680.8H1063.3V692.1H1086.0V699.6H1105.6V705.3H1129.5V710.5H1152.5V713.8H1184.8V715.6H1213.1V716.1H1255.2V716.2H1295.7V716.7H1335.5V716.2H1373.8V716.1H1413.7V716.0H1456.2V716.2H1477.9"/><path d="M60.0 687.3H145.6V688.5H284.9V539.3H353.9V524.6H413.8V529.9H455.8V536.8H503.8V546.9H535.8V556.1H573.4V550.0H613.2V550.8H654.1V556.2H690.7V547.8H732.0V546.9H771.2V549.4H810.1V547.4H853.9V562.6H884.8V577.3H907.7V586.7H933.5V604.3H959.7V619.8H981.9V635.2H1002.5V650.2H1023.8V664.6H1045.2V682.0H1061.4V691.3H1080.8V698.0H1100.3V703.8H1126.4V710.1H1153.8V714.0H1184.4V716.0H1214.6V716.1H1253.5V716.5H1292.5V716.6H1334.3V716.5H1374.3V716.5H1411.3V716.1H1451.6V716.1H1469.8"/><path d="M60.0 697.5H126.2V696.8H268.4V559.9H348.7V525.5H395.9V522.2H440.8V526.0H483.9V542.0H518.8V540.7H558.5V554.0H595.8V543.1H634.4V553.7H676.4V545.3H717.7V545.1H752.0V548.7H794.2V554.1H836.8V560.8H863.9V566.1H889.0V576.6H917.5V591.1H942.5V609.0H965.5V622.5H987.3V637.5H1002.9V650.4H1024.7V665.4H1044.3V681.5H1068.2V693.6H1086.0V699.9H1111.6V706.8H1135.6V711.9H1165.7V714.5H1194.1V715.6H1236.8V716.4H1278.0V716.2H1313.7V716.6H1356.3V716.4H1399.2V716.1H1435.6V716.3H1467.2"/><path d="M60.0 695.4H128.0V696.5H274.6V559.1H350.4V463.7H399.0V472.4H442.9V475.6H489.1V544.1H528.7V548.7H558.4V557.7H599.6V553.6H642.5V541.8H677.0V559.5H719.6V550.5H760.3V558.8H800.3V567.2H838.3V568.4H870.8V574.4H896.9V582.4H917.2V592.0H943.8V609.6H971.6V627.7H990.5V639.9H1008.4V653.9H1030.3V670.3H1050.8V685.2H1071.0V694.5H1088.2V700.6H1114.1V707.5H1139.9V712.6H1171.5V715.1H1199.3V716.1H1239.7V716.6H1281.9V716.6H1322.3V716.7H1359.7V716.4H1399.3V716.3H1442.2V716.2H1466.2"/><path d="M60.0 695.8H129.9V696.0H274.8V552.0H351.0V522.5H401.5V525.5H445.4V524.7H491.4V537.4H528.5V542.0H564.3V536.1H599.7V549.2H644.5V541.7H681.3V552.2H722.6V553.7H761.1V545.2H801.1V555.3H842.7V565.3H872.0V572.3H896.3V581.5H922.8V590.3H944.3V609.0H971.8V628.4H993.2V643.7H1011.7V656.0H1032.5V672.4H1048.9V684.1H1072.5V695.2H1093.5V702.0H1117.1V708.2H1140.9V712.7H1170.8V715.1H1203.5V716.0H1242.7V716.4H1282.3V716.3H1324.4V716.5H1361.2V716.2H1402.7V716.3H1440.1V716.0H1470.9"/><path d="M60.0 699.8H120.9V704.1H266.6V558.6H347.6V525.3H389.3V526.1H436.0V526.9H481.7V545.6H516.6V545.5H552.2V547.6H592.4V544.0H630.9V550.6H670.8V549.3H711.7V548.7H753.9V555.0H791.1V551.6H833.2V563.7H862.8V565.1H886.9V572.3H913.9V588.8H937.3V605.5H960.5V620.3H982.5V635.4H999.3V648.1H1022.6V663.5H1041.7V680.1H1061.9V691.4H1079.7V697.7H1106.0V705.4H1131.2V711.1H1164.3V714.8H1191.0V716.1H1233.7V716.6H1270.8V716.5H1311.2V716.5H1352.5V716.4H1392.6V716.1H1434.7V716.1H1457.0"/><path d="M60.0 693.0H136.0V694.1H278.7V557.6H351.2V533.4H406.5V533.0H450.2V543.8H497.4V545.5H531.9V551.1H565.8V550.8H603.5V561.0H645.0V553.0H685.1V548.4H723.5V557.0H762.7V558.3H808.6V562.4H844.3V569.2H875.1V578.9H899.3V584.4H924.8V598.1H950.9V613.4H974.7V630.5H993.9V644.3H1017.1V659.4H1033.3V673.1H1057.5V689.1H1074.0V695.8H1096.1V702.7H1120.8V709.0H1146.1V713.7H1171.9V715.4H1204.1V716.6H1246.9V716.6H1285.0V716.6H1326.5V716.8H1365.2V716.7H1406.6V716.3H1445.7V716.2H1468.8"/><path d="M60.0 689.2H142.2V688.2H282.2V540.3H352.9V519.0H408.3V509.4H455.4V529.4H502.6V528.4H534.4V535.8H569.8V529.8H609.0V532.3H647.1V533.2H691.7V536.4H731.6V535.4H768.8V529.8H809.2V542.3H849.4V553.2H880.9V568.1H904.8V587.4H929.6V598.6H956.7V613.3H980.3V634.3H1000.8V649.1H1020.5V661.6H1040.2V679.2H1060.9V691.0H1082.1V698.0H1100.3V703.8H1125.9V709.9H1150.2V713.4H1181.3V715.0H1209.2V715.6H1248.6V716.2H1287.6V716.1H1329.5V716.0H1368.9V716.0H1409.3V715.9H1451.9V715.7H1472.0"/><path d="M60.0 701.6H116.7V709.1H258.4V528.1H344.9V513.1H386.2V496.3H430.2V511.3H475.4V518.6H510.9V516.0H545.5V514.3H586.3V524.7H626.3V524.7H667.0V520.8H706.4V527.2H749.8V519.2H786.2V527.4H825.2V523.4H858.4V540.3H883.0V555.1H909.3V582.4H934.1V593.5H955.4V609.5H977.6V632.5H995.4V645.1H1015.6V658.4H1036.9V676.3H1057.1V688.8H1078.9V697.4H1102.1V704.3H1128.9V710.6H1155.7V713.3H1189.3V715.2H1228.1V715.2H1267.1V715.5H1309.7V715.6H1350.1V715.8H1385.6V715.6H1428.9V715.3H1456.9"/><path d="M60.0 705.9H112.9V712.2H252.6V531.7H346.7V500.7H378.3V497.6H425.9V490.6H471.7V504.4H506.6V507.5H539.2V508.2H582.2V508.8H620.7V512.3H663.8V512.3H702.2V515.3H743.9V515.8H781.1V508.4H822.6V514.3H853.5V529.1H876.8V556.8H898.5V575.7H927.8V579.6H949.1V607.8H972.0V628.5H993.5V644.0H1011.6V655.9H1030.4V670.5H1049.1V684.3H1071.0V694.7H1094.6V702.3H1119.0V708.6H1150.9V712.4H1179.3V714.6H1223.2V715.1H1261.0V715.1H1299.8V715.4H1339.4V715.5H1378.6V715.5H1421.7V715.2H1452.2"/><path d="M60.0 696.4H128.8V696.7H269.9V531.6H349.3V508.8H399.0V513.7H443.8V519.2H486.7V519.1H525.4V529.3H556.6V529.9H600.3V530.3H637.2V532.4H676.0V525.0H718.9V523.2H758.2V531.7H800.2V527.7H836.7V542.3H866.8V557.4H890.4V566.3H916.9V582.4H942.3V608.1H966.6V624.1H989.7V637.3H1006.9V652.9H1027.2V667.6H1046.0V682.5H1067.7V693.6H1087.7V700.5H1112.3V707.0H1138.4V712.2H1169.5V714.4H1198.5V715.1H1236.0V715.9H1278.1V716.1H1319.3V715.9H1357.6V715.9H1398.5V715.8H1434.0V715.5H1461.2"/><path d="M60.0 700.3H121.0V704.9H265.4V538.8H346.2V510.1H393.5V514.3H438.7V518.2H483.7V521.4H517.5V533.6H552.3V533.6H593.0V538.3H634.9V535.2H671.6V523.7H712.7V534.4H754.7V533.3H794.4V537.8H832.3V551.0H865.1V548.6H887.1V566.0H913.4V585.4H939.1V607.5H964.1V621.6H987.0V636.4H1005.1V651.8H1020.5V661.6H1044.8V681.8H1064.3V692.1H1081.6V698.4H1107.9V705.9H1135.2V711.7H1164.6V714.0H1189.5V715.5H1235.5V715.7H1273.4V716.0H1313.5V716.2H1351.9V716.0H1395.1V715.9H1433.3V715.6H1460.1"/><path d="M60.0 701.4H117.6V705.0H261.4V518.3H344.9V504.9H388.8V492.6H434.2V489.5H475.9V499.1H511.3V500.5H546.5V508.6H589.9V504.3H627.8V505.1H668.0V510.5H708.7V505.6H744.9V503.1H788.8V503.5H829.2V511.0H860.5V523.9H882.1V548.1H909.8V578.0H934.2V602.9H958.7V607.2H975.8V631.3H999.2V648.1H1022.2V663.1H1040.2V679.2H1060.7V690.2H1076.5V696.6H1103.6V704.7H1126.4V710.1H1159.1V712.6H1185.6V714.2H1226.6V714.6H1268.4V715.0H1310.2V715.2H1347.7V715.4H1391.1V715.5H1427.0V715.0H1456.5"/><path d="M60.0 688.5H141.9V687.6H284.1V580.5H353.8V538.9H414.8V548.3H456.9V559.7H503.7V565.5H537.7V571.6H571.2V568.7H613.4V569.9H653.1V569.6H692.8V565.9H731.4V576.0H772.8V571.1H814.1V573.9H852.3V583.1H883.1V587.7H907.2V594.7H931.2V603.5H956.9V618.2H981.7V635.5H1003.7V650.9H1021.0V662.1H1042.3V680.4H1063.7V692.2H1083.1V698.8H1100.1V703.8H1128.3V710.4H1152.6V714.3H1185.8V716.6H1210.0V717.1H1249.4V717.3H1292.2V717.2H1329.9V717.1H1371.7V716.8H1412.7V716.6H1452.4V716.6H1467.9"/><path d="M60.0 695.7H129.5V695.2H274.5V533.2H349.4V514.7H394.4V511.9H448.2V519.2H489.6V532.7H524.7V531.2H559.0V535.6H599.0V530.3H639.9V531.3H679.5V535.5H719.1V529.7H762.8V531.7H798.5V534.7H842.9V548.3H870.7V561.8H894.6V566.8H917.2V584.4H946.3V609.6H970.2V623.4H986.6V636.2H1008.4V653.9H1032.0V671.9H1048.4V683.8H1070.1V694.1H1087.6V700.4H1114.0V707.5H1141.7V712.5H1171.3V714.4H1199.6V715.6H1238.7V715.6H1279.7V716.1H1320.0V716.0H1358.8V716.2H1398.2V715.7H1437.7V715.7H1470.2"/><path d="M60.0 684.4H146.1V683.0H289.6V502.9H354.5V495.5H415.9V492.6H460.1V504.0H507.8V508.4H543.6V508.8H572.3V504.1H615.5V509.7H655.7V515.2H697.9V516.7H736.0V514.9H773.4V516.0H816.2V525.7H855.5V530.3H883.6V548.1H912.1V578.9H935.0V603.5H961.3V620.8H984.2V634.7H1003.7V650.9H1024.6V665.3H1043.3V681.0H1066.7V693.2H1085.7V699.8H1109.0V706.2H1131.9V710.7H1155.0V712.7H1186.0V714.0H1216.0V714.6H1254.6V715.1H1294.7V715.4H1336.0V715.4H1377.6V715.6H1414.1V715.2H1457.7V715.2H1473.9"/><path d="M60.0 705.5H114.8V710.5H258.8V534.5H346.9V511.2H384.6V502.9H429.8V506.0H474.9V517.5H504.8V516.3H545.0V528.8H581.4V521.8H626.8V521.7H665.1V522.6H706.3V527.2H744.4V521.6H786.9V516.3H825.0V536.5H855.5V547.1H879.1V561.0H906.5V582.4H929.8V593.6H951.6V609.6H973.0V629.2H993.5V643.9H1016.1V658.7H1033.1V672.9H1054.7V687.5H1070.2V694.4H1099.5V703.6H1123.1V709.4H1153.5V713.3H1184.5V715.0H1223.1V715.3H1265.2V715.6H1303.7V715.6H1344.7V715.8H1384.8V715.7H1422.9V715.4H1461.0"/></g>
<g fill="none" stroke="#F0932F" stroke-width="2.20" stroke-linejoin="miter" stroke-linecap="butt"><path d="M60.0 626.7H126.2V628.3H144.8V635.4H162.3V633.7H230.5V558.9H297.8V555.0H325.1V588.9H341.6V597.3H367.2V595.7H390.6V638.0H413.3V640.9H443.3V665.4H470.3V669.0H495.8V684.4H517.6V684.0H542.7V691.0H566.2V692.3H593.2V692.9H615.3V690.9H640.6V686.6H664.7V681.1H689.1V673.9H711.5V664.1H738.4V655.6H764.7V635.6H785.4V625.6H808.5V612.0H830.9V599.1H856.4V601.5H881.0V610.7H905.4V612.7H927.6V622.6H951.0V631.9H977.2V646.6H998.3V659.3H1022.9V670.5H1047.8V680.5H1068.5V691.9H1096.4V696.6H1119.8V703.3H1148.2V707.2H1177.2V710.2H1205.5V711.6H1240.5V711.8H1274.5V712.2H1315.5V712.1H1354.4V712.3H1397.3V712.1H1435.1V711.7H1467.7"/><path d="M60.0 619.6H139.9V618.2H159.1V625.2H176.3V621.6H212.8V586.6H300.6V597.9H329.0V617.7H358.5V630.9H381.0V638.2H402.4V660.4H429.2V668.2H456.1V686.5H488.1V682.0H510.6V695.8H533.3V695.4H561.6V700.7H581.2V700.5H604.6V700.9H632.0V697.5H651.0V692.1H678.3V688.6H699.5V679.7H726.0V673.4H750.2V659.0H776.4V647.5H800.4V642.3H821.4V628.5H846.9V624.3H869.0V637.7H896.2V632.9H915.5V639.9H939.9V649.8H965.0V652.9H990.5V664.8H1014.7V673.9H1037.1V683.6H1061.9V691.3H1085.6V697.5H1109.6V703.8H1135.6V708.2H1158.9V711.6H1188.6V713.4H1220.4V715.1H1253.7V715.1H1292.3V715.4H1328.0V713.8H1372.5V712.8H1409.8V712.6H1447.4V712.3H1465.8"/><path d="M60.0 620.7H135.8V627.8H155.1V617.3H172.9V624.0H216.9V565.3H297.8V546.9H329.5V595.0H351.4V600.7H376.8V610.6H402.1V647.4H425.4V654.6H455.8V670.4H482.0V668.5H505.2V686.5H532.5V689.1H552.8V695.3H577.2V694.2H601.4V691.9H626.2V690.3H651.7V684.6H670.3V679.6H698.0V670.1H725.0V665.0H745.5V650.4H771.4V639.4H794.5V624.2H816.4V613.3H839.7V605.7H866.8V612.1H891.1V615.0H910.6V617.3H936.9V626.9H960.1V637.7H985.2V654.1H1007.6V665.4H1034.7V677.0H1058.3V685.6H1079.4V693.9H1104.3V700.1H1131.3V704.8H1155.8V708.7H1184.9V711.8H1217.4V711.9H1251.8V712.6H1285.9V713.4H1327.1V713.0H1365.2V712.5H1405.8V712.1H1446.1V711.9H1467.2"/><path d="M60.0 600.2H136.8V613.1H154.6V604.7H176.2V610.4H220.7V618.5H300.4V640.2H328.4V635.9H351.2V654.8H377.5V670.1H403.4V691.6H426.6V691.6H452.0V700.9H482.6V700.4H504.9V706.3H530.2V705.0H556.5V712.2H580.7V712.1H604.3V712.0H627.5V706.6H654.6V703.6H672.6V698.0H697.3V693.8H722.1V683.8H748.5V678.3H769.6V671.0H793.9V665.8H818.0V661.7H841.6V660.4H867.0V655.3H890.4V658.3H918.0V661.2H934.1V660.5H961.9V666.3H988.9V670.9H1007.1V679.8H1034.7V689.4H1060.6V697.2H1084.2V703.4H1106.6V707.1H1135.0V712.2H1154.0V714.3H1185.5V716.5H1215.5V717.9H1253.4V718.3H1288.0V718.0H1329.0V715.5H1367.8V713.7H1404.2V713.2H1446.8V713.1H1473.0"/><path d="M60.0 637.4H122.6V643.7H139.4V636.1H161.0V639.8H241.4V587.3H296.6V600.8H321.0V618.9H340.7V625.3H365.6V638.9H387.8V657.8H412.1V676.1H441.8V681.4H468.0V685.9H493.2V694.7H516.4V697.0H544.0V704.3H564.3V704.1H586.8V702.4H613.0V704.7H635.1V695.6H660.1V692.3H682.6V683.3H708.8V677.5H733.8V672.4H758.6V656.3H781.4V649.5H804.2V641.6H826.7V634.2H852.3V637.1H877.5V637.6H901.5V640.5H924.9V647.3H948.0V650.9H975.7V658.6H996.3V667.9H1021.2V677.7H1045.4V687.1H1068.1V695.0H1094.1V702.1H1116.9V706.2H1142.0V710.8H1171.9V712.8H1201.7V714.5H1238.7V715.3H1272.1V715.6H1313.2V714.1H1348.3V713.6H1393.8V712.8H1433.0V712.8H1456.5"/><path d="M60.0 651.5H129.2V651.3H146.9V643.6H167.2V644.9H221.6V579.6H295.9V569.8H326.0V607.0H347.2V608.4H368.9V622.3H395.0V649.0H417.3V653.8H447.1V675.7H477.9V673.8H498.1V689.1H522.3V688.2H549.0V698.0H573.2V699.2H596.0V697.5H623.3V693.2H646.3V688.9H668.2V683.3H690.7V674.4H716.5V668.6H742.0V656.1H763.6V645.5H787.8V631.6H810.3V627.6H835.2V618.5H861.6V621.4H885.1V617.3H907.8V629.7H929.5V628.5H956.3V644.1H977.8V654.0H1004.9V665.0H1026.5V675.5H1049.4V684.9H1076.0V694.6H1100.0V698.7H1123.9V706.0H1153.2V709.7H1179.4V712.4H1209.1V712.8H1245.2V713.2H1276.2V713.7H1321.8V713.3H1362.1V712.8H1401.5V712.2H1440.3V712.1H1467.6"/><path d="M60.0 668.3H123.1V661.1H150.0V655.8H164.0V662.3H230.7V601.0H294.9V595.3H322.5V618.6H345.4V628.3H369.3V639.7H390.4V662.8H415.4V674.0H445.4V687.9H473.7V684.5H495.2V696.8H518.9V699.0H545.5V706.4H572.1V705.7H593.9V704.8H617.6V702.9H641.8V698.8H663.2V689.6H691.1V684.4H714.4V678.4H739.4V668.3H759.3V658.0H784.1V653.0H808.6V649.5H831.0V638.2H858.9V641.1H881.6V633.8H904.0V644.7H929.3V652.9H955.4V652.7H974.7V659.5H1000.9V670.9H1023.9V679.7H1048.9V688.7H1071.7V696.3H1098.5V702.2H1121.5V707.1H1145.0V711.6H1178.1V714.4H1204.5V714.5H1237.5V715.5H1275.5V716.3H1314.7V714.3H1356.7V713.4H1398.2V712.9H1437.5V712.7H1467.6"/><path d="M60.0 646.9H118.2V652.8H139.0V650.7H156.3V660.1H240.6V562.8H292.8V559.1H317.3V593.1H337.1V598.2H360.5V616.7H384.5V639.3H408.9V647.3H434.8V669.4H464.3V676.1H490.3V678.8H511.2V684.9H534.6V693.6H563.6V695.2H587.4V693.8H609.1V693.1H634.5V692.2H658.0V685.3H681.9V677.2H705.0V668.7H728.0V664.1H753.8V644.8H778.7V633.6H801.8V622.1H823.6V616.2H849.6V613.0H874.2V611.8H897.9V616.9H921.4V624.3H944.9V634.4H971.2V647.8H996.7V658.2H1017.0V667.4H1037.7V680.0H1066.9V690.7H1089.6V695.0H1113.8V702.9H1138.6V707.4H1169.7V710.8H1200.8V711.6H1231.1V712.3H1269.1V713.8H1309.6V712.7H1349.7V712.7H1387.6V712.4H1432.1V712.0H1462.8"/><path d="M60.0 649.9H129.8V646.4H152.3V642.6H167.4V649.8H227.5V588.7H296.8V593.8H326.7V617.0H347.3V623.6H374.1V634.9H396.7V662.7H419.7V664.1H449.0V683.8H479.3V684.2H500.1V697.3H526.5V699.1H546.7V703.1H573.6V699.9H596.6V701.7H620.4V703.1H646.2V694.7H669.6V688.2H695.1V684.3H717.0V675.0H739.4V668.1H764.6V649.8H790.2V644.3H812.9V625.3H838.0V636.6H858.4V629.0H884.5V637.0H906.0V633.3H933.6V642.0H958.3V647.8H979.1V660.3H1006.9V672.3H1031.7V680.7H1052.2V690.0H1078.7V697.9H1101.7V702.3H1127.5V706.8H1151.6V710.6H1181.1V712.9H1208.4V714.7H1245.5V714.9H1283.7V715.5H1322.1V714.0H1360.0V713.0H1401.0V712.7H1441.6V712.5H1468.5"/><path d="M60.0 588.7H138.9V594.4H158.7V612.8H178.6V616.3H212.7V608.5H300.9V624.2H329.1V628.3H356.8V650.9H381.9V649.3H404.0V680.3H429.4V685.0H455.6V694.7H482.8V694.2H508.4V701.5H532.0V699.9H555.8V708.5H581.0V708.4H605.1V704.8H630.0V704.8H651.5V696.7H677.8V691.3H703.4V685.5H725.3V679.8H749.0V668.9H775.4V656.7H799.2V655.4H820.0V648.0H843.5V643.8H870.4V646.9H891.4V652.2H917.4V649.0H940.1V651.1H964.6V660.1H986.0V670.5H1010.5V676.6H1038.1V685.1H1061.6V696.0H1085.1V702.8H1109.2V705.9H1133.2V710.2H1159.6V713.0H1190.4V714.9H1218.8V716.4H1255.9V716.6H1287.1V716.5H1329.3V714.7H1368.0V713.2H1409.2V713.0H1447.8V712.7H1470.2"/><path d="M60.0 641.0H131.0V639.1H149.1V641.6H163.6V643.2H232.2V573.5H295.1V581.8H323.1V603.7H346.3V613.7H371.9V630.5H394.3V661.5H419.2V661.7H447.8V679.6H475.3V680.4H501.3V690.8H520.7V691.8H547.7V697.5H572.2V698.7H596.5V699.8H618.5V696.0H644.2V691.0H666.7V687.4H692.5V678.3H716.1V667.9H736.2V669.8H762.1V644.8H789.5V638.3H809.7V629.7H832.9V624.8H859.7V623.6H880.8V616.1H908.1V631.4H932.8V636.8H955.7V643.8H980.6V655.8H1003.6V667.6H1029.4V677.5H1051.6V688.0H1076.1V694.7H1101.2V701.2H1124.5V706.8H1148.3V709.6H1182.1V711.9H1207.7V713.5H1245.6V714.4H1280.4V713.9H1318.9V713.8H1358.2V713.1H1401.4V712.5H1443.6V712.2H1468.0"/><path d="M60.0 636.2H136.7V632.3H155.2V636.5H172.4V633.8H215.6V585.9H296.7V597.8H328.0V609.3H355.2V626.1H379.6V627.9H400.7V663.6H428.4V669.5H453.1V681.6H481.3V685.1H503.1V693.4H529.4V692.9H556.1V701.5H574.6V700.5H603.5V701.5H627.2V701.7H648.9V693.6H673.6V689.2H698.2V678.1H721.7V674.1H747.1V659.6H768.1V648.6H791.7V637.6H816.4V632.4H839.7V628.7H865.9V623.8H888.2V623.4H912.1V634.9H939.1V639.8H963.3V649.5H982.6V661.3H1010.5V672.0H1030.7V680.0H1056.8V689.9H1081.4V697.1H1105.1V701.4H1129.2V707.4H1154.9V710.8H1186.4V713.1H1217.4V713.8H1252.6V714.8H1284.1V714.1H1326.8V713.8H1364.9V712.8H1406.2V712.5H1445.1V712.3H1468.8"/><path d="M60.0 642.4H127.3V638.3H148.9V638.7H164.7V635.3H228.9V585.6H294.6V601.1H324.2V617.6H345.0V633.3H370.3V638.3H391.6V658.0H420.2V672.8H446.2V688.1H475.7V688.8H497.9V695.2H519.9V695.8H545.9V701.5H570.9V704.7H595.8V699.5H616.9V703.0H640.8V698.1H665.2V690.2H692.4V684.4H712.9V674.8H739.1V669.2H762.0V657.9H786.0V645.5H809.1V636.1H834.7V638.5H858.3V635.6H882.6V636.2H904.1V639.8H931.0V639.3H953.3V648.5H978.6V658.4H1000.4V668.5H1027.3V679.8H1050.5V688.5H1076.1V697.4H1099.6V702.7H1125.0V706.6H1149.5V711.8H1177.7V713.4H1210.7V715.2H1242.8V716.2H1279.8V715.7H1319.7V714.2H1359.4V713.1H1402.1V712.8H1438.6V712.5H1462.8"/><path d="M60.0 608.8H133.2V611.3H155.2V614.1H172.0V612.5H211.9V608.7H297.4V625.5H326.5V632.2H353.5V650.6H378.9V660.3H400.6V683.4H425.3V686.5H452.9V696.7H484.2V693.8H505.2V701.9H531.0V702.1H556.3V708.7H578.3V708.9H600.1V710.3H626.4V703.5H652.2V700.6H673.3V696.6H695.0V688.1H722.7V681.5H746.4V673.2H769.7V667.3H793.8V661.2H818.2V646.0H842.2V649.9H866.3V650.9H889.2V643.2H913.4V653.9H940.0V658.0H963.6V661.0H986.2V668.7H1009.6V675.8H1035.3V688.2H1058.3V694.2H1081.9V702.2H1105.0V705.3H1132.2V710.7H1156.6V713.4H1182.7V715.5H1217.8V716.4H1252.8V716.5H1286.0V717.0H1325.7V715.0H1366.9V713.4H1407.4V713.0H1445.5V713.0H1466.8"/><path d="M60.0 631.7H130.9V623.8H146.3V630.2H164.7V628.8H224.3V609.7H300.0V622.1H321.4V632.8H347.1V642.2H370.0V661.3H394.1V681.0H420.2V682.6H449.1V695.8H470.9V698.8H500.1V702.1H522.6V702.6H547.7V707.9H571.5V708.7H593.4V710.1H616.9V706.6H640.5V703.5H665.1V695.9H688.2V694.1H715.6V684.7H736.5V675.3H762.2V669.5H784.7V658.4H809.3V655.9H831.8V645.8H859.7V647.4H879.0V654.7H907.7V653.0H930.7V660.0H952.3V660.9H981.9V667.0H1001.9V673.6H1022.3V682.6H1047.1V691.1H1074.2V699.8H1097.6V704.5H1122.6V708.6H1145.7V712.1H1176.8V714.9H1205.1V716.1H1243.9V717.6H1277.2V717.3H1318.0V715.0H1360.2V713.5H1399.4V713.0H1440.9V712.8H1461.4"/><path d="M60.0 646.4H128.1V647.3H147.5V646.2H168.4V649.7H224.5V618.2H296.1V633.2H327.6V637.6H346.9V654.0H371.6V667.9H395.6V682.6H420.7V691.1H451.1V699.3H479.0V700.7H500.4V703.9H525.1V706.2H548.2V712.2H574.2V710.3H597.5V712.0H622.9V709.5H646.1V704.1H668.8V696.4H692.4V692.8H715.4V685.5H744.6V679.3H766.3V672.9H787.7V666.2H813.7V656.4H836.9V654.5H859.5V653.8H887.3V657.5H909.3V660.5H934.0V656.9H956.4V664.0H982.5V670.2H1007.3V679.9H1025.0V685.9H1052.6V693.4H1076.1V700.8H1098.0V705.7H1125.8V710.0H1150.7V714.0H1178.5V715.2H1209.1V717.0H1247.2V717.0H1279.5V717.1H1321.9V715.5H1363.0V713.8H1400.6V713.3H1439.9V713.0H1469.0"/><path d="M60.0 653.3H125.5V652.4H146.3V657.0H163.4V651.8H236.2V564.1H294.7V578.3H322.7V596.6H342.1V598.4H366.5V617.9H390.5V642.7H414.5V653.1H440.3V674.0H472.3V677.2H497.1V690.2H519.3V688.2H542.7V696.2H569.4V696.3H590.7V697.5H613.9V694.9H637.4V691.8H661.0V685.4H686.3V675.5H711.0V668.1H734.8V662.7H759.4V643.6H782.9V632.5H808.7V622.3H832.1V611.0H856.8V607.8H878.9V614.5H900.9V625.3H927.0V628.8H950.7V635.0H975.7V648.3H998.6V660.6H1023.4V672.8H1050.7V683.8H1070.7V691.9H1094.3V697.2H1119.9V704.1H1146.5V708.3H1175.4V711.5H1206.2V713.1H1241.1V712.4H1276.1V713.2H1313.1V712.9H1356.0V712.6H1393.4V712.2H1435.9V711.8H1459.1"/><path d="M60.0 623.5H140.0V631.5H155.8V631.1H178.3V623.0H219.6V606.7H301.2V636.1H330.0V637.0H355.7V659.3H381.0V664.6H402.3V686.7H429.1V688.7H457.3V702.3H484.8V695.5H509.3V704.4H532.2V704.8H554.7V708.6H579.2V710.3H603.2V707.9H631.8V706.1H652.5V698.7H677.1V696.1H697.1V689.2H724.3V685.5H748.2V676.4H772.8V665.3H796.0V660.7H820.8V649.9H846.2V654.4H867.3V659.2H892.6V653.0H914.9V656.6H943.0V658.5H964.6V666.7H987.5V672.4H1011.0V679.1H1035.0V687.2H1060.8V695.7H1084.7V701.7H1107.0V707.1H1133.5V711.2H1159.9V713.9H1188.3V715.5H1218.6V717.1H1256.7V717.7H1290.7V717.3H1328.4V715.1H1368.1V713.5H1408.2V713.1H1450.4V712.9H1466.6"/><path d="M60.0 624.3H134.0V628.7H155.7V634.6H172.1V631.9H214.2V586.8H297.7V579.9H325.5V606.4H349.1V615.3H373.2V623.0H400.3V655.3H425.8V652.6H450.0V678.9H480.8V680.9H506.4V689.6H529.9V692.0H552.3V698.2H574.9V696.7H600.4V697.8H623.4V694.6H647.9V690.4H674.1V685.0H695.2V674.8H720.3V671.5H742.5V659.3H768.5V644.2H791.1V631.5H814.1V620.7H842.2V619.7H867.6V619.0H889.8V626.0H913.9V624.5H933.7V634.8H961.7V642.5H980.6V658.6H1006.7V667.6H1034.0V678.5H1056.7V688.2H1082.7V695.0H1103.9V701.5H1129.5V706.8H1156.8V709.8H1183.6V712.6H1211.6V712.9H1248.1V713.8H1283.1V714.5H1321.9V713.2H1361.9V712.7H1401.4V712.3H1445.1V712.1H1469.7"/><path d="M60.0 573.2H132.5V586.0H154.1V597.3H169.4V622.2H226.6V566.8H298.3V573.2H325.5V608.4H350.2V620.0H375.6V622.8H399.6V654.6H421.3V654.7H450.2V678.0H478.4V676.8H506.9V687.1H527.8V690.9H551.0V694.7H573.5V696.0H599.7V693.9H623.0V692.0H651.3V687.2H668.2V681.8H695.9V672.5H719.2V669.7H742.7V654.2H768.9V638.1H791.7V631.5H812.9V619.7H836.8V616.5H863.7V611.6H886.8V618.4H912.2V628.2H934.3V631.6H959.2V637.3H980.4V652.3H1005.1V665.1H1034.1V676.2H1054.6V686.4H1077.7V695.1H1104.4V699.8H1126.0V704.6H1151.0V709.1H1184.6V711.1H1211.3V713.0H1246.5V713.3H1286.2V713.8H1323.8V712.9H1363.5V712.6H1401.4V712.4H1440.4V712.0H1466.9"/><path d="M60.0 640.7H130.7V652.5H152.8V647.4H167.9V651.3H233.6V565.2H299.6V558.8H328.1V585.3H347.3V603.0H374.3V608.9H399.6V642.9H418.8V653.5H452.4V668.8H478.4V669.9H502.8V684.8H526.1V685.6H547.5V694.6H573.3V692.5H598.6V691.7H620.7V690.7H647.2V683.8H669.8V679.4H692.4V673.5H716.2V663.4H740.7V656.3H766.1V637.9H789.3V625.6H814.5V615.6H835.4V609.5H859.2V599.8H885.2V612.9H911.0V613.8H937.0V620.2H958.9V633.4H981.3V651.7H1005.0V664.1H1029.5V673.2H1053.6V682.6H1077.1V692.8H1102.9V699.6H1128.4V704.1H1150.8V707.9H1180.7V710.0H1211.4V711.9H1248.4V712.4H1284.5V712.5H1322.9V712.6H1363.4V712.5H1401.1V712.3H1440.6V711.8H1464.1"/><path d="M60.0 617.8H127.8V617.9H149.1V617.9H166.0V618.0H232.3V561.4H296.3V549.3H322.0V590.1H347.4V590.4H370.1V608.6H396.5V640.6H417.2V641.0H445.6V665.0H472.5V667.2H501.6V684.4H520.3V685.4H544.1V692.1H571.9V691.4H594.5V691.9H618.3V691.3H644.6V684.2H663.9V681.4H693.7V665.7H715.7V662.8H737.7V655.1H762.5V633.1H787.5V625.9H812.1V611.3H836.8V598.3H860.0V596.3H882.0V609.7H908.1V616.2H929.1V622.9H954.8V629.8H978.2V646.7H1001.4V660.3H1027.9V671.9H1051.3V681.4H1074.2V690.2H1096.7V697.9H1122.5V703.6H1148.7V708.4H1178.8V710.5H1208.7V711.8H1243.2V712.6H1280.0V712.6H1320.7V712.3H1357.0V712.2H1398.8V712.1H1437.9V711.7H1464.6"/><path d="M60.0 653.7H122.1V652.5H139.5V655.2H152.4V656.4H237.2V569.8H293.0V578.9H320.2V594.6H334.8V611.0H360.8V621.5H383.7V643.9H406.4V654.8H437.0V676.6H465.7V674.7H486.2V682.3H513.9V690.1H535.7V692.4H559.9V694.9H583.6V696.0H605.4V695.4H631.9V693.4H657.1V686.6H680.4V681.5H704.5V673.3H727.8V669.7H753.1V651.9H775.0V641.3H800.6V630.3H824.2V618.1H848.3V616.3H874.6V625.0H899.1V620.8H921.1V634.5H945.0V635.6H967.4V649.9H993.7V660.1H1014.8V672.1H1042.7V682.9H1065.8V690.0H1089.1V698.4H1111.8V703.6H1139.0V707.8H1168.0V711.1H1197.4V712.8H1234.6V714.1H1268.7V714.4H1309.4V713.2H1346.6V713.0H1388.3V712.5H1429.9V712.2H1458.4"/><path d="M60.0 574.9H130.8V586.7H152.8V596.5H168.4V606.1H230.3V598.0H296.4V615.1H322.4V622.5H348.9V633.2H373.0V646.6H395.0V671.5H425.3V676.7H447.2V695.1H476.4V692.4H499.5V698.0H525.1V697.1H546.5V707.6H572.8V704.8H595.8V703.5H623.0V705.1H644.9V695.3H668.6V692.5H696.0V685.1H718.7V679.6H743.9V664.6H766.6V656.2H788.0V650.7H816.1V644.5H840.1V646.6H860.1V640.2H884.4V642.8H910.9V644.6H933.9V653.2H956.1V652.5H981.5V662.7H1006.1V671.3H1029.9V682.9H1052.6V690.7H1076.8V699.3H1100.6V703.1H1128.1V708.6H1152.8V711.3H1182.5V713.9H1211.9V715.2H1245.9V715.9H1280.0V716.6H1321.2V714.3H1360.1V713.5H1402.8V712.8H1441.7V712.6H1463.5"/><path d="M60.0 572.5H126.7V584.1H147.4V589.4H162.6V632.5H232.9V589.3H298.5V600.2H322.5V614.1H345.2V616.5H369.8V640.9H392.0V658.5H418.5V668.9H446.8V686.8H472.5V688.6H496.4V695.9H522.9V697.0H546.7V701.3H566.2V699.9H592.7V701.2H616.9V699.6H641.1V696.5H665.8V688.7H689.3V684.1H711.4V678.5H736.8V667.8H760.2V656.0H785.7V644.1H809.3V636.9H832.5V633.4H855.3V632.7H882.3V631.1H904.4V635.7H930.4V641.4H953.8V645.7H974.8V658.9H1000.1V669.8H1023.6V679.5H1050.3V689.2H1076.5V697.1H1096.5V701.2H1122.5V705.3H1143.5V711.0H1180.1V713.4H1206.2V714.7H1243.3V715.6H1278.7V715.5H1314.8V713.9H1358.1V713.1H1395.3V712.8H1436.2V712.5H1458.6"/><path d="M60.0 642.9H124.5V647.2H144.7V641.2H162.6V646.9H236.0V558.6H293.9V565.1H321.5V590.8H342.6V594.2H368.2V611.3H388.3V637.2H413.2V651.5H444.0V670.0H471.2V674.0H494.2V684.8H517.3V685.2H541.9V693.0H569.7V696.7H591.7V692.5H613.6V690.3H639.3V688.4H663.4V681.4H688.0V671.4H711.7V666.1H734.9V661.1H755.5V641.1H782.7V631.1H806.3V616.0H831.6V615.4H853.2V604.6H881.1V608.2H902.6V620.9H926.7V625.9H949.0V632.5H974.9V646.0H1000.0V658.6H1022.6V667.3H1045.6V681.4H1070.5V692.1H1095.6V696.6H1119.3V703.4H1144.8V708.8H1174.3V710.1H1206.3V712.2H1239.7V712.9H1276.1V712.2H1314.2V712.8H1355.7V712.6H1395.2V712.1H1437.8V711.7H1461.8"/><path d="M60.0 636.0H134.1V639.6H155.4V632.4H169.9V635.9H214.7V605.2H300.1V610.4H327.9V627.5H353.0V648.3H376.8V656.5H398.6V682.6H423.4V683.3H454.3V690.8H483.4V694.4H503.0V700.6H530.4V699.5H554.4V707.0H578.3V708.1H601.4V707.8H627.3V705.3H648.8V697.2H671.6V693.6H697.1V688.0H720.2V679.3H746.9V669.3H770.6V660.3H793.3V653.7H815.5V641.9H842.7V646.4H865.7V645.9H886.9V639.4H912.0V651.5H939.8V656.9H959.0V657.8H988.0V668.7H1009.9V676.2H1033.7V685.2H1058.2V694.4H1082.2V699.9H1103.8V705.3H1129.9V709.1H1154.7V712.3H1187.1V715.2H1214.6V715.7H1247.5V716.6H1284.4V715.8H1325.1V714.8H1360.1V713.7H1401.8V713.1H1444.1V712.7H1469.8"/><path d="M60.0 639.8H131.1V648.4H149.4V642.2H170.9V642.0H220.9V579.5H298.3V581.6H325.0V599.9H346.9V609.8H372.3V616.8H398.1V652.6H423.6V657.2H452.9V676.5H477.1V674.7H502.0V691.6H525.7V692.9H551.3V696.3H575.1V697.2H599.4V697.8H622.0V692.3H646.6V691.0H670.4V684.2H697.4V672.5H719.5V669.3H744.9V656.3H767.3V641.7H789.4V635.2H815.9V628.9H836.4V623.1H860.7V613.7H886.6V617.7H910.2V629.5H933.1V632.3H958.5V644.0H986.2V655.0H1006.9V664.8H1030.4V676.2H1055.5V687.5H1080.3V695.1H1103.1V699.7H1125.0V706.2H1153.7V710.3H1182.7V711.4H1211.3V712.7H1249.6V713.4H1283.9V713.7H1322.7V713.6H1362.3V712.9H1402.4V712.4H1443.7V712.0H1466.1"/><path d="M60.0 656.5H116.1V660.0H134.5V660.9H154.3V664.9H247.3V597.4H294.0V604.9H318.2V617.3H334.4V628.2H361.8V644.0H382.5V657.1H405.1V677.3H435.7V682.8H462.0V689.5H489.6V690.2H509.9V700.2H534.2V698.6H559.9V707.4H583.8V705.1H605.4V704.0H633.0V702.7H656.7V693.7H678.4V690.6H704.4V683.4H727.6V674.3H753.7V667.6H777.3V654.4H800.4V650.1H823.4V638.0H849.6V641.4H872.0V641.1H895.7V642.0H922.5V642.5H945.2V653.3H968.0V661.2H990.8V669.3H1016.3V676.0H1036.2V687.2H1064.0V695.7H1087.3V701.2H1114.5V706.6H1138.3V710.8H1166.9V713.7H1198.4V716.0H1233.3V715.3H1269.1V715.9H1308.6V714.7H1346.3V713.9H1389.7V713.0H1427.2V712.9H1460.0"/><path d="M60.0 542.7H131.0V568.9H150.6V593.0H169.0V628.9H222.1V598.6H298.6V603.8H325.5V612.7H349.1V625.1H369.5V641.7H396.6V665.0H420.5V669.5H446.0V688.3H478.1V685.4H504.2V697.6H524.9V696.3H551.5V700.1H574.7V705.6H598.3V700.5H619.1V703.6H643.9V695.0H668.4V692.3H693.8V682.9H715.5V678.7H737.7V668.8H765.0V656.5H788.3V642.3H812.5V634.8H837.3V639.7H862.3V639.2H884.7V634.9H908.0V643.1H934.0V638.5H956.6V648.6H981.0V660.4H1005.5V673.3H1031.4V681.4H1051.8V688.4H1076.1V698.0H1102.1V702.2H1126.4V707.3H1149.4V710.6H1178.5V713.3H1208.6V714.8H1246.1V715.9H1280.5V715.5H1320.3V714.3H1362.1V713.1H1402.4V712.8H1441.0V712.4H1466.6"/><path d="M60.0 668.3H121.1V666.2H143.6V663.0H159.8V666.9H230.8V579.5H293.4V580.8H321.5V599.7H338.9V607.9H365.6V627.7H392.3V653.5H414.2V658.8H440.4V672.3H469.2V679.3H494.7V690.6H517.6V689.7H542.7V698.9H565.7V696.7H588.5V696.7H613.2V697.5H639.5V692.1H660.8V686.2H686.0V676.0H711.8V671.9H735.8V664.9H758.9V646.7H779.9V639.5H804.2V632.6H831.6V621.9H855.5V618.3H877.3V617.3H904.2V625.1H925.8V631.5H949.8V641.3H971.3V651.2H998.8V664.2H1020.5V674.7H1046.8V683.5H1066.3V693.6H1095.9V698.4H1117.7V704.2H1143.9V709.2H1174.0V711.9H1204.0V713.1H1238.5V714.2H1272.4V713.8H1311.6V713.1H1353.1V713.0H1393.7V712.5H1432.0V712.2H1464.5"/><path d="M60.0 643.6H130.5V634.5H147.2V637.1H166.1V639.9H223.2V591.4H295.8V592.6H323.1V608.6H345.5V628.3H370.6V640.3H393.2V663.4H417.4V669.5H445.6V682.5H475.0V688.0H498.3V693.8H524.5V694.7H546.7V701.9H568.9V701.8H594.9V700.1H619.1V702.1H646.9V694.2H668.4V690.8H689.5V684.2H714.0V674.3H739.1V666.7H760.5V654.0H787.2V644.2H809.1V639.7H834.7V628.4H858.5V632.9H883.0V630.8H907.6V636.8H929.0V639.0H950.4V652.0H981.0V658.6H1001.8V668.3H1026.5V678.5H1048.8V687.9H1072.3V697.2H1100.1V702.1H1123.7V706.9H1151.3V711.0H1175.2V713.7H1205.0V714.3H1243.1V715.1H1280.5V715.4H1318.1V714.4H1356.9V713.2H1400.6V712.7H1438.7V712.5H1466.6"/><path d="M60.0 668.3H119.3V663.0H140.5V662.9H156.0V658.0H248.1V550.0H293.3V556.5H319.7V576.3H336.1V585.3H361.7V594.9H383.8V639.4H409.3V639.3H439.1V668.0H465.9V667.2H492.6V669.9H513.1V683.1H535.1V687.4H561.8V694.7H584.9V692.4H608.9V691.3H632.6V686.0H660.0V679.2H678.3V674.5H704.3V664.2H730.3V659.5H754.4V640.2H777.4V629.5H800.1V612.9H823.5V604.8H846.6V598.3H872.9V598.7H899.1V607.0H919.4V617.8H943.9V625.4H969.9V641.1H992.1V653.1H1015.7V665.8H1041.6V678.8H1066.7V688.1H1091.8V694.1H1113.4V700.7H1139.3V706.8H1166.8V709.1H1197.2V711.5H1234.1V712.2H1268.4V712.8H1309.7V712.4H1346.4V712.4H1391.7V712.2H1428.5V711.7H1462.8"/><path d="M60.0 638.9H135.2V641.9H155.6V636.2H170.1V638.5H224.2V585.9H300.3V593.8H326.6V608.7H353.2V617.3H376.7V631.0H401.2V657.9H425.5V665.7H451.5V683.5H481.1V679.3H506.4V692.8H531.9V694.8H553.6V698.3H576.1V700.0H601.4V698.3H626.0V695.5H648.9V691.7H671.8V687.3H698.8V675.3H721.3V669.2H743.5V660.2H767.5V651.9H790.7V640.7H820.8V627.1H841.5V632.7H861.7V627.3H890.6V630.8H911.9V634.6H935.9V634.1H960.9V648.3H983.8V656.1H1005.5V668.7H1031.0V679.7H1057.1V689.0H1078.4V696.6H1106.0V701.6H1129.6V706.7H1155.7V710.5H1186.5V712.4H1215.9V714.6H1252.3V714.8H1285.7V715.1H1324.6V713.8H1363.9V712.8H1405.2V712.6H1444.8V712.4H1465.5"/><path d="M60.0 627.3H128.2V632.6H149.9V633.5H165.9V631.2H227.2V588.6H297.0V591.0H323.8V611.3H344.3V625.2H370.4V631.4H391.9V659.2H418.3V663.8H445.2V685.9H476.9V680.5H497.3V695.3H521.0V695.2H546.5V699.8H570.8V702.2H593.6V700.1H619.9V701.8H644.3V692.7H663.7V687.4H689.2V680.5H714.6V678.2H737.3V666.4H760.1V652.3H786.9V645.2H811.3V637.8H836.0V631.7H858.2V631.0H882.1V630.0H904.9V631.8H928.1V640.7H954.9V646.5H976.6V657.8H1001.6V669.1H1026.9V678.1H1050.3V688.1H1075.6V696.1H1100.4V700.7H1124.8V707.3H1147.2V710.4H1179.3V713.6H1209.0V714.4H1243.8V715.5H1279.2V714.9H1318.8V713.6H1358.1V713.2H1398.3V712.6H1440.6V712.5H1466.3"/><path d="M60.0 632.0H125.3V632.4H144.5V634.1H164.4V635.4H226.2V618.2H296.5V634.4H321.1V638.9H342.3V651.9H370.1V661.8H393.4V684.5H415.5V689.2H445.3V697.5H472.0V702.7H498.0V705.0H519.2V704.4H547.1V711.0H570.5V711.1H592.1V709.4H617.1V708.8H638.3V705.2H665.0V695.6H690.0V691.0H713.0V683.7H738.2V678.7H761.1V671.9H784.4V663.8H810.2V659.1H833.0V659.2H856.1V651.5H883.5V657.2H906.6V660.3H925.7V656.8H953.5V663.1H976.2V667.9H1002.6V677.5H1025.8V686.4H1047.1V690.8H1075.2V700.4H1096.0V704.7H1121.6V709.1H1146.9V712.6H1177.8V715.4H1204.8V717.0H1243.1V717.8H1277.8V718.1H1312.5V715.3H1357.8V713.9H1398.3V713.2H1438.3V713.1H1458.5"/><path d="M60.0 644.0H127.3V647.0H147.1V634.4H166.0V635.2H230.0V608.7H301.9V638.9H323.7V624.6H343.4V636.3H367.7V653.4H393.0V688.8H419.2V683.1H445.6V696.5H473.6V696.6H497.0V700.7H521.2V702.9H545.2V710.2H565.9V710.5H592.2V708.3H616.3V708.9H643.2V703.2H665.0V696.8H691.3V692.0H717.1V686.5H738.8V678.3H763.8V663.9H783.7V659.5H808.3V656.0H834.5V643.8H857.4V649.9H880.7V647.1H904.1V651.7H929.5V656.8H955.1V662.5H977.9V667.9H1002.3V673.6H1025.6V684.6H1049.0V691.4H1072.1V699.9H1097.9V704.2H1123.6V709.0H1146.8V713.0H1178.5V715.0H1209.0V716.9H1242.9V717.0H1275.2V717.0H1316.8V715.1H1358.9V713.7H1398.7V713.1H1437.5V712.8H1467.3"/><path d="M60.0 662.3H124.5V657.9H144.4V663.9H159.9V657.1H233.6V605.5H296.1V617.8H321.7V619.8H340.7V635.3H363.5V644.5H386.5V660.6H412.9V680.2H443.3V681.0H468.4V693.0H493.2V696.5H518.1V699.6H543.6V705.1H564.6V704.4H590.0V709.8H612.8V707.8H636.6V704.4H661.3V696.9H680.4V690.7H707.4V682.8H735.6V676.2H757.5V662.7H781.9V654.5H804.3V650.2H827.2V649.8H854.4V646.2H876.8V644.7H901.5V644.0H923.7V650.6H950.2V654.6H973.7V665.9H999.5V675.6H1017.8V679.0H1043.1V688.1H1067.8V697.6H1093.9V702.5H1116.0V706.9H1145.1V711.6H1175.6V713.8H1204.7V715.5H1241.8V716.7H1273.5V716.3H1314.4V714.3H1353.4V713.5H1394.3V713.1H1433.9V712.8H1457.4"/><path d="M60.0 647.4H126.2V646.6H145.7V648.5H161.7V652.9H235.7V591.8H295.3V612.9H325.8V611.6H343.7V633.5H368.2V638.9H392.2V667.8H414.7V672.3H443.1V680.9H471.9V691.1H495.2V695.6H519.6V701.8H547.2V703.9H566.7V702.3H588.8V704.4H617.0V704.1H638.9V699.3H663.8V695.7H685.3V688.8H709.7V680.2H731.9V670.0H760.8V657.0H782.2V651.1H807.1V643.8H830.1V636.6H854.8V629.7H880.6V638.1H904.0V640.7H925.3V644.6H954.2V650.4H974.1V659.7H998.9V671.9H1025.8V681.9H1048.9V688.0H1068.7V695.6H1095.6V700.6H1120.8V706.8H1146.4V711.6H1174.2V713.7H1206.2V715.7H1237.9V715.9H1272.6V715.4H1312.6V714.3H1354.8V713.1H1398.0V712.8H1436.3V712.6H1463.2"/><path d="M60.0 653.4H125.5V646.1H146.7V649.3H162.3V647.5H228.7V608.8H296.1V619.5H321.5V628.6H338.9V639.2H367.6V662.7H389.8V664.2H414.4V681.9H444.7V691.5H469.6V694.8H497.9V702.9H517.7V703.4H543.8V708.5H566.8V710.8H592.4V711.2H615.4V708.5H639.8V706.9H662.5V695.6H687.8V692.7H712.8V683.6H736.5V677.5H759.8V670.4H782.8V662.7H808.5V654.1H830.1V649.0H855.7V651.9H881.2V655.9H901.0V652.2H928.0V654.3H952.2V658.8H976.0V668.7H997.7V674.9H1025.6V683.3H1049.3V690.2H1071.6V699.5H1096.7V704.8H1120.0V708.3H1145.8V713.6H1175.1V715.0H1205.6V716.8H1237.0V716.7H1273.5V717.4H1314.6V715.4H1355.5V713.7H1393.9V713.1H1434.2V713.0H1461.9"/><path d="M60.0 626.1H121.4V638.8H142.7V635.6H161.6V636.5H235.6V593.8H294.3V611.4H320.6V623.2H341.3V629.9H369.4V644.3H386.5V655.5H414.9V669.8H440.8V680.8H470.2V687.7H493.6V693.5H518.0V698.8H543.4V704.4H564.3V703.1H590.5V705.2H613.0V702.3H637.9V699.4H662.9V693.0H683.3V687.9H709.6V678.7H735.4V673.0H758.8V659.2H780.2V649.4H805.9V641.7H830.8V638.0H858.0V640.7H878.3V635.0H902.4V643.3H925.2V642.8H949.7V651.2H971.8V657.8H997.4V669.5H1023.2V678.7H1045.1V688.4H1071.3V696.3H1093.2V700.5H1119.1V706.4H1142.4V710.7H1173.3V713.8H1202.7V714.3H1239.4V716.3H1274.2V715.2H1316.4V714.5H1352.4V713.8H1394.6V712.8H1435.0V712.6H1465.5"/><path d="M60.0 641.1H133.4V646.0H152.7V642.3H170.0V647.7H218.8V568.7H298.7V575.0H327.3V594.5H350.7V597.3H374.5V614.8H399.0V648.7H424.0V650.5H451.0V673.4H480.4V672.7H504.2V686.6H530.6V687.8H551.4V695.0H578.5V696.9H599.8V696.1H619.6V693.4H649.1V685.2H673.6V680.3H695.0V670.4H720.2V666.5H742.8V652.6H767.3V636.8H789.9V623.8H814.7V616.1H842.5V612.8H860.9V609.6H887.2V611.0H910.6V617.5H933.1V630.0H959.7V638.1H982.8V653.4H1006.7V662.8H1032.1V676.1H1057.4V685.8H1078.1V695.0H1104.8V698.6H1126.7V704.9H1151.0V708.9H1185.5V711.2H1214.0V713.2H1248.3V712.8H1283.3V713.2H1325.7V712.9H1363.5V712.5H1406.7V712.2H1444.7V711.8H1465.0"/><path d="M60.0 652.9H130.1V647.2H149.6V653.4H167.4V659.7H222.5V571.6H298.6V566.8H327.5V596.0H349.8V609.0H373.6V611.8H396.1V649.6H422.6V647.5H449.2V672.5H475.4V669.6H502.3V686.4H523.3V688.3H549.8V692.8H573.5V695.0H597.3V694.2H620.6V690.8H645.1V686.7H669.8V680.5H696.1V669.6H715.6V665.7H742.6V654.4H768.1V641.9H788.1V632.0H812.3V620.5H836.9V606.6H860.8V609.2H883.6V611.9H907.2V621.9H935.4V631.8H956.0V641.6H983.6V652.4H1006.7V661.3H1026.5V673.4H1055.1V684.0H1075.6V692.4H1101.2V699.3H1125.4V704.1H1150.6V708.4H1179.7V711.5H1210.6V712.3H1244.5V712.9H1278.8V712.6H1320.4V712.9H1359.8V712.8H1398.1V712.2H1438.1V711.8H1462.6"/><path d="M60.0 614.9H140.0V612.5H160.0V620.9H175.7V618.0H211.3V599.9H297.6V606.7H331.7V624.2H356.7V641.5H381.1V642.6H402.7V671.0H428.7V679.2H457.9V683.0H483.5V689.4H511.0V699.8H532.4V698.9H557.9V707.0H583.0V706.0H604.7V705.8H630.7V702.6H651.6V694.0H676.1V689.8H702.1V683.7H725.5V677.5H746.7V667.1H771.3V654.9H797.6V645.6H824.2V634.3H845.0V639.3H871.2V642.2H893.6V638.5H917.7V647.7H938.9V651.6H964.3V656.9H986.9V664.2H1011.8V676.7H1037.7V683.3H1059.4V693.0H1082.9V699.0H1108.7V705.1H1135.8V710.1H1160.8V712.3H1187.1V714.7H1219.6V715.9H1254.1V715.6H1289.1V715.6H1333.1V714.3H1369.5V713.2H1408.5V712.8H1450.1V712.7H1473.8"/><path d="M60.0 653.0H121.8V651.9H142.5V646.0H156.5V655.8H240.0V607.6H295.6V634.1H321.4V633.7H340.3V646.8H364.5V658.1H390.3V665.5H413.5V687.8H440.6V688.7H469.3V694.5H491.2V701.3H517.0V702.1H541.2V706.4H566.6V707.0H588.1V712.2H614.0V709.4H637.8V706.9H662.4V698.2H685.2V694.0H707.4V691.4H732.2V679.2H759.5V667.7H782.3V662.3H806.4V660.1H828.1V650.7H854.7V647.7H877.2V656.4H898.4V653.2H926.6V660.6H948.2V662.5H974.6V666.1H995.6V673.6H1023.2V682.6H1045.1V691.0H1067.5V697.9H1094.5V702.9H1118.3V708.2H1144.4V712.4H1173.4V715.2H1203.3V716.3H1237.4V716.9H1274.2V717.4H1314.0V715.5H1354.2V714.1H1392.7V713.1H1436.1V713.1H1460.5"/><path d="M60.0 611.8H137.5V621.5H158.7V607.4H174.0V618.4H212.9V599.4H299.4V613.1H329.3V619.8H352.2V640.9H380.9V646.9H403.6V676.4H428.9V674.3H456.2V689.2H485.1V691.8H508.6V696.5H533.6V699.7H554.5V709.5H580.1V701.8H602.2V701.7H626.4V701.8H650.8V697.2H674.5V691.4H698.6V688.6H723.5V679.7H749.0V666.4H776.4V656.7H793.6V652.2H817.9V640.9H841.8V638.8H867.3V638.9H891.5V644.6H912.6V645.4H939.1V647.5H965.2V657.9H986.4V664.5H1011.6V675.7H1034.3V683.6H1057.8V693.4H1081.9V700.2H1105.2V704.5H1129.4V708.4H1158.8V713.0H1187.2V714.5H1218.2V715.6H1252.1V715.8H1289.0V715.9H1326.3V714.4H1368.5V713.3H1404.2V712.8H1445.8V712.5H1471.3"/><path d="M60.0 623.8H132.4V633.8H156.0V626.4H171.1V630.9H221.6V607.8H297.9V635.0H326.3V625.7H355.2V653.8H374.4V659.4H397.2V681.6H424.0V675.4H450.2V698.5H482.5V697.9H502.9V704.1H528.0V702.4H550.6V708.7H573.8V707.0H600.5V707.8H623.3V707.0H647.9V699.4H671.7V694.0H697.0V687.6H721.5V682.0H743.5V671.4H768.4V662.2H793.0V654.9H813.4V656.9H840.0V647.5H863.7V646.5H889.2V649.8H914.6V649.7H938.0V656.3H959.9V665.0H983.9V669.9H1011.0V677.1H1033.7V685.5H1058.9V694.1H1079.8V701.1H1103.5V705.0H1130.4V709.7H1154.4V713.0H1184.1V715.2H1214.5V716.5H1250.7V717.3H1281.9V716.7H1321.9V715.0H1363.0V713.4H1404.9V713.0H1443.8V713.1H1463.4"/><path d="M60.0 663.1H123.5V650.2H142.2V649.7H161.0V647.8H231.6V596.2H293.8V609.6H323.4V615.8H339.2V627.0H364.9V640.7H390.2V659.7H416.6V668.9H441.6V683.0H466.6V689.5H494.6V699.1H520.0V698.0H543.9V702.7H567.8V704.2H587.9V708.3H611.7V705.2H636.9V698.1H663.7V692.8H687.9V687.2H710.4V681.8H733.2V675.5H757.3V662.5H783.9V649.3H802.4V648.9H828.3V640.3H855.5V634.1H878.9V636.9H904.4V638.4H923.0V647.4H950.8V650.0H974.5V658.9H998.1V670.6H1019.7V677.9H1045.5V689.8H1070.5V697.3H1096.8V701.3H1115.8V706.2H1144.8V711.7H1173.9V713.6H1204.9V715.0H1240.8V715.6H1273.1V715.8H1313.9V714.3H1354.6V713.5H1394.4V712.9H1432.7V712.6H1458.7"/><path d="M60.0 648.0H132.5V650.5H151.7V642.2H167.2V638.3H223.4V585.2H294.2V584.3H328.5V605.5H351.8V618.7H373.6V618.1H399.1V659.7H422.3V661.1H449.6V682.1H478.5V678.9H503.7V693.2H525.0V693.9H549.7V699.9H576.5V700.7H598.2V699.3H622.0V697.1H646.2V691.6H669.7V686.9H694.0V680.1H716.8V671.8H743.9V660.3H767.4V650.8H789.0V640.7H812.3V629.7H839.1V623.2H866.7V624.9H884.7V626.5H912.1V635.4H934.9V643.6H961.5V649.2H983.2V659.0H1006.9V670.7H1032.9V680.4H1056.1V688.8H1079.6V696.1H1104.8V700.7H1127.3V707.2H1151.0V710.3H1180.9V712.8H1211.5V714.0H1248.4V715.0H1284.6V714.4H1324.0V713.6H1363.2V712.9H1401.4V712.5H1442.6V712.3H1470.6"/><path d="M60.0 621.3H132.4V614.1H151.3V622.9H169.2V617.3H228.6V571.2H298.9V573.6H326.9V602.6H348.2V606.1H373.3V619.3H399.1V654.3H422.3V655.4H449.9V675.8H477.0V675.4H502.0V689.2H526.9V690.6H550.4V696.4H576.2V695.1H599.6V697.1H624.1V691.3H646.8V690.1H671.5V685.4H693.6V672.9H719.7V669.6H740.7V658.9H766.0V643.4H792.4V627.9H815.6V614.9H838.2V613.3H865.8V609.7H886.5V618.7H909.6V625.7H933.9V631.0H958.9V641.9H982.5V653.0H1006.8V666.4H1030.9V676.9H1054.5V686.5H1078.9V694.0H1101.9V702.1H1130.0V705.4H1152.6V710.3H1182.8V711.5H1213.3V713.2H1248.0V713.5H1282.6V714.5H1322.3V713.2H1362.2V712.7H1402.2V712.5H1445.0V712.1H1462.4"/><path d="M60.0 622.0H135.3V613.6H155.8V620.8H171.9V618.3H219.0V597.0H297.7V612.5H329.1V617.1H354.2V639.7H381.4V636.7H401.4V664.1H426.3V672.0H451.5V689.0H482.4V685.0H503.2V696.9H529.1V695.3H552.6V701.6H577.7V703.2H601.4V700.4H624.6V700.1H647.0V693.2H674.5V688.8H697.3V683.4H721.1V675.6H744.7V665.1H767.7V650.5H793.2V647.6H818.3V636.5H841.9V631.8H865.4V626.3H891.0V637.3H912.2V639.3H936.0V647.2H963.7V655.7H985.3V663.7H1008.7V671.2H1032.8V681.6H1059.4V692.2H1085.8V699.2H1105.1V703.1H1131.7V708.1H1154.0V711.3H1183.9V713.5H1217.4V714.5H1250.3V715.2H1285.7V715.5H1325.2V714.2H1364.8V713.1H1406.8V712.7H1446.1V712.6H1464.1"/><path d="M60.0 626.9H128.3V625.8H146.6V629.1H164.3V624.4H233.0V610.1H297.8V626.7H323.2V632.4H342.1V644.0H367.1V653.0H389.9V663.0H415.7V688.9H443.3V689.1H473.9V696.8H497.6V702.3H522.0V704.9H541.1V703.1H568.6V705.7H594.7V708.8H617.4V708.0H643.9V704.1H664.2V696.7H688.6V692.4H711.7V684.8H739.4V676.1H760.2V671.0H785.9V658.0H808.0V653.5H828.8V655.0H857.1V645.5H881.8V644.6H907.6V654.6H930.8V653.6H953.4V661.0H975.8V666.9H1000.7V674.9H1026.4V685.7H1047.4V690.7H1071.2V699.6H1097.8V704.4H1122.9V709.0H1147.3V713.0H1178.6V714.5H1205.3V716.4H1239.9V716.6H1274.9V717.5H1318.3V715.2H1357.7V714.0H1395.0V713.2H1436.5V712.9H1461.0"/><path d="M60.0 618.1H138.8V615.7H159.0V616.5H174.5V626.9H222.9V607.1H299.9V606.9H328.3V628.1H355.1V654.7H380.1V656.6H405.3V679.1H427.3V680.8H454.9V690.8H481.3V692.6H508.9V700.7H533.3V698.6H557.9V706.9H581.9V706.8H604.5V705.4H628.9V705.2H649.7V697.3H677.0V691.7H698.6V686.4H723.0V679.5H751.9V662.9H773.5V659.8H795.3V650.6H819.9V649.2H843.5V643.9H869.2V647.2H893.8V641.2H918.8V649.5H939.8V652.8H963.7V653.9H987.0V670.3H1013.3V677.5H1036.8V686.2H1060.4V694.4H1085.3V700.7H1110.0V706.0H1127.4V709.6H1158.8V712.8H1187.1V715.2H1218.0V716.2H1254.5V716.7H1286.1V716.1H1330.1V714.5H1365.1V713.2H1405.6V713.1H1444.2V712.7H1466.7"/><path d="M60.0 662.7H116.4V665.2H134.0V656.7H153.2V654.4H243.8V551.2H294.2V561.1H320.0V579.7H334.8V588.1H357.8V598.4H379.3V637.2H407.5V645.9H434.1V653.9H460.4V669.9H485.4V672.6H506.6V682.7H535.8V686.4H556.6V690.1H582.2V691.1H607.4V692.0H627.1V689.0H652.8V681.8H679.8V674.3H701.6V668.2H727.9V663.0H751.7V645.4H774.1V629.0H796.2V623.7H821.1V609.3H845.2V606.7H872.1V607.1H893.3V610.2H917.4V619.0H943.0V621.6H963.5V640.7H990.2V656.9H1014.3V664.5H1037.8V677.6H1063.2V687.3H1087.2V693.2H1110.5V701.9H1136.8V707.0H1166.3V710.0H1194.6V711.0H1231.0V712.2H1265.0V712.2H1306.7V712.3H1346.0V712.6H1386.1V712.2H1426.4V711.8H1453.6"/><path d="M60.0 625.3H134.7V626.6H156.0V628.9H171.2V623.9H216.3V568.5H302.4V562.2H326.1V592.9H350.8V593.8H376.1V599.3H400.0V636.7H424.2V643.6H450.5V666.7H481.4V665.6H504.5V684.2H526.8V685.1H553.9V689.8H575.9V691.0H600.8V691.1H623.0V687.4H648.3V681.5H673.9V677.7H699.1V664.7H721.2V662.6H748.3V644.1H769.3V628.3H791.7V618.7H814.6V606.7H841.8V597.6H864.8V601.9H889.1V611.5H915.2V617.6H934.9V620.9H958.8V639.5H985.0V650.5H1011.1V662.5H1033.3V673.0H1057.4V685.3H1081.2V693.5H1108.5V698.6H1128.9V704.7H1156.4V708.3H1185.4V710.2H1216.3V711.5H1248.3V711.8H1285.8V712.1H1320.9V712.5H1366.4V712.3H1405.7V711.9H1443.3V711.9H1463.8"/><path d="M60.0 667.2H119.6V661.7H142.1V665.0H158.1V668.3H241.7V560.5H294.3V561.0H320.2V596.9H338.3V597.7H364.0V604.1H384.8V642.6H408.7V654.9H435.8V671.0H467.2V671.2H492.0V686.2H515.9V688.3H540.4V693.8H565.2V695.8H587.1V696.4H611.8V695.5H634.6V689.3H659.9V684.7H682.9V679.3H708.2V672.7H729.1V666.3H754.7V641.1H778.1V639.2H803.0V623.3H824.7V627.0H848.7V606.7H876.4V605.8H899.4V617.2H925.5V622.9H945.0V631.6H968.5V645.8H992.1V658.8H1020.1V672.7H1044.5V681.4H1067.1V690.8H1089.5V696.2H1117.6V702.6H1142.1V707.6H1172.7V710.2H1198.8V712.1H1237.3V712.5H1273.6V712.8H1309.6V712.9H1350.3V712.7H1389.6V712.3H1430.8V712.1H1460.7"/><path d="M60.0 626.6H140.9V624.0H162.1V623.8H176.9V629.9H216.2V567.9H301.6V558.6H329.2V588.3H357.0V607.8H380.6V613.0H403.8V643.3H429.6V649.0H459.8V668.1H483.3V676.9H508.5V687.3H534.5V685.3H554.4V692.8H583.1V690.4H603.3V691.3H626.4V691.9H654.0V681.1H678.4V677.8H701.2V667.9H725.2V663.2H752.1V645.5H774.9V626.6H800.8V622.8H821.4V614.4H845.8V604.7H869.9V603.2H891.5V607.6H917.3V623.6H942.5V626.5H963.6V642.8H991.8V655.5H1011.1V666.9H1036.9V675.2H1060.8V688.7H1087.0V693.8H1108.0V701.6H1135.5V705.5H1158.1V709.0H1192.7V711.8H1218.5V712.2H1255.2V711.7H1288.8V712.7H1331.8V712.6H1368.4V712.5H1410.5V712.1H1450.8V711.9H1474.6"/><path d="M60.0 603.8H135.6V600.7H154.0V600.2H172.4V600.2H218.1V571.0H299.7V573.2H326.4V601.0H354.9V606.5H379.7V617.5H403.5V647.4H424.8V658.2H453.6V670.2H483.2V670.7H506.6V687.8H532.4V686.7H550.9V696.5H575.3V696.6H602.9V697.1H627.2V689.7H650.4V685.8H676.2V680.3H699.0V669.9H722.9V666.4H745.4V653.4H774.1V645.0H790.0V630.1H815.9V615.7H839.9V613.0H866.8V616.1H891.2V618.6H915.1V620.3H938.7V630.6H964.4V646.9H989.7V656.1H1012.2V665.6H1037.2V677.9H1057.5V688.3H1082.4V694.7H1107.7V701.2H1132.4V705.2H1156.3V709.7H1186.4V712.0H1217.2V712.6H1252.4V713.5H1284.7V713.1H1322.8V713.3H1366.5V712.6H1409.8V712.3H1445.6V712.0H1468.3"/><path d="M60.0 615.7H136.9V603.8H156.0V610.7H174.8V611.8H214.9V619.9H296.2V640.2H331.0V636.7H353.5V661.6H379.3V664.1H403.5V691.5H428.6V691.6H457.9V700.8H485.5V698.2H508.5V704.2H532.7V705.6H558.5V711.5H579.8V710.9H602.4V712.2H626.1V709.6H653.6V700.4H676.3V697.5H700.3V691.1H726.5V684.5H747.2V672.8H771.3V665.6H796.3V663.9H822.7V661.2H845.0V659.5H870.5V656.7H893.2V658.0H919.7V655.4H943.1V663.6H965.3V666.4H987.8V670.4H1010.8V680.9H1037.4V689.3H1059.8V696.5H1084.2V702.5H1108.5V706.3H1131.7V711.6H1157.3V714.0H1188.6V715.9H1218.3V717.6H1251.0V717.9H1290.2V717.1H1330.9V714.7H1370.0V713.4H1409.2V713.2H1445.7V713.0H1472.4"/><path d="M60.0 634.1H126.0V633.8H146.8V639.6H163.1V637.2H232.5V572.9H296.5V569.8H325.6V604.2H345.5V607.7H369.2V615.1H392.1V654.4H416.4V650.0H446.8V672.6H474.1V680.3H498.6V688.6H523.0V692.1H544.0V697.4H569.2V695.8H593.7V698.4H618.6V695.5H642.0V690.6H663.9V687.2H686.6V678.9H716.6V671.2H735.5V663.9H759.9V642.7H788.5V627.8H812.5V624.0H833.6V619.8H854.9V623.2H881.5V618.1H904.1V625.8H925.9V636.5H955.2V646.5H978.6V651.9H1001.8V664.7H1024.1V672.7H1052.0V684.4H1072.7V692.8H1095.3V699.8H1120.1V705.6H1149.1V709.3H1179.8V711.7H1208.2V712.3H1243.8V714.4H1277.0V714.0H1317.3V713.3H1358.1V712.9H1394.3V712.3H1436.7V712.0H1460.6"/><path d="M60.0 603.2H140.1V601.0H162.4V600.2H180.6V601.9H213.7V585.2H299.9V596.2H333.8V618.9H361.4V621.4H385.9V655.2H410.0V661.8H434.6V672.7H462.3V680.6H489.0V685.9H513.2V694.0H537.6V695.3H561.4V700.1H585.2V699.5H608.8V700.5H634.5V693.4H658.7V690.3H679.8V683.3H706.4V676.4H729.6V672.1H754.8V656.9H780.9V645.9H801.0V641.7H825.3V630.3H851.9V626.7H871.8V626.4H900.6V632.8H918.1V641.2H948.2V645.2H973.5V653.5H993.6V663.7H1018.7V674.2H1042.4V685.2H1065.8V693.5H1090.2V698.4H1112.8V704.3H1139.2V709.4H1166.1V712.1H1196.8V713.6H1223.9V714.2H1258.0V715.3H1295.0V714.0H1332.5V713.7H1373.5V712.7H1413.0V712.5H1451.8V712.2H1476.6"/><path d="M60.0 604.0H132.0V609.9H151.5V604.1H166.6V619.4H223.3V611.3H295.8V621.9H326.8V627.1H348.3V638.1H374.6V650.7H396.2V682.4H419.5V680.0H450.9V695.4H479.3V697.5H504.5V703.7H524.2V702.8H549.8V707.4H574.4V707.7H598.8V705.6H622.8V706.1H647.2V699.1H671.3V695.5H695.4V688.9H719.7V678.9H744.2V671.1H766.2V661.8H791.6V654.8H816.0V656.8H840.3V643.0H861.3V642.9H887.5V647.1H910.4V648.9H936.3V652.9H962.1V660.6H983.1V665.7H1006.5V676.3H1030.7V684.8H1055.0V692.8H1081.7V700.3H1105.2V705.1H1128.9V709.9H1154.3V713.0H1182.3V714.6H1212.2V716.4H1246.5V716.6H1281.7V717.0H1322.6V714.8H1363.8V713.4H1403.9V713.0H1441.6V712.7H1471.4"/><path d="M60.0 656.2H121.2V664.2H140.2V668.3H156.5V664.5H239.3V592.6H295.2V600.0H320.0V612.0H338.4V625.8H361.5V628.7H386.0V659.8H408.9V673.7H441.6V680.5H466.5V688.6H490.6V695.2H514.3V696.8H536.6V699.5H563.9V704.0H585.9V704.0H613.5V703.3H638.5V700.7H659.8V692.1H681.0V688.0H707.9V679.6H730.9V672.5H754.7V661.9H775.5V651.6H804.1V639.1H827.2V636.7H851.3V637.2H875.4V640.9H898.5V644.9H923.4V641.3H944.7V652.6H974.0V658.8H995.4V666.3H1019.1V676.3H1043.8V687.1H1066.9V693.7H1089.9V701.9H1116.1V706.0H1142.2V710.7H1173.1V713.2H1200.9V714.5H1235.0V715.6H1272.6V715.7H1315.9V714.4H1353.4V713.6H1392.1V712.9H1434.1V712.5H1461.0"/><path d="M60.0 621.1H129.3V619.5H148.7V617.5H165.6V619.4H226.7V584.9H295.4V592.9H328.0V614.1H345.9V623.5H371.1V631.7H393.4V667.4H421.5V666.4H448.0V688.4H477.4V683.0H500.9V693.4H523.3V694.5H547.0V702.0H574.1V701.1H593.8V700.3H620.8V701.2H645.3V692.7H667.1V689.6H690.7V678.6H715.2V674.4H740.0V664.4H764.6V651.8H785.1V646.2H812.6V632.9H836.1V632.5H859.5V625.4H882.3V630.5H906.9V636.8H931.7V641.9H955.7V648.0H982.4V655.9H1003.6V670.5H1027.2V677.1H1050.8V686.8H1072.6V697.2H1098.8V701.1H1123.1V706.9H1148.2V710.8H1179.0V712.9H1208.8V713.8H1244.8V715.3H1281.2V714.2H1321.2V713.8H1358.1V713.0H1400.8V712.6H1439.5V712.5H1460.7"/><path d="M60.0 646.8H123.3V649.0H141.5V644.2H158.7V656.6H227.4V613.9H292.1V620.1H320.5V630.0H340.5V645.2H362.1V652.4H390.9V666.6H414.7V679.1H442.2V686.3H467.1V694.5H493.2V696.8H517.5V702.9H538.1V702.5H564.6V708.4H586.8V707.5H612.8V706.3H636.9V703.8H658.3V694.0H683.6V690.9H709.5V689.2H731.8V678.8H754.7V670.7H780.0V661.8H807.5V659.5H830.3V647.6H853.5V657.0H877.8V650.2H899.1V647.4H926.9V654.3H945.9V660.3H974.7V664.2H992.6V672.6H1019.7V682.1H1043.8V688.6H1066.4V696.7H1092.0V702.1H1118.7V707.5H1144.1V712.2H1172.3V714.2H1201.5V716.2H1234.3V717.1H1276.1V716.5H1314.7V715.2H1351.9V714.0H1394.6V713.1H1433.6V712.7H1465.5"/><path d="M60.0 609.4H141.9V613.6H159.5V608.3H177.1V610.4H210.7V584.2H298.8V588.5H328.6V606.7H355.3V621.6H384.3V648.3H405.9V660.7H431.5V658.0H458.4V681.4H488.1V680.5H510.0V692.0H535.1V694.0H557.9V696.3H583.8V697.2H608.4V698.5H631.1V692.8H652.9V688.1H680.0V683.2H704.4V673.6H729.0V667.5H752.2V652.4H775.3V639.8H799.4V633.7H822.8V626.4H846.4V626.3H873.8V618.9H895.6V620.4H918.6V632.3H941.8V641.1H966.9V650.8H992.2V660.5H1014.3V670.9H1042.6V681.9H1062.9V690.8H1088.2V697.2H1111.1V703.3H1135.3V707.7H1159.5V710.9H1190.2V712.9H1218.7V713.9H1254.3V714.2H1291.4V714.8H1329.9V713.1H1370.6V712.6H1410.7V712.4H1452.0V712.3H1475.0"/><path d="M60.0 617.9H138.3V623.5H155.4V625.0H174.3V627.4H213.5V593.9H297.4V605.3H330.0V616.2H357.1V630.3H382.2V651.5H405.4V666.7H427.4V672.0H458.9V686.8H487.4V686.6H511.1V695.2H532.8V695.5H558.0V703.5H578.7V701.6H603.7V705.5H628.7V699.0H652.7V693.0H678.0V686.9H704.9V678.4H724.2V673.3H751.9V660.1H774.6V652.6H797.4V643.3H823.7V634.2H844.2V627.7H870.2V633.0H889.8V641.3H918.4V644.3H940.4V642.9H966.7V656.4H987.9V664.0H1010.4V673.0H1038.3V684.9H1062.7V691.8H1086.1V698.1H1109.1V703.6H1136.0V708.8H1160.5V711.5H1191.7V713.7H1219.9V715.3H1254.4V715.3H1288.0V714.8H1329.1V713.9H1371.8V713.1H1407.3V712.6H1447.7V712.4H1474.1"/><path d="M60.0 631.4H133.2V639.5H154.8V634.3H167.4V635.5H223.6V579.2H296.8V572.6H325.7V601.5H351.2V614.0H379.1V624.4H396.2V648.6H419.6V655.5H451.6V675.0H479.7V675.9H501.1V687.3H527.2V689.6H551.5V697.0H573.3V695.8H600.0V695.0H623.7V692.8H643.5V688.0H672.2V682.8H692.7V672.8H719.1V668.6H741.9V659.2H765.6V646.5H792.2V635.0H814.2V620.4H841.4V613.6H863.4V612.5H887.3V618.5H907.8V624.7H935.3V629.1H961.0V642.9H982.8V654.3H1005.6V667.3H1029.9V677.5H1056.4V687.3H1078.8V696.5H1106.8V700.4H1128.2V705.2H1153.0V708.8H1180.8V711.5H1212.1V712.6H1247.3V714.2H1282.7V713.7H1324.9V713.3H1363.0V712.9H1401.5V712.3H1444.3V712.0H1464.1"/><path d="M60.0 628.6H129.9V620.8H152.5V623.7H166.7V630.8H225.0V605.6H295.4V628.5H324.9V627.8H350.1V637.4H372.7V645.7H396.6V681.2H421.4V682.8H448.4V691.5H477.2V694.2H501.4V701.4H525.4V702.9H551.8V708.8H572.4V708.1H597.6V706.2H621.1V704.2H644.8V699.1H668.7V694.2H693.0V685.1H716.9V681.9H741.3V672.8H770.0V663.9H787.1V656.2H814.3V647.5H837.6V652.4H861.3V644.8H882.7V651.9H907.5V652.2H932.7V656.7H958.2V659.4H979.8V665.7H1003.3V674.0H1027.4V682.6H1051.4V691.2H1078.0V698.9H1102.1V705.0H1125.7V708.9H1150.9V713.2H1182.1V714.1H1212.4V716.7H1247.0V716.7H1283.4V717.2H1323.4V715.0H1362.8V713.5H1399.6V713.1H1440.3V712.8H1462.0"/><path d="M60.0 628.9H132.5V629.2H154.7V636.4H170.9V626.8H226.7V568.2H296.8V563.4H327.4V595.5H350.3V602.5H374.7V616.9H401.6V648.1H423.6V649.8H449.3V672.9H478.1V672.2H498.7V688.1H525.7V686.4H549.0V694.3H571.2V695.3H595.8V694.1H623.0V693.1H646.4V688.8H670.7V681.3H696.8V671.8H717.0V667.4H744.6V649.6H766.4V636.7H787.8V629.4H814.5V616.2H840.2V613.0H861.7V609.6H887.5V615.3H910.2V622.1H936.1V629.1H957.5V634.3H981.2V652.5H1006.2V664.6H1030.6V674.5H1054.5V685.6H1076.5V693.6H1102.1V700.2H1126.4V705.6H1155.0V708.7H1183.2V711.2H1212.7V712.6H1246.8V712.7H1281.1V712.8H1322.4V712.7H1361.6V712.6H1404.4V712.2H1443.0V711.9H1465.5"/><path d="M60.0 616.6H129.0V622.4H149.8V613.8H164.6V619.3H223.6V582.3H295.4V599.7H323.3V604.3H346.8V600.5H371.3V621.0H392.1V649.3H416.8V659.9H444.9V677.0H476.5V674.6H498.8V688.0H521.9V690.6H544.8V695.8H568.3V697.5H593.2V700.3H619.1V699.1H640.0V691.5H664.1V684.0H691.6V677.5H713.8V673.8H737.8V661.6H760.4V647.0H785.1V638.1H809.5V626.7H833.2V621.1H857.3V616.6H882.7V620.7H907.4V625.6H928.1V631.8H952.7V639.9H977.5V653.8H1002.6V665.5H1027.3V674.2H1049.7V685.9H1073.0V694.8H1101.7V699.7H1122.6V705.5H1150.4V709.3H1177.9V711.8H1208.0V712.7H1242.6V713.6H1276.5V714.4H1316.8V713.5H1356.7V712.6H1398.5V712.4H1438.8V712.3H1459.1"/><path d="M60.0 629.3H124.8V632.8H147.5V633.9H165.7V629.9H229.7V570.9H295.9V590.4H323.9V613.8H346.3V614.0H367.9V637.0H391.8V656.6H417.9V670.7H442.5V678.6H474.6V683.5H496.0V695.4H519.1V695.4H546.7V701.3H568.4V701.9H592.8V699.9H616.8V699.6H640.0V695.0H666.1V689.1H687.9V681.4H712.8V675.2H737.3V668.4H760.3V650.5H784.6V640.3H807.9V626.9H833.5V631.9H855.2V617.7H881.1V630.5H903.7V636.4H927.7V641.1H954.3V646.8H974.9V656.9H999.6V667.8H1026.8V678.3H1050.2V686.5H1072.2V695.3H1095.9V701.1H1122.2V706.3H1147.1V710.7H1175.1V712.2H1206.3V714.0H1242.0V715.5H1276.1V715.4H1316.5V713.9H1359.3V713.3H1395.0V712.8H1437.8V712.4H1465.3"/><path d="M60.0 593.0H131.3V596.4H154.4V611.9H172.2V606.0H228.9V589.5H301.0V596.2H326.8V609.0H352.0V625.5H377.2V627.8H398.4V664.2H426.2V663.4H449.9V683.0H475.2V683.0H501.8V696.7H529.1V693.7H552.1V703.6H577.8V702.2H602.0V700.4H620.5V699.6H646.1V693.1H668.2V687.3H695.9V680.9H720.8V673.7H743.2V660.7H766.8V651.1H792.0V645.6H814.7V629.5H840.4V628.5H865.3V627.8H889.1V629.1H909.1V629.8H936.4V634.7H959.1V650.9H984.6V657.4H1009.4V672.7H1034.6V680.4H1056.8V689.6H1079.2V696.9H1104.2V702.8H1128.4V706.7H1153.1V711.1H1182.7V712.9H1213.6V714.1H1250.0V714.7H1285.2V714.5H1324.2V713.6H1360.9V712.9H1404.7V712.5H1441.1V712.3H1469.9"/><path d="M60.0 602.2H138.5V600.7H157.9V612.4H174.8V612.2H214.8V587.7H297.8V585.3H328.1V596.7H356.1V624.6H380.4V643.2H405.7V658.1H429.4V664.9H458.8V678.9H487.5V686.0H509.9V693.6H534.5V692.3H558.2V698.9H580.0V697.3H604.1V699.0H626.8V695.3H655.4V687.9H677.4V682.5H700.0V675.0H724.5V671.2H749.2V652.7H773.6V640.7H799.4V636.7H820.6V626.3H847.3V619.0H869.1V619.5H896.7V624.8H915.3V636.2H941.7V636.3H965.3V648.8H988.8V660.2H1010.7V671.2H1036.5V682.0H1062.6V690.0H1084.0V697.0H1109.7V702.5H1134.2V708.3H1157.6V710.2H1187.5V712.6H1219.4V714.0H1257.2V713.8H1288.7V713.8H1329.3V713.7H1370.1V712.9H1407.5V712.5H1448.1V712.2H1468.8"/><path d="M60.0 617.0H139.1V613.7H159.2V607.5H176.0V612.6H221.2V576.1H301.9V588.0H331.6V609.7H357.0V630.0H380.8V636.3H403.7V662.6H426.8V665.3H458.4V682.2H486.0V684.5H509.0V691.3H531.2V695.0H554.8V699.8H582.0V699.3H605.0V698.7H629.4V695.9H653.5V688.8H676.7V686.0H700.1V673.7H725.0V669.7H748.7V655.8H774.9V643.9H797.8V636.1H818.7V629.5H844.3V619.0H870.8V619.2H893.1V624.1H917.6V635.3H940.7V638.8H966.7V646.4H989.4V662.8H1012.5V669.6H1034.6V680.6H1061.0V689.3H1082.1V696.2H1106.6V702.5H1133.5V706.5H1158.0V710.8H1188.8V712.7H1219.6V713.6H1254.9V715.2H1287.6V714.4H1330.9V713.5H1366.1V712.8H1410.8V712.5H1449.3V712.1H1470.9"/><path d="M60.0 622.6H139.4V629.0H161.3V627.5H175.4V623.0H214.5V581.7H299.2V580.3H329.2V600.6H355.0V617.4H378.6V625.9H403.5V648.1H430.2V661.2H460.8V675.2H484.0V678.4H508.6V691.3H533.0V691.3H555.6V695.6H579.2V696.0H606.1V696.8H630.0V696.0H651.5V688.1H677.8V683.1H699.8V676.5H724.7V671.9H747.8V650.7H772.5V643.1H799.6V631.7H815.9V625.8H846.4V611.4H868.8V611.3H890.9V616.8H915.3V631.2H943.6V632.1H964.4V649.4H989.4V658.6H1011.9V669.0H1037.7V681.7H1062.5V689.7H1085.0V695.9H1110.8V702.5H1134.1V707.1H1159.6V710.1H1186.6V712.1H1221.7V713.8H1253.1V713.9H1286.5V714.4H1328.8V713.5H1369.9V712.6H1407.5V712.2H1449.7V712.0H1467.3"/><path d="M60.0 641.2H129.7V646.5H148.2V649.3H167.3V647.0H230.6V559.4H297.2V555.0H324.8V594.4H347.8V593.9H370.0V609.8H396.2V640.8H418.3V650.3H447.0V673.3H478.2V671.2H498.6V686.0H526.0V687.0H546.5V694.2H571.3V692.4H594.1V696.1H620.3V693.6H643.5V688.3H667.5V680.8H690.5V671.5H716.0V664.9H739.4V658.5H762.1V642.6H785.2V624.2H813.2V611.4H834.7V614.4H858.5V605.0H885.6V607.0H909.5V614.2H934.8V626.8H957.8V639.4H980.7V654.2H1005.3V663.6H1029.1V673.6H1052.7V683.5H1076.0V693.5H1100.2V698.7H1126.0V704.2H1152.1V708.2H1180.8V710.6H1210.8V710.9H1242.0V712.6H1281.4V713.2H1317.4V712.3H1358.2V712.2H1398.6V712.2H1438.0V712.0H1464.7"/><path d="M60.0 650.0H127.5V645.1H153.1V658.7H163.8V653.3H233.7V589.7H297.2V607.5H322.7V626.5H345.6V632.2H370.4V648.9H394.9V669.8H418.2V673.3H449.6V691.8H476.1V687.5H497.0V699.8H522.3V698.0H547.6V705.4H570.1V704.4H592.9V703.7H617.8V703.9H644.0V695.7H669.4V691.2H691.9V687.5H713.9V678.4H741.5V668.4H763.3V661.3H784.1V652.5H808.4V642.3H834.4V637.7H859.4V642.7H881.2V652.1H908.4V641.1H931.6V649.4H954.2V658.0H980.9V665.1H1005.0V673.7H1026.6V681.4H1050.0V690.0H1073.6V697.8H1098.9V703.0H1125.0V708.2H1148.3V711.6H1178.6V714.4H1208.0V715.0H1242.8V716.5H1276.5V716.2H1318.7V714.8H1359.8V713.4H1400.9V712.9H1438.5V712.6H1466.5"/><path d="M60.0 636.7H133.0V636.5H156.9V635.3H172.1V631.6H215.5V571.6H299.0V573.9H327.8V602.4H353.2V613.9H379.2V622.5H400.2V644.2H425.8V655.2H454.5V674.9H480.6V674.5H507.6V689.0H528.1V685.0H555.0V696.3H575.7V697.7H600.2V695.5H627.7V691.6H651.7V687.9H673.0V682.6H700.0V675.4H721.5V665.8H744.7V649.2H766.7V640.3H793.0V631.6H818.7V615.2H840.7V614.5H866.8V604.5H891.1V617.3H914.5V625.6H937.2V627.8H959.9V643.0H984.8V655.7H1013.1V666.3H1036.1V679.3H1056.9V686.2H1082.7V694.9H1107.9V701.5H1131.0V706.2H1156.0V709.0H1183.6V711.0H1215.3V712.7H1250.2V713.4H1287.1V713.8H1325.0V712.7H1366.4V712.5H1407.9V712.3H1445.0V711.8H1464.7"/><path d="M60.0 660.9H130.3V656.9H145.9V657.9H166.4V658.9H235.2V566.2H298.9V581.1H321.0V608.3H344.4V616.5H372.5V622.9H396.3V650.5H421.3V659.7H449.8V681.4H476.7V674.9H501.4V691.9H521.7V692.7H549.6V697.6H572.8V695.4H596.8V698.2H620.8V696.6H645.1V690.5H667.2V684.9H689.5V675.2H716.9V669.3H737.6V658.1H764.2V643.4H786.3V637.5H812.1V625.1H835.0V618.0H858.9V616.7H885.3V620.1H905.9V630.1H929.7V637.0H956.5V641.5H978.2V654.8H1006.3V667.4H1026.7V673.6H1050.9V684.7H1075.5V694.1H1099.1V699.9H1123.8V704.3H1150.4V709.0H1179.8V712.5H1210.2V712.5H1245.2V713.4H1277.9V713.7H1318.7V713.1H1359.3V712.9H1400.1V712.3H1438.1V712.1H1467.9"/><path d="M60.0 631.2H135.2V630.7H156.8V637.6H173.9V634.6H217.7V613.5H300.3V640.2H328.3V635.2H353.4V662.9H377.2V670.1H402.2V691.6H426.2V686.8H453.1V702.7H482.5V702.3H505.8V705.9H529.7V706.3H550.4V707.7H579.5V712.2H601.6V711.2H624.7V710.2H648.6V702.5H672.8V698.1H696.9V691.3H722.1V683.4H747.9V676.6H770.3V670.2H795.0V665.8H817.7V657.4H842.3V658.5H865.9V652.4H890.5V659.4H914.1V659.9H936.0V657.6H963.2V665.2H983.5V671.1H1010.1V679.4H1034.4V688.0H1058.2V696.5H1081.3V702.5H1105.0V705.8H1130.2V711.1H1157.2V714.5H1184.5V716.0H1216.7V717.9H1249.9V718.2H1287.2V718.0H1326.9V715.5H1366.5V713.7H1404.5V713.1H1447.6V713.1H1469.2"/><path d="M60.0 636.9H124.8V636.7H144.7V632.9H160.0V627.6H240.2V596.9H294.0V606.7H322.1V622.1H342.7V620.1H365.2V636.2H389.5V657.5H414.3V672.6H443.9V678.9H472.5V690.3H494.6V695.4H519.0V700.5H541.2V701.2H565.8V704.1H589.6V701.2H616.5V704.8H641.4V699.2H663.2V692.6H686.5V688.0H712.0V676.6H736.0V672.6H760.2V659.4H781.2V652.1H805.8V650.1H830.0V636.8H855.9V639.1H881.4V641.6H903.4V639.6H925.1V645.8H953.2V654.5H976.2V659.1H997.6V669.9H1022.2V678.5H1044.0V688.1H1074.0V697.7H1094.5V702.0H1121.2V707.6H1141.8V710.9H1175.5V712.8H1204.9V715.4H1237.4V715.8H1279.2V716.0H1315.4V714.4H1353.0V713.6H1394.5V712.9H1435.4V712.6H1457.8"/><path d="M60.0 614.5H143.5V602.0H163.2V604.0H178.4V600.2H207.3V602.1H300.8V608.4H330.6V620.6H358.9V630.2H387.0V657.0H406.2V667.3H431.6V680.9H463.3V683.5H488.4V685.9H512.0V695.2H536.9V696.5H557.8V704.5H586.5V703.0H609.4V703.1H632.0V699.6H656.9V691.3H684.6V684.6H705.3V680.3H729.4V672.6H754.0V660.6H778.1V653.6H800.5V646.2H824.0V646.6H849.4V625.5H872.6V634.8H894.9V642.2H922.1V639.7H943.4V647.7H970.5V658.4H992.7V665.9H1016.1V673.8H1040.5V686.3H1067.3V694.8H1090.4V699.9H1112.7V705.3H1137.3V709.4H1161.2V712.3H1192.4V713.4H1223.2V715.1H1257.9V715.3H1293.5V715.1H1334.4V714.1H1372.6V712.8H1411.4V712.7H1452.6V712.5H1472.0"/><path d="M60.0 612.4H139.7V604.4H160.1V606.3H178.3V600.2H219.3V570.9H301.6V569.7H329.8V598.1H355.9V614.8H381.6V629.8H405.1V651.7H430.1V653.6H458.6V679.2H484.3V676.4H511.5V688.4H533.7V688.6H559.8V696.5H583.4V698.6H606.0V694.7H629.1V692.3H653.0V685.8H677.5V682.9H701.3V673.2H726.5V666.7H748.9V645.7H773.4V640.5H798.2V626.6H822.9V620.9H846.9V611.5H872.1V613.4H893.7V617.1H917.6V630.7H943.3V631.4H967.7V643.6H987.4V659.0H1014.6V667.6H1037.6V680.1H1060.8V689.1H1086.0V695.7H1109.8V702.5H1135.0V706.2H1155.7V710.0H1191.6V711.4H1219.9V712.8H1256.2V713.5H1290.1V713.8H1332.1V713.1H1370.8V712.5H1408.1V712.4H1451.6V712.1H1470.0"/><path d="M60.0 631.5H138.0V633.0H158.6V639.7H173.0V629.0H217.4V584.0H299.2V587.7H328.9V605.7H354.9V627.2H380.9V637.5H402.9V662.3H428.5V660.7H455.4V683.9H484.8V682.3H507.4V691.8H530.0V691.8H552.8V701.2H579.4V701.9H604.7V701.4H628.2V697.0H652.3V691.1H676.8V686.3H700.4V676.8H722.2V670.2H746.8V660.2H770.5V644.0H796.3V640.3H819.1V629.1H843.7V629.5H867.5V631.1H890.2V626.7H917.0V630.2H937.8V640.3H965.4V651.7H989.1V661.8H1012.1V670.0H1035.0V683.0H1059.9V690.9H1083.8V696.1H1107.4V703.0H1132.3V707.7H1157.1V711.4H1186.8V712.1H1218.3V713.8H1253.6V714.1H1288.2V714.5H1325.5V714.0H1370.3V712.8H1408.3V712.4H1446.8V712.3H1464.1"/><path d="M60.0 648.4H121.2V647.0H141.4V627.9H158.2V641.7H236.6V547.9H293.1V546.5H318.7V579.7H339.6V588.5H365.5V594.9H387.7V635.5H413.0V640.7H440.5V665.5H465.8V668.2H493.4V683.8H515.9V682.7H540.1V689.8H563.0V690.7H590.9V691.1H610.1V689.1H636.2V684.1H660.1V679.2H681.2V672.6H707.9V664.1H729.7V659.5H753.1V641.8H782.6V621.9H802.1V613.4H827.2V600.0H849.6V596.6H875.1V601.5H900.2V607.8H925.7V614.5H946.3V627.3H974.3V641.4H996.4V656.4H1023.0V665.7H1041.9V677.4H1066.4V687.1H1089.2V694.9H1117.6V702.0H1143.2V707.3H1171.5V710.0H1202.2V710.7H1236.0V711.3H1271.0V711.8H1311.4V712.1H1351.3V712.4H1394.1V712.0H1430.7V711.7H1459.3"/><path d="M60.0 649.4H120.3V653.0H140.2V651.8H155.5V654.2H241.1V547.0H292.6V553.5H317.4V560.0H332.8V590.9H358.7V600.6H382.9V642.9H406.6V639.2H436.7V663.0H462.5V668.0H488.3V671.0H511.6V684.3H535.8V686.8H559.3V691.9H582.8V692.7H605.3V693.2H633.3V686.5H657.0V680.4H681.4V675.1H704.0V666.2H730.4V662.9H749.8V642.8H777.6V628.9H801.3V618.5H824.6V611.2H845.7V600.5H873.2V605.0H896.9V612.0H919.6V618.4H942.6V625.9H969.2V642.5H990.6V654.4H1013.9V667.5H1040.5V677.7H1063.9V687.7H1088.2V695.4H1115.9V702.3H1140.1V706.7H1169.6V710.4H1199.8V710.9H1232.9V712.2H1268.2V711.9H1304.5V712.7H1346.6V712.4H1385.3V712.2H1426.0V712.1H1457.3"/><path d="M60.0 650.9H132.6V655.8H151.5V651.7H169.4V659.7H225.8V563.3H296.1V562.6H325.5V595.5H348.4V602.2H375.4V612.4H396.4V650.4H421.8V651.6H448.8V671.2H474.8V669.1H502.0V685.3H523.4V687.6H547.1V694.3H567.5V693.5H596.3V691.5H622.8V693.4H644.4V685.4H670.4V682.7H692.6V672.8H715.2V664.2H741.2V652.9H766.0V640.0H789.5V627.8H812.6V612.2H840.1V609.5H862.1V608.5H885.5V614.3H909.1V619.5H931.5V624.2H956.9V638.3H982.3V648.4H1005.3V662.7H1028.1V674.2H1054.5V685.3H1074.6V692.6H1100.1V700.5H1126.9V704.2H1151.7V709.0H1181.3V711.0H1212.8V711.7H1242.9V712.3H1283.6V712.6H1318.2V712.8H1363.6V712.5H1403.2V712.2H1441.2V711.9H1464.8"/><path d="M60.0 615.7H132.2V612.4H151.5V618.8H168.9V607.8H225.0V595.3H298.1V601.7H324.2V615.2H348.4V628.6H373.7V645.3H397.7V670.6H423.9V670.4H449.3V688.5H479.5V687.0H500.9V696.8H524.4V696.0H551.1V704.6H575.6V702.5H599.5V703.6H621.4V702.0H645.4V697.5H668.7V690.8H693.2V682.0H717.1V678.3H738.6V670.2H764.5V655.3H788.2V648.6H812.7V644.1H835.9V638.4H864.1V639.1H885.9V638.3H908.1V641.3H933.2V648.9H956.5V650.7H981.1V661.6H1004.7V669.0H1027.7V681.4H1053.8V689.0H1077.2V697.5H1100.9V702.6H1127.0V708.0H1150.9V712.1H1181.2V713.6H1212.5V714.8H1247.0V716.1H1284.2V715.5H1320.4V714.2H1361.0V713.4H1403.0V712.7H1441.5V712.4H1469.6"/><path d="M60.0 637.9H123.4V650.7H141.6V640.2H161.2V645.9H238.1V591.1H294.1V625.6H324.1V629.4H341.4V636.8H369.5V652.3H389.1V658.0H414.9V676.9H444.1V685.9H470.0V691.7H495.3V694.9H518.7V699.9H541.0V702.2H566.8V703.6H591.2V707.7H614.6V704.8H640.3V700.3H660.9V695.8H687.0V687.8H709.9V681.1H731.5V677.8H758.6V663.1H780.9V651.3H804.0V647.6H833.3V644.5H852.3V639.5H880.8V639.4H900.6V640.6H923.0V649.6H952.7V651.9H971.2V659.9H998.2V670.1H1023.9V682.9H1047.2V689.1H1070.3V696.2H1094.6V702.1H1121.0V707.3H1142.3V711.8H1172.2V714.6H1203.2V716.3H1242.0V715.7H1275.6V716.6H1315.6V714.7H1353.9V713.7H1394.8V712.9H1435.0V712.7H1457.4"/><path d="M60.0 614.7H135.8V618.9H152.6V616.5H174.6V608.6H222.4V567.7H298.5V572.9H326.2V595.4H353.5V613.6H376.6V617.5H401.1V646.9H427.0V656.2H454.4V678.1H481.9V675.5H504.5V691.6H527.7V689.9H552.6V698.1H577.0V695.1H601.6V694.0H626.7V692.5H648.0V689.1H672.8V681.8H697.9V673.3H720.0V666.3H745.6V653.6H769.3V640.5H793.7V628.2H817.0V619.0H840.9V616.6H864.9V611.6H893.5V613.4H911.9V632.2H936.3V632.3H959.4V645.1H984.2V655.0H1009.8V665.7H1034.8V677.0H1056.6V686.7H1080.1V696.2H1107.3V700.5H1131.0V705.7H1156.5V709.6H1185.4V711.5H1214.7V713.6H1251.5V713.1H1285.7V713.7H1326.6V713.0H1364.7V712.7H1405.0V712.3H1444.5V712.2H1462.7"/><path d="M60.0 600.2H134.2V607.1H154.5V605.5H173.1V603.4H219.6V573.6H298.4V554.6H325.7V593.4H353.3V602.1H373.9V609.2H400.4V640.3H424.3V651.4H454.2V671.7H480.7V669.5H504.5V684.7H527.1V687.6H551.9V691.7H575.8V693.1H599.1V694.4H624.7V689.4H649.1V685.0H672.3V683.2H693.4V668.7H720.2V667.2H745.7V650.0H768.7V635.0H793.9V624.5H815.9V609.2H842.2V606.7H865.9V615.7H887.0V611.6H911.8V620.1H937.2V629.9H960.8V638.0H983.1V653.3H1010.1V663.4H1035.9V672.8H1055.4V685.8H1077.1V693.7H1104.0V699.7H1128.3V704.0H1153.1V708.5H1184.2V711.0H1213.8V712.0H1247.4V711.9H1287.0V712.6H1323.9V712.8H1366.3V712.4H1403.5V712.1H1444.3V711.9H1465.5"/><path d="M60.0 622.5H138.4V620.2H157.7V609.6H175.1V621.7H216.7V576.3H300.7V559.7H330.9V597.2H355.9V614.8H377.9V635.5H405.5V650.3H429.9V650.1H456.8V671.8H486.2V676.4H508.8V684.6H532.2V688.5H558.1V692.9H579.7V696.6H605.6V695.0H625.8V692.7H652.9V684.0H676.8V678.3H699.7V671.9H723.5V664.9H750.8V644.4H774.0V635.9H797.0V630.2H821.8V616.6H844.4V613.2H865.9V608.6H892.5V612.9H915.2V621.5H941.6V632.7H962.6V643.9H989.2V656.0H1013.4V668.2H1037.3V677.9H1062.0V689.0H1087.7V694.6H1108.1V701.4H1131.2V706.3H1162.5V709.8H1191.3V711.0H1220.8V712.3H1253.7V713.3H1288.1V713.4H1327.9V712.6H1369.7V712.6H1410.1V712.2H1448.1V712.1H1466.5"/><path d="M60.0 625.4H140.4V629.7H158.3V623.7H176.0V623.8H209.0V588.9H295.4V593.8H328.5V614.9H356.4V628.0H382.3V642.0H404.4V653.7H428.4V666.9H453.7V686.2H485.9V685.9H508.4V693.4H535.2V696.0H556.9V701.3H577.6V702.1H603.9V704.7H629.4V697.7H651.2V691.9H677.1V688.0H701.3V678.8H726.0V674.5H750.2V655.5H773.4V652.3H797.4V639.1H825.4V626.6H843.5V633.8H869.0V628.8H892.7V636.3H917.3V643.9H940.0V640.1H964.2V653.7H990.0V662.5H1015.3V672.2H1036.5V681.1H1060.0V691.6H1083.6V698.2H1109.7V704.5H1135.0V708.2H1159.9V712.4H1190.1V713.7H1217.9V715.1H1251.7V714.9H1288.5V715.5H1328.0V713.6H1369.6V712.9H1410.4V712.5H1451.9V712.4H1466.8"/><path d="M60.0 660.7H124.9V653.4H147.3V652.8H160.8V656.3H226.6V606.7H297.3V613.1H325.0V626.1H343.5V626.2H369.1V648.9H390.0V660.1H415.7V676.9H445.8V693.0H472.1V694.0H495.1V696.7H521.7V696.4H548.1V708.0H568.0V706.1H591.9V705.0H616.6V704.7H638.7V701.3H667.5V692.5H692.8V683.7H710.3V681.4H738.4V675.2H760.2V662.9H784.2V651.3H810.3V640.3H832.6V644.4H858.2V641.2H881.9V636.2H906.0V639.1H929.9V647.2H954.5V656.1H977.1V660.5H998.7V672.4H1024.7V678.7H1047.5V689.5H1074.4V699.1H1098.4V703.3H1123.7V707.2H1148.8V711.8H1180.6V713.8H1205.5V715.5H1242.7V716.5H1275.0V716.0H1317.2V714.2H1356.9V713.5H1398.8V712.9H1439.6V712.8H1465.3"/><path d="M60.0 622.5H135.9V611.4H154.7V615.0H171.0V611.5H223.2V604.3H299.5V625.7H327.4V631.7H356.2V650.3H380.0V660.7H398.6V691.3H428.1V686.3H454.7V693.3H482.9V700.7H507.0V703.0H532.9V704.4H555.7V709.1H578.4V707.8H605.4V706.6H625.1V706.6H651.4V697.6H672.6V697.3H698.2V689.9H722.2V681.9H747.7V671.4H771.0V661.8H792.2V660.3H818.2V654.2H839.9V646.2H864.7V650.7H888.3V654.4H912.9V653.8H939.2V655.0H961.2V660.4H988.0V666.0H1010.3V676.5H1033.4V687.5H1059.3V693.8H1083.2V702.4H1107.6V705.5H1133.8V711.4H1159.1V714.3H1186.8V715.4H1217.1V717.0H1251.5V717.1H1290.3V716.7H1325.3V715.0H1367.2V713.4H1407.8V713.0H1447.2V712.9H1469.6"/><path d="M60.0 639.5H128.1V646.9H145.9V647.4H164.1V647.4H224.9V590.4H296.1V600.8H322.9V618.7H342.9V630.7H367.9V637.6H393.4V668.2H418.3V673.5H443.6V681.0H473.5V687.6H496.8V696.9H520.9V698.0H543.8V704.6H569.9V702.6H592.1V701.9H615.8V703.4H641.6V694.7H664.9V689.7H686.9V685.0H710.8V680.4H737.9V665.8H759.0V657.1H786.9V648.3H807.3V646.3H832.1V635.2H857.3V637.7H879.7V636.9H903.8V638.9H928.5V637.1H953.0V652.4H975.8V657.9H1000.5V669.5H1028.0V680.4H1047.5V688.9H1072.8V697.9H1097.0V701.7H1122.8V706.2H1144.3V710.8H1176.7V713.4H1207.2V715.0H1241.0V715.9H1277.1V715.1H1316.9V714.1H1355.0V713.3H1395.3V712.7H1434.7V712.7H1461.0"/><path d="M60.0 647.4H129.7V650.5H150.4V650.9H166.5V648.6H228.1V577.0H297.2V582.0H324.0V612.0H343.9V615.4H371.7V625.9H396.6V656.1H423.1V661.1H448.8V680.5H477.1V681.3H500.4V690.1H527.0V692.1H550.2V697.8H572.4V699.5H596.7V700.4H617.5V698.0H643.7V690.8H666.8V687.3H694.1V675.8H715.7V671.0H740.6V663.9H764.1V646.5H786.7V639.8H812.7V627.7H835.5V623.2H862.7V625.8H885.6V625.5H910.3V626.3H932.1V632.5H957.1V645.6H980.8V657.3H1006.8V667.3H1029.0V677.1H1051.5V687.8H1077.2V695.5H1099.3V701.9H1127.6V706.8H1152.1V709.9H1182.2V712.4H1212.3V713.8H1247.1V714.3H1280.9V714.9H1323.7V713.4H1362.8V712.7H1400.8V712.5H1441.2V712.4H1467.8"/><path d="M60.0 651.1H123.0V652.9H142.7V653.5H158.4V655.1H235.4V586.7H297.0V597.8H322.1V612.9H341.3V619.3H366.4V626.2H387.2V650.8H413.1V662.9H439.7V677.7H464.3V681.3H490.8V693.0H520.0V694.2H539.7V697.4H566.5V700.0H590.2V699.7H613.9V700.0H638.1V693.7H661.1V690.2H686.5V683.2H710.9V674.5H734.6V666.6H756.0V650.6H780.9V642.6H805.1V632.0H830.2V621.9H854.0V626.2H875.7V626.8H900.7V633.0H923.7V643.0H949.3V643.6H973.8V657.3H1000.4V668.3H1020.4V676.7H1045.1V684.1H1068.9V693.6H1091.6V700.0H1119.4V705.4H1144.2V709.9H1176.1V712.4H1202.6V713.9H1239.0V715.0H1273.0V714.8H1313.9V714.2H1354.5V712.9H1394.8V712.8H1429.9V712.4H1460.1"/><path d="M60.0 655.7H119.8V655.0H139.2V662.6H156.0V662.6H238.9V619.9H294.4V633.8H318.5V625.9H335.8V650.0H360.9V649.4H383.3V670.1H410.6V685.2H436.9V686.6H468.5V695.5H490.4V700.9H513.3V703.5H538.2V705.6H563.6V711.3H586.8V711.8H611.4V711.0H633.2V707.1H660.4V698.8H681.7V693.1H704.5V688.5H728.5V680.0H755.9V675.5H774.8V665.0H802.7V662.4H826.9V651.6H848.0V654.2H873.4V657.1H897.6V656.9H923.3V658.7H947.6V659.6H969.4V665.2H992.9V672.2H1016.1V681.9H1041.9V690.8H1066.3V698.6H1090.3V703.2H1114.2V708.5H1140.1V711.7H1169.6V715.2H1198.9V716.4H1234.4V718.2H1271.6V717.3H1309.0V715.4H1350.8V714.5H1389.4V713.3H1425.4V713.1H1456.6"/><path d="M60.0 622.3H126.6V635.0H148.3V631.0H165.6V622.9H229.9V610.5H297.2V612.5H323.3V629.0H343.6V642.6H370.7V643.8H393.5V678.0H418.6V681.9H449.5V694.6H475.2V694.4H499.4V702.7H522.2V701.6H545.7V704.6H570.6V709.1H595.3V707.9H617.8V706.2H643.0V703.6H663.9V696.9H690.7V691.0H715.5V685.7H738.0V675.8H760.4V665.4H785.4V653.8H811.2V651.4H833.9V647.4H857.3V642.5H881.2V641.5H908.2V652.6H928.8V649.5H953.0V656.5H980.6V667.5H1000.8V675.4H1028.2V684.4H1051.3V691.3H1075.2V699.1H1098.4V704.0H1122.7V708.6H1146.8V711.3H1175.4V714.4H1207.0V716.0H1244.1V717.2H1278.0V716.5H1321.6V714.8H1357.6V713.6H1400.2V713.0H1441.0V712.8H1463.5"/><path d="M60.0 654.6H127.7V659.1H149.0V659.5H165.3V657.2H228.1V607.3H297.1V617.4H325.4V629.1H346.6V633.8H369.8V650.0H393.9V675.2H418.8V681.0H446.2V694.7H475.9V690.4H498.9V702.2H522.6V700.2H546.3V704.9H572.0V705.4H593.6V706.2H617.5V703.2H643.7V698.9H665.1V693.8H691.2V687.7H717.7V679.6H738.9V671.2H762.5V662.4H786.8V651.2H810.0V643.4H834.9V639.8H858.5V648.4H881.8V643.3H905.0V646.3H929.8V650.3H952.0V657.6H980.4V664.0H1001.8V671.3H1027.9V683.0H1049.2V691.2H1075.6V697.9H1098.6V704.6H1123.2V707.8H1147.7V712.0H1180.2V715.1H1208.2V716.1H1243.6V717.3H1277.0V717.0H1319.2V714.6H1358.0V713.3H1400.9V712.8H1438.1V712.8H1462.1"/><path d="M60.0 650.1H122.9V648.2H144.4V644.3H162.2V654.4H241.1V578.7H297.0V585.8H321.9V606.5H340.5V610.5H364.2V618.9H387.9V647.8H414.5V662.2H440.1V676.6H468.3V679.8H492.3V692.2H515.1V693.3H539.2V696.9H564.8V701.0H586.9V699.9H610.9V700.4H636.5V693.1H661.7V686.7H685.3V679.5H709.2V675.6H731.1V669.1H754.5V652.9H781.7V640.6H804.0V631.4H827.1V627.6H853.5V620.1H875.3V624.5H899.7V630.8H922.5V633.3H945.9V644.4H971.4V654.3H996.2V662.2H1019.2V671.8H1044.9V685.0H1069.1V693.0H1091.0V698.3H1116.5V704.6H1141.8V710.2H1173.7V711.7H1200.8V713.7H1236.7V714.1H1273.4V714.9H1313.3V713.4H1350.9V713.2H1394.1V712.4H1431.8V712.3H1464.8"/><path d="M60.0 625.9H131.3V620.5H149.2V617.6H167.4V619.7H220.0V593.1H296.8V602.5H325.3V614.5H346.0V627.3H373.5V639.9H397.4V659.3H418.0V668.1H448.3V685.1H477.6V686.6H497.6V695.3H525.3V697.3H551.0V703.0H573.6V702.3H595.7V700.9H622.8V698.4H641.9V694.8H668.9V689.1H690.4V683.0H716.2V675.6H741.8V665.7H763.7V652.1H787.7V650.0H812.7V635.4H837.2V634.1H859.9V628.4H883.9V634.1H906.2V637.4H930.8V640.3H955.3V651.4H980.0V660.0H1005.4V668.6H1026.9V679.7H1052.9V687.8H1076.8V697.5H1102.1V702.6H1124.4V706.9H1151.2V710.7H1178.6V712.9H1210.9V714.3H1242.9V715.6H1281.5V715.2H1322.5V714.2H1361.2V713.1H1401.9V712.7H1440.9V712.4H1465.1"/><path d="M60.0 621.4H134.0V622.0H155.8V626.7H174.1V629.3H218.6V598.0H297.6V598.2H327.0V623.1H352.7V634.6H377.0V642.4H401.6V666.6H426.0V671.4H454.1V687.1H480.9V693.8H506.8V697.2H531.8V697.3H552.9V702.6H577.6V700.9H604.9V704.5H628.3V704.6H650.1V694.9H675.4V689.1H699.4V685.4H725.6V676.4H746.3V665.5H769.0V648.7H792.5V647.6H816.6V644.6H842.5V633.9H865.9V638.9H891.9V637.9H917.4V638.3H936.7V644.1H962.1V654.2H986.0V664.5H1011.5V676.7H1033.0V682.1H1058.1V692.1H1083.5V697.2H1104.5V702.9H1130.5V708.7H1157.7V712.9H1188.0V714.4H1217.6V715.1H1248.8V716.0H1288.1V715.9H1324.7V714.4H1364.3V712.8H1408.0V712.8H1446.0V712.6H1468.1"/><path d="M60.0 640.0H127.3V652.0H146.3V648.9H166.4V645.8H229.3V598.2H296.5V613.6H323.6V618.4H343.9V633.8H369.2V644.4H395.0V674.4H419.4V680.3H447.5V691.2H474.6V688.7H497.7V701.6H521.0V699.7H545.8V705.6H568.6V709.4H593.4V707.1H617.5V704.7H641.5V698.7H666.2V694.6H691.1V686.0H715.5V681.3H738.1V671.0H762.2V661.0H786.4V650.2H811.7V643.5H834.7V640.3H857.6V639.4H885.5V636.6H905.8V642.9H931.5V655.5H954.2V654.3H977.3V664.3H1002.7V670.6H1023.2V681.1H1049.2V689.7H1074.6V699.2H1097.1V703.0H1120.7V708.2H1145.5V711.5H1178.9V715.1H1209.4V716.5H1243.9V716.0H1277.3V716.7H1320.2V715.0H1357.0V713.6H1397.9V713.0H1437.2V712.8H1463.5"/><path d="M60.0 617.0H132.0V623.5H148.8V616.8H165.9V619.1H225.6V580.0H295.1V584.8H328.1V606.9H347.2V611.0H373.5V628.9H394.5V655.0H422.0V656.2H448.5V681.5H476.9V675.3H499.5V691.4H524.8V691.9H549.7V698.5H574.7V700.2H597.2V698.4H621.5V694.0H647.0V689.1H671.4V682.6H693.2V675.3H716.7V673.4H739.4V659.2H767.1V651.2H789.5V637.4H810.7V624.3H835.4V623.4H859.5V618.1H882.5V622.4H909.9V627.5H930.8V632.7H957.3V645.0H980.7V656.8H1005.0V667.2H1029.3V675.4H1051.9V687.1H1076.9V694.7H1098.9V701.2H1126.1V706.2H1151.8V709.9H1180.1V712.4H1210.5V713.0H1246.0V712.8H1280.2V713.9H1326.6V713.8H1360.8V712.9H1402.0V712.5H1439.2V712.2H1465.5"/><path d="M60.0 617.1H132.4V616.6H153.2V617.2H169.4V609.2H224.4V619.0H299.0V628.2H325.5V630.7H351.6V648.0H375.5V664.1H398.6V686.5H425.6V684.1H452.7V700.7H481.4V697.9H503.6V705.0H529.2V702.0H550.4V709.5H573.3V709.7H597.0V709.7H621.8V708.9H646.5V700.4H672.2V696.2H697.7V690.0H719.9V686.4H743.8V677.6H770.1V668.2H791.6V658.5H817.4V656.0H842.9V646.0H863.5V656.1H889.1V655.9H911.6V654.3H935.8V660.2H960.2V660.6H984.3V669.2H1008.6V680.2H1031.4V687.1H1056.3V694.6H1079.7V701.6H1103.2V705.0H1130.2V710.3H1154.1V713.6H1184.3V715.9H1215.1V717.4H1247.0V717.6H1283.0V718.0H1324.8V715.0H1363.8V713.6H1403.3V713.0H1444.5V713.0H1463.3"/><path d="M60.0 636.5H120.4V640.5H142.0V635.9H161.0V630.8H239.3V571.5H294.7V579.0H318.5V595.5H337.9V604.4H363.4V623.9H385.8V646.6H411.4V659.3H437.9V673.7H465.9V678.5H493.5V690.5H518.1V691.3H539.7V694.2H561.9V696.7H589.0V698.2H612.7V698.1H635.7V693.7H660.0V688.0H685.6V680.8H705.3V670.5H732.4V665.1H756.8V647.8H781.1V639.7H803.7V635.1H825.9V624.9H852.2V622.6H876.4V620.1H900.6V631.0H924.3V636.1H948.6V638.4H971.5V652.2H994.6V660.9H1018.0V672.1H1043.7V682.5H1068.5V691.9H1092.7V698.2H1114.3V704.4H1141.8V708.7H1175.0V710.8H1200.6V713.5H1235.9V714.3H1272.7V713.6H1313.5V713.4H1352.2V712.8H1390.3V712.4H1431.9V712.2H1465.5"/><path d="M60.0 644.2H132.6V646.9H154.8V651.8H169.2V650.0H208.9V584.0H295.0V563.5H323.8V597.8H352.1V614.4H373.9V623.3H397.2V639.9H421.0V650.3H450.3V671.5H477.4V670.2H504.0V687.4H523.6V688.1H551.2V696.2H576.0V695.8H601.3V697.2H624.9V692.0H645.9V685.7H672.0V682.6H697.2V671.8H717.6V667.6H743.5V654.2H765.6V638.9H791.7V633.1H815.8V616.1H838.9V608.9H864.5V612.8H885.3V616.2H912.0V624.0H934.5V627.0H958.5V641.0H983.1V652.7H1005.6V664.5H1029.8V678.4H1055.2V685.9H1078.2V693.2H1101.4V700.3H1127.4V705.4H1153.0V710.0H1182.7V711.5H1212.2V712.8H1248.6V713.3H1283.5V713.0H1321.9V713.1H1361.5V712.6H1401.6V712.2H1439.9V712.0H1470.7"/><path d="M60.0 632.0H135.4V630.5H153.9V636.4H172.4V641.9H224.2V605.3H298.5V616.3H328.5V633.3H351.8V637.5H376.5V654.5H401.2V674.8H424.3V681.6H454.4V693.8H481.3V699.0H505.4V698.7H530.4V699.3H551.7V705.1H576.0V707.3H600.9V704.4H622.0V704.5H651.4V697.8H670.4V692.3H696.7V688.5H723.3V679.5H743.0V673.4H768.7V655.7H789.2V651.6H814.7V650.8H840.2V640.5H864.0V645.4H887.9V643.8H915.4V646.7H937.0V652.5H960.0V659.0H988.4V669.6H1008.8V674.4H1031.9V684.1H1056.1V693.0H1081.8V700.0H1103.9V704.2H1125.5V709.1H1154.6V711.8H1185.8V714.8H1211.1V715.8H1247.0V716.0H1284.6V716.0H1323.8V714.8H1363.7V713.4H1406.5V712.9H1445.2V712.8H1468.1"/><path d="M60.0 637.8H129.9V636.7H147.6V637.2H166.7V637.5H225.9V575.7H296.5V585.0H322.5V609.6H348.6V614.6H371.0V626.3H395.0V657.5H418.2V660.3H448.5V683.8H472.9V680.4H500.1V693.4H526.0V693.2H548.5V698.2H571.1V699.1H591.8V699.4H619.6V699.2H642.4V689.5H667.2V688.1H692.2V679.6H714.0V670.8H739.4V660.2H762.9V646.3H786.6V635.6H813.8V635.4H834.5V632.3H856.5V629.3H885.5V621.0H906.7V626.9H932.4V638.4H956.3V645.4H978.3V656.6H1001.9V668.4H1030.0V678.7H1051.6V687.0H1072.2V694.4H1097.9V700.9H1127.2V706.3H1149.4V709.3H1176.1V712.1H1210.0V713.4H1243.8V713.9H1279.7V715.6H1321.3V713.7H1360.0V712.9H1397.9V712.6H1438.5V712.4H1468.1"/><path d="M60.0 621.5H127.1V621.9H149.4V618.0H166.3V623.8H230.6V609.8H298.1V631.2H323.9V630.2H346.1V643.6H370.2V662.6H393.1V686.3H417.5V686.1H446.8V696.2H473.6V699.1H497.6V705.8H522.7V701.9H547.7V710.6H570.1V708.4H594.9V708.2H620.4V707.7H641.9V702.8H667.4V695.4H690.0V693.9H713.3V687.0H737.9V677.1H761.8V664.6H788.2V657.3H808.9V655.6H835.8V654.8H858.7V653.8H881.1V649.5H905.6V652.1H930.9V649.2H951.8V661.5H976.6V668.0H1004.1V675.2H1026.5V684.2H1051.3V692.3H1073.6V699.5H1097.8V703.4H1122.1V709.6H1150.6V713.3H1177.5V715.0H1206.7V717.0H1243.7V717.4H1278.0V717.0H1319.2V715.3H1358.9V713.8H1397.0V713.1H1438.6V713.1H1466.4"/><path d="M60.0 642.5H134.3V628.8H154.9V633.7H170.1V635.1H215.2V598.6H294.9V610.2H326.4V617.9H352.1V641.5H378.7V647.4H402.0V671.9H426.8V674.2H453.8V692.4H483.1V689.8H505.0V699.3H532.2V698.4H552.5V707.6H577.2V706.5H601.6V707.7H622.8V701.2H648.9V697.0H672.6V690.7H697.4V684.4H724.3V678.7H743.0V669.4H770.8V660.7H794.3V653.3H815.4V643.9H842.7V633.5H867.4V636.9H891.9V644.5H916.0V645.8H937.8V644.5H959.4V657.0H983.2V664.4H1009.9V674.7H1030.6V684.9H1058.9V691.9H1081.1V700.0H1106.3V704.5H1130.0V708.8H1156.0V713.1H1186.0V714.0H1215.4V716.2H1251.5V716.4H1286.9V715.9H1327.4V714.6H1365.6V713.1H1406.0V712.9H1445.5V712.8H1467.3"/><path d="M60.0 608.1H134.8V613.3H153.1V601.9H170.0V608.8H223.2V590.3H298.5V586.2H327.1V608.5H351.0V625.7H372.3V633.9H401.1V668.3H421.9V664.8H449.2V682.6H479.8V682.5H504.7V697.4H526.4V695.4H549.9V699.0H575.6V702.0H597.1V701.5H625.9V702.1H646.1V692.9H671.5V688.7H693.6V679.3H720.6V675.8H744.5V663.3H768.7V652.8H791.7V648.6H814.3V634.1H840.3V632.3H863.3V621.9H887.1V629.3H910.2V635.0H938.5V638.8H961.9V652.2H983.1V660.9H1008.0V670.0H1033.3V679.6H1054.3V688.1H1081.0V698.1H1103.1V701.6H1128.4V707.7H1155.3V710.6H1186.9V714.2H1214.3V713.8H1252.0V715.3H1283.4V715.0H1322.2V714.4H1363.2V712.9H1402.1V712.7H1444.2V712.3H1466.3"/><path d="M60.0 635.8H127.2V640.1H148.7V633.4H164.1V630.0H231.7V593.8H295.5V588.4H325.8V615.5H345.7V618.6H366.3V629.8H392.6V658.5H418.0V662.4H445.9V687.4H473.9V684.7H495.8V694.7H521.8V696.0H543.8V700.8H568.1V700.2H592.1V702.4H618.6V699.4H641.2V695.3H665.8V688.5H688.1V680.3H712.8V676.4H733.4V670.1H760.7V655.5H786.1V642.6H810.3V636.8H833.2V632.5H857.2V630.8H885.7V630.0H906.7V630.3H931.2V640.7H951.3V649.3H978.1V662.6H1003.1V668.8H1027.2V679.0H1048.8V687.3H1074.5V695.5H1097.7V701.6H1121.0V705.8H1149.2V710.2H1178.5V712.3H1208.5V714.8H1241.9V714.0H1276.7V714.9H1318.8V713.9H1357.4V713.3H1395.0V712.7H1436.3V712.3H1461.6"/><path d="M60.0 605.9H141.9V615.0H162.9V617.3H182.5V621.0H204.9V588.1H300.6V586.9H333.2V612.9H360.5V620.5H385.9V644.8H405.9V653.2H429.9V662.8H460.5V677.1H489.8V682.2H513.2V691.1H538.7V692.7H561.7V698.3H585.6V698.8H608.5V699.4H633.7V690.9H656.8V687.8H679.5V683.0H704.3V672.6H731.3V668.3H753.3V654.1H776.8V640.1H800.9V633.2H825.2V630.1H849.8V620.0H872.3V619.3H897.0V628.1H920.5V635.0H944.1V638.2H969.3V648.9H990.7V659.7H1014.0V671.8H1040.9V682.3H1064.0V692.0H1090.5V697.0H1109.4V703.4H1137.9V707.0H1162.8V711.1H1192.4V712.2H1223.3V713.7H1259.5V714.0H1291.0V714.0H1333.4V713.1H1373.0V712.8H1413.5V712.4H1453.5V712.1H1476.2"/><path d="M60.0 666.0H119.5V663.8H138.6V668.3H152.7V667.4H245.2V595.2H294.6V601.9H316.9V607.8H333.5V627.2H361.0V633.2H379.1V657.7H408.5V674.5H435.5V680.6H465.5V692.1H483.6V691.4H510.5V696.7H535.0V699.2H562.2V703.9H583.3V705.4H608.2V705.6H631.8V702.1H654.5V695.1H679.0V687.2H703.0V682.0H726.8V676.9H749.4V667.7H775.7V658.8H800.3V642.4H823.3V637.7H847.1V639.4H872.6V634.3H897.3V640.4H920.0V650.6H943.7V649.9H967.9V657.1H988.7V667.2H1014.7V675.7H1041.5V686.3H1066.1V694.4H1089.0V700.5H1110.3V705.2H1137.4V710.4H1166.8V713.1H1196.6V714.4H1232.4V716.6H1267.7V715.7H1307.5V714.1H1347.4V713.5H1389.1V712.9H1424.9V712.8H1457.8"/><path d="M60.0 645.7H121.0V638.8H141.4V648.5H160.6V642.2H237.4V571.2H292.2V592.0H323.1V605.6H341.2V616.6H365.2V622.8H386.8V647.8H412.7V660.5H438.8V679.0H468.8V680.6H492.4V690.2H514.8V691.3H538.9V696.3H564.2V699.2H588.0V699.9H610.9V700.2H634.6V696.6H658.6V690.9H685.0V682.8H708.9V675.6H735.2V670.3H753.5V657.4H780.1V645.9H802.5V636.7H828.4V628.3H852.8V627.4H875.8V624.2H900.2V633.3H924.7V638.0H951.1V643.1H973.1V654.5H997.0V663.5H1020.2V676.4H1044.5V684.7H1067.7V692.8H1092.0V699.5H1118.8V704.1H1141.9V709.1H1170.4V712.1H1203.9V713.6H1239.4V714.1H1271.9V714.8H1310.4V714.3H1353.1V713.1H1392.5V712.6H1431.2V712.4H1458.5"/><path d="M60.0 645.6H121.9V640.3H143.4V640.9H159.0V640.9H244.0V563.2H295.3V547.6H321.0V592.9H340.0V591.2H364.3V612.1H385.7V641.0H413.4V648.9H443.4V669.0H468.9V668.6H493.2V686.6H518.1V685.0H536.6V691.6H566.3V693.5H586.0V693.0H610.5V690.8H634.1V689.8H656.8V681.6H685.5V671.8H709.1V666.6H733.7V656.9H754.7V639.3H779.8V626.7H802.3V619.5H828.3V604.2H851.7V606.3H875.8V604.5H902.3V609.3H920.8V616.8H949.6V629.7H972.5V645.6H995.9V656.1H1018.4V671.1H1046.1V678.7H1066.7V689.0H1089.1V695.7H1116.4V703.0H1141.4V706.7H1171.4V710.7H1203.0V711.2H1238.8V712.4H1271.2V712.5H1311.6V712.5H1350.9V712.5H1392.2V712.1H1433.7V711.9H1462.2"/><path d="M60.0 615.2H127.2V619.5H151.2V610.9H168.3V619.4H227.2V557.5H295.4V557.9H323.9V586.5H345.2V588.1H371.4V602.3H393.3V636.9H418.3V643.6H448.3V668.7H473.6V664.7H498.4V684.6H521.3V682.7H546.4V690.1H573.6V692.1H594.9V693.6H620.9V689.0H645.2V682.6H671.7V679.7H692.8V666.0H716.2V660.9H741.0V648.3H764.3V632.1H785.9V620.6H811.8V612.6H836.4V598.4H859.6V599.5H885.1V606.0H906.9V610.0H932.2V621.9H956.0V631.4H979.0V648.1H1003.0V658.1H1026.1V669.6H1050.6V683.1H1077.8V690.3H1097.7V697.5H1125.1V703.1H1151.4V707.7H1178.7V709.5H1208.6V712.1H1245.2V711.7H1279.8V712.2H1318.0V712.3H1357.6V712.4H1400.4V712.1H1439.1V711.7H1467.3"/><path d="M60.0 603.2H141.4V606.5H158.3V611.4H178.6V608.8H216.2V608.9H300.6V624.1H333.1V637.9H358.2V658.5H383.3V654.9H403.1V681.0H431.8V679.7H458.4V690.6H485.5V692.1H508.7V701.0H534.5V701.7H558.0V707.1H581.9V709.0H608.8V707.6H630.9V702.9H656.0V696.5H680.2V690.2H703.6V685.4H728.3V680.1H748.7V670.7H772.8V658.5H799.5V649.9H822.3V645.1H848.0V645.7H867.9V642.5H894.9V647.1H920.4V649.3H944.3V653.6H964.4V662.2H989.7V669.3H1015.0V677.9H1038.9V687.1H1061.8V694.6H1087.4V701.8H1109.8V705.6H1132.4V710.7H1161.4V713.3H1188.6V715.3H1220.7V717.2H1256.8V717.0H1289.8V716.7H1332.8V715.0H1371.2V713.3H1409.9V712.9H1451.5V712.7H1469.9"/><path d="M60.0 619.9H132.7V634.0H156.8V629.0H170.1V631.9H222.6V555.2H298.2V550.5H323.7V590.2H353.0V590.4H374.5V599.7H401.1V635.2H423.4V645.7H450.4V668.9H480.0V671.7H502.8V684.7H528.6V684.4H552.8V691.0H575.8V691.6H597.4V691.6H623.1V688.3H650.7V684.8H670.1V679.2H694.2V669.6H715.1V663.5H744.6V648.4H767.2V632.2H789.5V622.9H816.1V612.0H840.3V597.8H862.7V601.4H888.5V610.5H909.6V616.8H935.4V619.3H958.6V639.3H983.6V647.7H1005.3V661.1H1031.8V672.4H1055.2V685.0H1080.1V691.2H1102.2V698.6H1127.3V703.2H1151.6V707.9H1183.7V710.3H1212.0V711.0H1245.7V712.0H1281.6V713.1H1323.1V712.3H1364.9V712.3H1404.7V711.9H1443.5V711.7H1466.0"/><path d="M60.0 607.5H135.7V600.2H154.2V604.3H173.0V602.7H218.5V579.6H297.3V588.3H332.4V605.7H353.7V628.3H375.7V630.9H400.0V659.1H428.6V665.9H454.0V681.8H481.1V685.2H507.6V693.3H529.5V693.1H555.1V700.4H577.7V700.6H601.0V699.8H626.8V697.2H650.7V691.6H675.2V686.2H695.9V677.9H722.1V670.8H747.3V659.0H770.6V648.0H793.9V639.3H816.3V633.5H842.3V623.3H865.4V627.4H887.5V621.4H911.7V631.7H939.3V638.3H963.2V650.8H987.1V660.1H1007.8V669.7H1035.3V681.4H1056.9V690.6H1084.2V696.3H1106.0V702.3H1131.0V706.8H1155.2V710.6H1188.4V713.2H1218.2V714.1H1251.5V714.1H1285.5V714.6H1322.6V713.4H1369.3V713.0H1407.0V712.4H1443.5V712.3H1468.5"/><path d="M60.0 654.3H123.2V652.9H144.3V658.7H158.2V653.1H244.5V587.9H296.1V618.7H323.0V617.1H341.4V633.4H365.9V642.1H390.7V658.8H414.4V675.3H442.1V685.7H470.7V688.1H494.0V697.4H517.1V698.8H539.8V700.1H565.9V705.8H590.8V705.8H616.8V703.8H637.5V703.5H660.6V691.4H686.3V687.6H708.4V683.0H733.7V673.0H756.7V663.5H782.0V651.9H802.9V651.4H827.8V636.7H855.2V641.4H877.3V646.2H897.0V642.6H925.3V648.3H950.5V652.2H973.3V664.7H995.5V669.9H1022.8V681.1H1046.0V687.8H1068.4V697.3H1094.1V701.9H1117.6V707.0H1141.8V711.8H1175.0V714.6H1201.9V715.9H1240.3V716.6H1274.8V716.4H1311.7V714.3H1355.7V713.7H1394.4V712.9H1435.9V712.9H1459.6"/><path d="M60.0 661.5H126.9V649.0H148.1V649.9H166.7V660.5H229.4V582.4H297.2V593.6H323.2V612.5H343.9V617.8H367.8V629.8H390.9V654.1H418.4V663.8H442.5V677.8H474.7V686.4H496.5V693.4H522.7V694.5H543.4V702.0H566.7V700.2H591.3V701.9H618.6V700.3H641.0V694.5H666.4V688.8H689.9V679.8H712.6V676.8H735.5V667.9H762.9V651.1H785.0V643.3H809.4V634.2H833.1V623.0H860.7V635.4H880.9V631.2H904.5V634.0H931.0V642.4H953.9V646.6H978.0V656.6H1002.1V670.6H1028.4V678.8H1047.0V686.2H1074.7V695.3H1095.7V700.9H1122.1V706.0H1146.1V710.8H1177.0V712.8H1204.6V713.5H1241.1V714.7H1274.6V715.0H1319.9V714.2H1353.9V713.3H1393.6V712.7H1437.0V712.4H1467.7"/><path d="M60.0 636.5H129.6V639.2H153.5V643.8H170.4V642.8H226.3V572.8H300.2V571.0H325.7V595.3H348.1V607.9H376.4V617.8H397.5V657.3H423.1V655.4H451.2V678.9H480.2V677.1H501.6V689.1H527.8V689.4H551.0V695.5H573.4V696.1H597.6V696.7H621.7V693.9H646.7V689.6H667.7V682.2H692.9V673.3H716.9V667.7H742.2V659.5H764.8V641.3H792.0V632.5H812.7V619.2H837.1V619.7H863.6V614.3H885.2V621.2H910.2V624.5H932.9V636.7H958.5V647.2H984.4V652.6H1004.9V665.2H1029.7V675.1H1054.7V686.6H1077.6V693.9H1102.4V699.6H1122.9V704.4H1154.3V709.4H1180.6V711.9H1212.3V712.4H1246.3V713.5H1281.4V713.5H1325.3V713.0H1361.8V712.6H1402.6V712.2H1439.5V712.1H1464.3"/><path d="M60.0 664.6H122.1V663.1H142.0V662.4H160.6V657.9H233.1V575.5H294.6V576.8H316.7V603.8H338.2V612.2H363.7V625.4H387.6V650.4H415.8V655.8H445.2V678.3H467.8V676.8H494.8V689.9H517.3V690.8H541.5V696.7H567.2V697.6H588.4V700.3H611.3V699.4H634.6V693.5H661.7V687.2H684.3V679.1H709.5V671.2H734.5V669.0H757.5V653.8H779.8V639.8H806.2V630.3H828.6V625.6H853.1V614.6H880.4V623.1H902.9V631.9H923.6V632.1H949.3V640.5H973.5V652.0H998.5V665.2H1019.5V672.4H1045.5V684.0H1071.5V694.0H1095.1V699.2H1117.4V704.7H1144.2V708.9H1172.8V711.8H1202.1V713.5H1239.6V714.5H1273.1V714.5H1311.7V713.4H1354.3V712.9H1395.6V712.6H1434.6V712.2H1458.1"/><path d="M60.0 668.3H118.4V667.6H135.2V668.3H155.3V667.0H233.5V557.7H290.4V563.4H319.9V588.3H337.9V602.9H362.2V612.5H384.2V642.2H408.7V647.4H438.4V668.7H466.7V670.6H488.6V677.4H511.4V685.8H535.9V686.2H560.0V689.8H584.5V694.0H606.6V692.4H629.2V690.2H656.9V682.1H681.3V679.2H702.6V667.8H730.7V662.6H752.7V643.2H773.9V631.1H801.5V622.6H822.6V616.8H850.1V608.4H872.4V607.1H896.7V614.9H918.8V621.5H946.3V627.2H966.1V637.4H990.0V655.9H1016.0V668.5H1041.7V679.1H1066.6V689.0H1088.5V694.7H1109.6V701.3H1137.3V706.7H1169.6V710.8H1199.2V711.4H1233.9V712.1H1265.2V712.5H1307.5V712.8H1350.0V712.7H1389.7V712.1H1430.6V712.0H1460.3"/><path d="M60.0 629.2H131.0V631.1H147.0V632.2H165.4V633.9H226.6V592.2H297.0V608.5H325.5V618.3H343.4V632.0H373.8V647.6H393.3V668.7H419.0V672.2H448.1V688.0H471.5V688.8H499.0V694.9H521.8V695.9H546.2V704.0H570.2V700.5H593.6V703.0H618.7V700.9H642.4V695.5H668.0V691.0H688.6V687.2H716.0V673.8H738.9V665.7H762.0V657.1H787.1V647.0H811.7V635.2H829.8V633.8H861.2V629.6H884.6V633.9H906.7V636.8H931.3V648.0H956.1V647.6H978.2V658.1H1001.2V670.9H1027.5V679.6H1048.1V689.2H1079.2V696.9H1099.9V701.2H1123.1V706.9H1149.9V710.7H1178.8V713.8H1208.7V714.5H1242.0V715.3H1277.2V715.6H1318.6V714.2H1360.1V713.2H1399.7V712.6H1437.5V712.6H1461.7"/></g>
<g fill="none" stroke="#7670B2" stroke-width="2.20" stroke-linejoin="miter" stroke-linecap="butt"><path d="M60.0 450.7H212.2V370.0H288.2V367.2H385.7V437.5H430.8V475.7H447.3V485.7H462.8V528.0H482.0V540.4H494.3V538.4H510.0V566.8H527.5V574.6H548.5V583.8H568.8V601.2H590.9V605.3H616.8V617.7H641.2V620.9H665.4V629.8H691.0V633.6H714.4V640.2H738.5V647.2H766.7V648.0H791.2V646.6H814.8V650.8H841.5V648.8H866.4V648.8H890.6V650.3H917.7V648.3H939.5V654.0H966.0V662.1H991.2V669.4H1015.2V676.5H1037.6V685.3H1065.8V694.4H1094.0V700.6H1114.1V705.3H1142.4V709.2H1166.8V712.4H1196.1V713.8H1224.8V714.5H1253.8V713.5H1290.5V713.2H1326.1V713.3H1359.2V711.4H1396.6V709.9H1433.1V709.6H1480.6"/><path d="M60.0 382.0H201.6V333.1H286.7V318.8H394.0V409.8H435.0V457.9H453.1V499.9H470.8V509.7H481.5V517.9H501.7V509.7H517.0V561.4H532.4V567.3H551.9V576.9H575.4V592.4H595.2V597.5H623.6V610.2H648.1V616.1H675.3V626.0H697.1V628.1H721.8V634.8H745.4V636.4H770.4V642.2H798.9V641.5H823.6V637.9H848.2V644.6H873.7V641.0H896.5V637.5H923.3V645.1H951.6V652.2H972.2V661.6H1000.1V673.4H1021.9V678.6H1046.2V685.2H1072.0V694.3H1097.8V700.7H1123.4V705.2H1149.2V708.8H1170.4V712.3H1200.1V713.2H1234.1V713.0H1261.7V712.5H1296.8V712.0H1331.7V711.2H1366.8V710.8H1399.3V708.4H1434.4V708.8H1486.2"/><path d="M60.0 468.9H216.8V382.0H288.8V389.0H383.7V467.4H426.1V496.2H445.9V514.9H460.9V560.1H474.0V556.7H489.9V572.8H508.7V586.3H524.3V592.8H541.5V602.2H564.0V616.3H585.7V618.4H609.7V625.8H636.4V631.0H660.7V636.9H688.2V641.3H712.5V648.9H736.8V653.2H763.0V654.0H787.8V658.5H811.8V658.1H835.2V655.2H862.6V655.8H886.7V656.0H911.1V656.8H938.5V661.9H964.8V664.6H984.6V669.2H1013.7V678.2H1035.1V687.6H1059.7V694.2H1084.0V702.2H1109.1V707.6H1139.6V710.8H1163.4V713.8H1191.0V714.9H1223.8V716.2H1254.7V715.4H1286.9V714.6H1324.4V713.7H1356.3V712.9H1389.7V712.7H1427.1V711.5H1483.0"/><path d="M60.0 393.6H210.7V321.2H287.2V306.5H397.6V393.3H441.1V415.4H456.6V489.5H473.2V491.4H490.1V500.2H506.0V554.6H523.4V559.4H540.5V558.4H554.3V575.3H575.7V583.4H601.3V592.5H625.0V605.0H653.3V609.7H675.9V623.0H701.0V627.6H728.8V633.7H752.5V637.8H779.6V635.8H800.3V637.6H825.5V633.6H851.5V636.9H873.0V634.6H899.6V638.1H927.1V643.5H952.5V652.1H973.5V660.7H998.8V672.6H1027.6V681.6H1053.9V684.7H1074.4V694.1H1102.4V699.5H1126.2V704.4H1153.0V708.1H1175.6V709.7H1204.3V712.2H1239.0V712.3H1268.2V712.1H1300.1V710.7H1336.3V709.9H1370.0V708.7H1404.0V708.0H1441.8V707.6H1490.1"/><path d="M60.0 439.0H218.9V352.6H290.0V357.2H389.8V431.8H431.6V462.7H450.0V470.8H466.5V526.8H483.4V516.0H499.3V541.1H512.4V572.1H529.3V572.1H550.1V584.3H571.2V600.3H591.2V605.0H616.6V612.0H643.6V624.3H667.5V628.5H693.9V634.9H719.8V640.5H743.1V642.6H770.5V647.2H795.5V647.3H817.9V645.8H843.7V643.5H870.2V645.2H892.1V641.9H918.4V649.6H940.5V652.3H964.7V662.6H994.9V669.4H1017.3V675.8H1042.8V684.4H1067.6V693.8H1094.3V700.9H1115.9V705.0H1145.4V709.5H1169.9V712.3H1200.5V713.3H1229.4V713.9H1261.9V713.3H1295.4V713.0H1328.4V711.9H1364.1V710.8H1397.0V710.0H1435.1V709.4H1485.1"/><path d="M60.0 359.1H210.9V318.9H288.3V297.9H392.9V385.9H437.6V397.8H455.7V483.2H472.5V483.0H484.0V485.1H502.2V510.2H519.4V552.3H536.1V551.8H553.7V571.2H577.1V577.5H598.4V586.9H620.8V603.5H651.7V608.9H674.3V619.8H697.3V627.4H722.1V627.9H746.3V632.1H773.9V635.8H797.7V631.7H824.8V634.1H845.9V633.6H871.4V630.0H899.8V631.6H922.2V639.7H948.0V651.8H977.2V658.8H999.8V672.0H1023.5V679.8H1051.4V684.1H1072.3V693.4H1097.6V698.0H1123.2V704.0H1150.7V707.0H1171.6V709.6H1202.3V711.1H1232.9V711.3H1263.6V711.1H1296.7V710.3H1333.0V709.3H1368.9V708.3H1402.4V707.6H1439.3V707.0H1487.9"/><path d="M60.0 367.3H210.3V320.5H292.1V318.4H394.9V389.0H437.8V422.8H455.8V489.9H475.5V484.6H488.0V496.1H504.9V548.4H522.4V558.4H534.8V557.6H552.6V577.6H577.1V588.6H600.9V597.1H625.1V604.0H652.4V609.3H675.9V626.4H701.0V627.9H726.6V633.3H749.8V635.3H775.7V635.8H800.1V636.8H827.3V638.1H849.7V638.0H876.3V639.1H901.6V633.5H922.7V643.3H950.6V653.0H974.8V660.6H1000.4V673.5H1024.2V680.1H1049.7V684.1H1075.6V693.8H1100.5V700.6H1124.1V703.3H1146.8V708.3H1173.4V711.3H1203.3V712.3H1236.6V712.5H1267.4V711.9H1299.0V711.5H1334.6V710.7H1367.5V709.3H1404.1V707.8H1437.5V708.0H1489.2"/><path d="M60.0 470.5H220.6V386.3H292.2V383.9H377.2V441.5H424.8V477.0H435.2V513.9H452.8V531.8H470.0V544.0H485.8V545.2H502.7V549.7H518.4V576.2H535.5V585.0H558.0V611.0H582.9V614.1H607.4V618.5H630.3V621.1H656.6V631.3H683.1V636.3H707.2V644.3H730.4V647.7H756.7V651.0H782.2V655.7H808.0V652.6H831.2V651.4H858.0V653.2H881.3V650.7H907.4V650.2H928.0V657.1H960.3V662.6H982.9V668.5H1008.7V677.7H1030.8V685.6H1056.0V693.4H1079.2V698.5H1108.3V706.6H1132.3V709.9H1155.4V712.4H1185.4V714.3H1215.6V715.9H1246.1V715.5H1279.7V713.9H1317.0V713.4H1352.1V713.0H1388.2V711.6H1421.2V711.2H1479.3"/><path d="M60.0 479.3H226.7V399.6H302.3V404.2H376.7V459.3H419.5V495.3H438.2V538.2H452.4V567.9H471.0V578.4H488.0V584.6H503.9V599.1H518.1V601.9H539.1V607.8H555.9V619.2H586.1V620.9H605.1V631.4H630.5V633.6H657.1V641.1H682.5V642.8H706.6V646.4H733.6V655.5H755.1V656.2H781.7V663.7H806.8V665.7H833.2V664.6H855.7V664.6H883.8V662.8H906.6V661.3H931.7V660.5H954.9V664.6H983.4V670.9H1006.9V679.5H1031.4V688.0H1056.0V694.7H1081.8V701.3H1103.3V707.4H1132.3V710.8H1155.5V713.4H1187.3V716.7H1213.6V717.5H1245.5V716.9H1285.2V715.2H1315.9V715.2H1353.0V713.9H1388.8V712.6H1422.9V712.2H1482.5"/><path d="M60.0 446.6H215.1V370.2H297.4V354.9H387.5V445.6H431.3V472.3H446.5V496.1H464.2V541.9H477.5V544.2H492.8V543.7H510.6V578.1H524.8V586.9H543.8V588.5H564.5V598.0H588.1V612.6H617.8V615.9H639.6V626.6H667.4V630.3H690.1V638.8H714.6V641.7H740.7V647.2H762.5V651.4H790.7V652.0H817.4V653.0H839.3V653.6H867.1V652.9H890.2V650.8H915.5V654.6H939.9V656.8H965.0V663.4H992.2V671.5H1014.5V677.5H1038.5V686.0H1065.0V694.2H1089.4V701.1H1118.1V706.9H1139.4V710.1H1164.8V712.7H1195.2V714.6H1224.7V715.4H1256.4V715.0H1289.2V713.5H1325.1V713.4H1357.7V711.9H1395.1V710.5H1431.3V710.0H1478.1"/><path d="M60.0 439.2H220.0V359.2H295.6V361.5H382.8V438.1H428.1V474.7H443.9V501.4H462.0V529.7H475.9V551.1H493.5V534.9H507.9V575.6H525.3V584.8H542.4V585.5H565.3V606.6H588.0V607.4H613.3V616.8H638.7V621.9H663.6V628.8H689.8V633.7H711.4V642.3H737.3V646.5H764.2V649.1H788.8V653.1H815.3V648.4H839.2V648.6H864.6V651.2H889.4V646.0H913.7V648.5H938.7V657.2H963.5V661.9H987.2V666.5H1011.2V676.1H1036.5V686.1H1066.4V694.5H1091.3V701.2H1114.3V705.9H1137.1V709.2H1162.7V712.2H1194.6V713.8H1221.1V714.8H1252.3V714.4H1286.8V712.5H1326.3V712.8H1359.4V711.6H1391.8V710.7H1430.6V710.0H1482.9"/><path d="M60.0 433.7H218.5V359.1H297.1V358.7H387.2V428.4H428.2V457.7H446.0V479.9H462.4V519.9H477.7V530.9H497.0V554.5H509.4V574.3H528.9V579.4H547.0V588.0H566.0V603.4H591.9V610.7H615.7V613.4H639.4V620.9H666.5V631.9H689.5V634.9H715.2V641.9H742.5V646.5H764.2V647.1H789.7V649.6H815.2V650.0H841.0V647.9H864.8V651.8H888.7V648.9H916.3V650.8H938.2V656.6H962.7V661.9H987.8V667.7H1017.8V677.0H1042.1V685.7H1066.2V693.7H1090.0V700.2H1114.6V706.1H1140.6V709.2H1163.7V711.7H1195.1V713.9H1227.2V714.8H1254.2V714.4H1291.8V713.5H1324.6V713.1H1359.6V710.9H1397.1V710.9H1429.6V709.9H1479.4"/><path d="M60.0 512.7H219.8V394.7H300.3V401.1H375.8V446.6H419.5V492.2H437.4V556.8H451.9V558.8H466.5V574.1H483.3V569.7H503.5V586.6H518.4V596.3H537.7V607.7H553.8V620.8H578.2V617.9H604.9V627.4H631.1V629.7H655.3V638.0H678.6V646.3H703.3V647.9H730.8V652.7H752.6V659.0H778.1V665.3H804.0V660.3H827.6V661.5H853.5V659.9H878.7V664.3H904.9V659.2H929.4V664.4H956.2V665.4H980.0V669.5H1003.5V679.7H1028.6V688.3H1056.6V694.7H1080.3V699.6H1107.7V707.1H1128.9V710.3H1153.3V712.8H1184.9V715.6H1215.1V716.8H1241.9V716.5H1278.3V715.9H1317.8V714.7H1349.4V713.8H1382.7V712.1H1421.2V711.9H1475.4"/><path d="M60.0 396.3H208.1V344.0H284.1V317.4H396.3V414.1H438.6V447.5H459.0V500.1H471.1V503.5H487.8V523.3H504.2V526.7H519.4V564.8H539.1V565.8H555.7V580.4H575.4V589.5H600.0V599.9H625.6V609.8H650.9V615.6H676.0V628.0H700.9V632.7H725.3V638.2H751.9V640.7H778.1V642.3H800.2V641.3H825.4V641.2H846.7V640.3H872.8V642.8H902.8V639.9H922.4V646.0H953.1V655.9H977.7V662.8H1002.6V674.3H1026.8V681.0H1052.7V685.1H1074.7V694.6H1101.9V701.7H1127.8V705.7H1151.9V709.5H1177.1V710.9H1205.6V713.3H1233.2V712.8H1265.7V712.6H1301.7V711.9H1334.5V711.5H1370.7V710.3H1405.6V708.7H1439.8V708.6H1483.9"/><path d="M60.0 480.6H224.8V373.1H292.3V383.3H380.0V437.0H423.5V454.3H438.9V486.5H455.5V529.1H470.6V538.2H488.8V554.4H503.7V561.8H520.7V580.3H539.5V591.9H559.2V608.0H582.8V611.3H606.8V613.9H633.6V620.2H654.1V627.0H682.8V637.8H708.1V642.8H731.0V644.3H757.1V649.8H782.8V650.8H808.1V654.5H833.5V651.9H855.6V650.4H882.2V651.1H908.5V652.5H933.3V657.6H957.7V659.9H982.0V667.0H1006.2V677.5H1033.6V684.8H1057.5V693.3H1084.4V699.8H1107.7V705.8H1133.6V709.4H1158.4V712.2H1187.4V714.0H1216.5V714.6H1247.0V714.6H1282.7V713.8H1318.6V712.9H1350.8V712.3H1384.7V711.0H1424.1V710.1H1480.9"/><path d="M60.0 444.3H208.4V351.8H295.3V352.7H390.3V414.4H434.7V451.1H450.4V485.5H466.1V518.6H485.1V526.9H497.9V543.2H516.1V580.6H530.7V571.5H548.9V581.9H570.6V604.4H595.3V603.4H616.2V611.8H646.2V623.4H671.4V627.4H695.1V637.7H718.7V640.4H744.6V643.8H766.9V644.7H794.8V645.9H820.4V645.6H846.3V644.0H870.6V646.3H894.1V642.2H918.1V649.5H944.4V654.8H970.6V662.8H994.9V675.1H1021.8V679.0H1045.1V685.0H1066.5V693.8H1095.1V700.5H1119.0V705.8H1143.5V709.4H1172.0V712.1H1199.3V713.9H1229.3V714.5H1260.4V713.6H1292.5V713.1H1327.6V712.6H1364.5V711.1H1398.9V710.0H1435.1V709.4H1481.8"/><path d="M60.0 446.5H213.1V367.1H302.5V361.7H389.9V444.9H428.5V465.9H447.3V498.6H464.1V531.8H483.9V541.9H498.8V559.8H512.3V576.9H529.9V585.9H549.0V592.6H571.9V604.8H594.1V613.4H619.0V616.4H644.1V628.4H668.7V629.4H693.7V639.0H718.3V641.6H741.2V645.2H770.3V652.0H791.2V652.5H817.3V648.4H844.0V649.2H869.3V649.1H893.3V652.9H918.5V654.6H942.4V657.0H969.7V663.0H993.9V672.3H1018.2V678.0H1044.2V686.2H1068.9V694.3H1091.8V701.4H1117.2V706.5H1141.3V710.7H1169.8V712.2H1198.2V714.5H1226.4V714.3H1259.1V715.1H1293.6V713.4H1330.2V713.0H1364.3V712.3H1395.6V710.5H1434.3V709.8H1479.2"/><path d="M60.0 465.6H212.8V365.5H291.1V375.5H386.7V445.7H429.1V496.0H445.4V516.0H458.2V537.4H476.6V544.9H492.1V562.9H509.6V584.5H527.1V584.2H546.1V589.9H566.8V610.4H589.1V612.2H616.9V627.6H638.9V629.9H664.7V632.1H687.7V636.4H714.5V644.9H741.2V648.4H763.3V651.7H790.9V651.7H815.8V655.4H840.4V651.2H865.7V652.9H890.5V652.6H917.1V653.6H937.7V658.3H965.7V664.8H992.6V672.8H1013.2V678.0H1040.7V685.6H1063.2V694.2H1091.5V702.4H1114.2V706.0H1140.7V709.8H1165.9V712.6H1191.7V714.8H1225.1V715.2H1254.3V714.7H1290.1V713.6H1325.5V713.5H1359.7V712.6H1396.0V710.6H1428.4V710.3H1477.2"/><path d="M60.0 459.3H225.2V370.1H301.6V387.9H380.0V449.4H421.0V453.5H439.2V516.2H458.8V543.5H472.3V548.5H486.1V562.3H501.6V583.9H524.3V585.5H539.6V595.5H560.6V601.6H584.2V617.7H612.1V624.8H633.3V626.8H657.1V635.1H686.0V636.5H709.9V645.2H734.5V648.1H756.7V654.7H785.3V653.2H808.9V652.7H832.5V650.8H859.3V652.3H879.9V651.6H908.1V653.4H933.7V655.9H958.8V663.2H986.2V668.4H1009.2V677.7H1034.7V685.6H1058.6V693.8H1085.0V701.5H1112.2V706.9H1134.8V709.1H1160.7V713.0H1187.9V715.2H1219.9V715.2H1250.5V715.5H1287.7V714.5H1319.6V713.8H1355.5V711.9H1387.5V711.9H1425.1V711.1H1482.9"/><path d="M60.0 484.1H218.4V389.9H307.2V401.4H375.6V453.7H421.5V489.9H438.0V538.4H456.1V559.4H470.0V560.8H482.8V576.7H503.2V592.4H520.2V600.8H537.7V603.0H559.5V612.6H581.2V622.0H606.9V624.6H630.3V632.9H655.3V639.4H683.1V642.4H706.4V648.6H733.0V652.4H758.8V656.8H781.7V663.1H808.4V665.8H832.3V660.3H858.2V662.4H882.6V662.4H906.1V662.4H931.1V662.3H958.8V665.1H982.0V670.6H1008.9V678.1H1036.3V688.2H1055.9V694.3H1082.0V701.8H1109.2V708.6H1133.4V710.9H1158.9V713.3H1187.0V716.3H1219.4V716.4H1249.2V716.8H1282.4V715.2H1320.4V714.9H1352.7V713.7H1386.9V712.6H1425.0V712.2H1479.0"/><path d="M60.0 480.3H216.7V388.3H293.7V386.6H380.5V452.8H423.4V489.4H439.8V534.1H458.3V557.9H474.5V549.3H491.0V565.8H505.2V599.1H525.1V593.6H538.5V602.5H561.1V615.1H586.5V614.5H610.1V627.6H633.6V633.0H660.4V632.3H684.5V642.9H708.2V648.0H734.5V650.7H759.9V657.1H784.8V658.6H810.9V657.6H836.8V654.6H860.7V660.4H884.9V658.4H910.0V657.5H933.1V658.6H959.6V664.7H984.9V669.9H1011.8V678.8H1036.6V687.2H1058.5V694.0H1085.3V702.3H1110.4V706.1H1137.2V710.5H1159.2V712.8H1191.5V715.2H1217.3V716.9H1249.8V716.4H1285.6V714.8H1322.0V714.7H1354.9V713.6H1391.5V712.4H1426.5V711.9H1475.5"/><path d="M60.0 409.1H215.2V343.7H294.3V332.2H388.1V403.7H430.4V460.2H451.2V479.4H464.0V515.6H481.4V518.8H498.3V531.3H515.0V574.9H530.9V563.5H550.7V580.2H572.3V599.5H596.7V610.5H621.6V608.5H645.0V618.6H668.7V626.2H691.5V634.7H718.9V638.6H744.5V642.7H765.4V649.0H795.1V639.3H817.0V643.2H842.4V644.1H866.0V645.0H895.8V644.4H915.6V643.2H942.7V653.2H967.3V662.4H992.2V667.6H1019.0V675.6H1043.3V684.6H1067.2V693.8H1093.7V700.2H1115.6V705.0H1144.1V709.1H1168.5V712.1H1199.1V713.5H1226.6V713.6H1259.4V713.9H1295.4V712.6H1326.7V711.9H1361.4V710.5H1398.1V709.8H1434.8V709.2H1486.6"/><path d="M60.0 465.8H215.8V377.0H287.9V390.4H380.4V459.0H427.1V490.9H446.2V510.6H460.1V544.3H475.1V550.1H493.3V571.7H504.8V582.4H524.9V589.6H543.1V600.0H564.1V608.8H592.9V614.9H613.6V620.1H636.6V628.0H661.6V635.4H686.7V639.8H710.8V645.6H737.9V653.0H765.5V654.0H787.5V658.3H811.5V658.4H837.8V655.4H863.0V654.5H886.3V651.6H912.7V655.1H938.9V657.0H959.3V662.5H988.9V670.1H1011.4V677.5H1039.4V686.9H1064.5V694.2H1088.7V702.0H1114.0V706.7H1135.7V710.4H1162.6V713.2H1194.4V715.2H1222.7V715.5H1253.5V714.7H1290.1V714.8H1323.3V713.8H1357.3V712.7H1394.3V710.8H1430.0V711.0H1481.4"/><path d="M60.0 461.0H214.8V373.9H299.8V370.5H387.2V447.8H427.3V467.3H447.4V515.3H465.1V541.7H479.4V549.1H497.3V557.0H511.4V583.9H529.2V589.4H548.0V596.1H566.2V602.6H588.4V615.9H616.6V622.1H641.2V627.3H665.9V633.2H690.7V637.2H715.8V646.0H739.8V649.6H768.0V654.0H791.0V655.3H817.1V653.9H840.5V654.6H867.6V650.9H891.4V649.6H917.8V654.5H940.1V658.6H964.1V663.0H990.4V671.5H1016.8V676.9H1041.3V687.7H1064.9V694.4H1090.5V702.7H1118.2V707.1H1139.9V710.1H1169.8V712.7H1195.7V714.8H1225.3V714.9H1255.6V715.3H1289.7V714.0H1324.1V713.4H1362.2V712.9H1396.4V711.0H1430.8V710.9H1485.5"/><path d="M60.0 459.8H226.7V380.3H295.9V378.1H376.0V438.3H416.5V471.5H435.0V527.3H452.5V521.0H466.3V557.8H481.7V557.4H500.8V564.9H516.6V591.8H533.2V594.0H555.8V611.5H579.7V616.2H605.6V621.2H630.0V632.0H652.6V635.5H678.6V636.3H701.8V648.7H727.6V651.9H753.1V653.1H776.0V660.8H801.7V659.2H830.7V658.5H853.6V652.9H876.9V657.7H903.1V655.1H929.5V659.4H954.4V662.7H978.7V669.3H1005.6V678.7H1028.4V686.4H1051.7V689.7H1080.1V699.3H1104.6V706.3H1129.2V709.1H1155.2V712.0H1183.8V714.4H1214.1V716.5H1243.2V716.1H1279.7V714.4H1315.1V714.4H1348.8V713.6H1384.0V712.0H1418.5V711.7H1474.8"/><path d="M60.0 406.6H217.0V336.8H299.2V321.9H389.1V406.5H428.1V425.8H444.1V449.2H462.9V519.3H478.0V503.1H494.9V507.5H510.3V556.6H530.0V573.2H547.3V575.6H567.5V591.3H590.1V593.0H616.7V604.4H639.2V610.5H664.5V621.3H688.6V630.6H717.3V637.2H741.0V639.8H765.8V638.5H788.2V643.2H813.0V644.4H841.9V639.1H862.4V636.4H891.1V634.9H917.6V642.3H943.0V649.4H964.2V660.9H989.4V665.5H1014.8V674.9H1042.7V683.6H1063.8V692.9H1089.9V698.3H1115.4V703.5H1142.3V707.8H1164.5V711.0H1197.7V712.3H1224.4V712.7H1255.5V712.5H1289.0V712.3H1325.3V710.8H1359.7V710.2H1392.2V709.5H1426.9V708.4H1486.9"/><path d="M60.0 388.6H218.7V331.7H289.8V326.2H390.7V405.4H428.2V427.5H447.4V448.5H464.3V500.0H482.2V492.9H494.5V521.0H512.2V561.9H527.8V562.3H545.1V567.7H566.9V587.5H595.3V590.3H617.6V608.6H641.6V613.7H668.4V623.6H692.0V629.1H719.3V632.8H743.0V640.0H768.5V637.4H791.7V641.1H817.8V640.7H842.0V641.0H871.0V638.7H889.7V639.3H917.6V641.8H944.4V652.9H968.9V659.8H994.0V664.9H1018.8V674.3H1040.7V683.5H1068.1V692.7H1089.7V698.2H1116.9V703.6H1140.8V707.1H1167.6V710.7H1195.9V712.1H1226.6V712.4H1259.0V712.6H1294.0V711.7H1325.6V710.8H1361.1V709.5H1399.9V709.1H1432.5V708.2H1484.7"/><path d="M60.0 423.1H214.8V339.4H300.1V363.4H389.2V432.9H433.4V465.9H450.7V495.6H466.4V524.4H483.6V535.5H501.0V543.9H514.6V577.1H531.4V577.9H550.3V586.3H573.0V597.5H594.1V607.7H619.1V617.9H645.6V624.0H670.4V630.8H695.1V636.7H720.1V640.1H743.3V645.3H769.0V647.3H795.1V647.9H820.1V647.6H842.3V647.6H871.4V644.8H896.3V646.6H919.9V650.0H943.5V656.8H967.5V663.4H995.5V675.5H1022.7V680.7H1046.1V686.5H1069.1V694.2H1095.4V701.8H1122.1V706.4H1145.0V710.0H1169.8V712.1H1200.0V713.7H1228.3V715.1H1259.8V714.2H1291.5V713.4H1330.6V712.3H1363.0V711.5H1402.2V710.2H1434.2V709.9H1486.5"/><path d="M60.0 437.1H217.8V360.8H288.9V369.2H379.2V423.7H422.7V457.8H443.0V486.7H457.9V529.7H473.3V539.5H490.9V544.4H506.0V558.6H520.9V583.5H540.1V590.2H563.3V605.1H585.0V605.8H609.5V616.0H633.4V621.9H661.6V627.8H686.7V637.7H711.0V639.0H735.1V645.9H762.1V649.5H787.0V647.5H809.8V649.1H835.7V652.1H861.8V648.8H885.2V650.3H910.9V650.3H937.0V655.1H958.1V661.3H984.2V666.2H1007.9V677.3H1035.8V685.1H1061.0V693.5H1086.4V700.0H1109.7V706.6H1135.1V709.3H1160.3V712.1H1192.5V713.4H1220.2V715.2H1253.3V714.8H1286.2V713.7H1321.8V712.8H1356.6V712.1H1391.8V710.9H1425.0V710.8H1484.7"/><path d="M60.0 471.6H228.8V384.7H288.8V386.8H378.9V454.7H422.1V467.4H440.3V517.1H457.9V545.4H472.9V551.7H487.1V550.7H505.0V582.7H521.6V581.8H540.3V590.8H559.8V610.7H581.6V614.4H609.0V619.2H635.3V624.9H661.6V635.6H685.9V640.3H708.6V640.8H734.6V648.2H761.1V651.6H786.5V651.3H810.1V653.8H833.0V655.2H856.7V657.1H883.5V651.6H909.6V656.6H936.3V657.0H960.3V664.6H984.5V669.3H1010.7V677.7H1037.6V686.9H1060.2V694.0H1083.0V700.9H1109.6V706.5H1134.6V710.3H1159.4V712.6H1187.9V714.2H1220.1V715.0H1249.0V714.6H1285.2V714.2H1324.1V713.9H1353.6V712.7H1389.7V711.5H1424.3V710.9H1476.2"/><path d="M60.0 416.7H206.3V333.8H295.6V325.7H392.1V415.5H434.6V442.4H450.8V467.8H469.0V504.9H486.1V515.3H497.9V509.7H518.0V561.1H530.9V568.8H549.1V571.5H570.9V593.3H597.7V600.6H622.3V605.4H643.4V618.4H673.6V625.5H695.6V629.9H723.6V636.5H743.4V638.9H770.1V640.8H799.2V640.4H821.2V638.5H845.0V639.3H873.3V639.9H895.4V639.7H921.4V642.2H945.2V652.4H973.5V661.0H997.5V672.9H1021.1V680.2H1050.3V685.1H1072.8V693.0H1094.5V698.0H1120.7V704.1H1144.6V708.7H1167.8V710.4H1200.8V712.0H1230.9V712.8H1262.4V713.3H1296.6V711.8H1329.9V711.0H1368.4V709.9H1398.8V709.2H1435.9V707.9H1480.1"/><path d="M60.0 446.3H212.3V355.5H289.9V356.2H383.4V428.6H425.6V453.8H444.3V483.9H458.7V534.2H474.7V532.6H491.8V542.9H507.4V570.8H523.8V578.3H543.1V587.3H564.6V603.2H587.9V608.1H611.9V617.7H638.0V624.5H662.2V628.3H687.4V636.0H710.9V640.9H734.9V646.6H765.1V652.0H788.7V650.9H811.3V646.1H837.2V648.9H864.2V649.6H886.9V646.8H914.9V651.3H937.7V655.7H961.3V662.8H986.0V668.7H1012.7V676.4H1039.2V685.1H1060.4V693.4H1087.9V699.9H1109.8V705.9H1139.4V709.3H1163.3V712.3H1190.2V714.2H1222.6V714.9H1251.9V713.9H1289.5V713.2H1322.1V713.2H1355.8V711.9H1392.1V710.9H1423.6V710.4H1478.3"/><path d="M60.0 502.2H223.6V394.5H287.1V404.6H373.3V450.2H417.5V506.3H433.7V545.3H450.7V561.3H464.4V567.7H481.5V580.3H497.8V590.4H516.9V603.0H535.0V602.6H557.5V619.5H578.8V625.3H603.6V632.8H628.1V631.9H650.3V641.1H678.1V645.9H705.8V651.1H728.6V655.2H756.6V661.0H782.5V664.6H806.2V665.9H827.4V660.6H853.8V663.2H876.5V662.6H901.7V663.8H926.6V663.2H953.0V664.2H977.5V669.4H1001.5V679.6H1034.5V688.0H1052.7V689.7H1079.6V700.5H1104.1V708.0H1128.7V710.0H1153.9V713.0H1184.5V716.6H1210.5V717.7H1243.7V716.5H1277.3V716.3H1310.8V715.2H1344.6V715.0H1382.9V713.0H1417.6V712.3H1476.4"/><path d="M60.0 477.8H217.5V386.5H287.7V400.0H377.7V458.0H419.4V479.3H437.9V546.6H454.6V532.0H469.2V565.8H485.0V570.1H499.5V573.1H518.8V589.0H535.7V597.5H555.1V622.0H585.0V620.1H605.1V630.2H634.8V632.6H655.6V634.7H677.8V640.5H708.8V648.1H733.1V652.7H758.9V655.6H781.9V660.2H807.3V659.8H831.1V656.0H855.7V656.8H881.6V655.1H903.3V657.1H931.5V659.3H955.2V663.1H981.5V669.3H1009.1V677.7H1031.6V686.6H1057.2V694.4H1081.8V700.9H1108.2V707.9H1129.3V709.5H1154.9V713.1H1188.6V716.0H1216.3V716.1H1245.8V715.5H1283.2V715.8H1315.2V714.2H1351.8V713.6H1387.6V713.0H1420.4V712.0H1480.5"/><path d="M60.0 375.6H214.6V328.0H293.3V319.7H395.3V405.3H435.2V426.0H451.7V444.4H468.1V494.3H486.7V504.2H502.6V520.5H517.2V555.7H534.1V559.6H552.3V570.8H573.0V590.1H599.0V598.1H620.5V601.5H647.5V614.9H673.3V618.8H696.1V628.9H723.3V631.2H744.7V638.4H774.0V640.5H795.7V638.1H823.3V640.3H850.4V638.5H874.2V634.9H897.7V633.4H922.6V642.1H946.1V653.3H972.2V660.8H997.3V672.9H1022.7V680.6H1050.4V683.3H1072.8V693.5H1099.7V700.4H1126.1V702.9H1145.8V708.7H1176.2V711.1H1203.3V711.3H1234.8V712.7H1263.3V712.3H1298.8V710.7H1332.4V710.5H1368.0V708.9H1402.1V708.3H1438.9V707.9H1489.7"/><path d="M60.0 459.5H215.9V370.2H283.4V367.9H384.1V439.5H428.0V493.5H442.6V501.4H460.4V531.6H477.2V537.8H493.6V541.2H513.4V579.1H525.3V578.4H544.9V583.9H566.5V602.7H588.8V608.5H616.1V615.4H637.9V629.5H665.0V633.2H690.1V635.9H714.8V645.5H740.9V647.2H764.6V649.5H787.6V649.3H812.2V651.6H837.1V648.7H864.7V650.0H889.4V646.8H914.2V653.1H937.6V657.3H964.5V662.7H987.1V667.0H1013.2V676.9H1037.4V685.7H1062.3V693.9H1087.2V700.5H1113.9V706.6H1140.1V709.8H1163.4V712.5H1194.1V713.9H1224.9V715.3H1253.5V714.9H1288.5V713.7H1321.8V713.1H1357.0V712.6H1395.0V711.4H1429.7V710.6H1482.9"/><path d="M60.0 384.2H214.5V326.6H293.0V337.4H392.8V405.3H433.9V417.5H453.1V484.1H470.4V504.1H484.6V512.4H499.5V503.7H516.1V566.1H533.8V569.2H551.4V573.1H574.5V592.0H594.5V594.8H618.2V608.5H645.7V616.3H671.6V620.8H696.5V629.9H721.4V633.4H745.5V638.6H770.8V640.8H797.2V641.1H823.4V640.7H846.4V637.1H870.2V636.9H895.7V635.0H921.3V643.7H947.0V653.9H974.7V660.7H998.4V672.7H1021.6V678.0H1045.1V683.9H1072.5V693.6H1095.0V700.0H1121.4V702.9H1144.5V708.0H1172.5V711.1H1198.5V711.8H1230.3V712.1H1261.3V712.2H1295.0V711.3H1332.4V710.6H1365.3V709.6H1401.1V709.3H1436.7V708.6H1489.6"/><path d="M60.0 404.5H207.1V320.1H293.2V318.1H397.4V390.4H437.8V442.4H461.1V493.9H474.9V489.6H486.0V498.8H505.6V548.0H523.1V559.7H543.4V560.9H555.8V581.2H577.4V591.3H603.4V595.4H627.1V602.4H652.3V614.3H677.2V621.4H704.6V628.1H728.3V633.9H753.6V637.6H779.3V639.7H801.1V637.0H827.5V635.5H853.5V637.5H876.5V636.5H900.7V636.0H928.5V645.0H952.5V652.9H976.7V661.0H1004.5V673.3H1026.1V680.2H1050.6V685.5H1077.4V694.8H1102.7V701.2H1130.0V704.8H1152.2V708.5H1178.8V710.8H1207.6V711.6H1237.5V712.4H1265.1V711.5H1301.3V711.3H1335.4V710.3H1373.2V708.8H1406.2V708.1H1440.4V708.4H1489.1"/><path d="M60.0 433.9H214.4V346.8H290.0V352.0H384.2V423.9H425.8V466.2H442.1V467.4H456.0V528.0H476.2V519.7H491.3V529.6H508.3V570.5H525.4V569.7H542.4V575.5H561.3V592.0H586.3V599.9H610.0V612.7H638.5V616.3H661.5V628.9H685.4V633.6H712.2V638.5H738.3V646.2H763.8V644.0H786.4V646.0H811.0V646.8H837.3V650.2H862.9V646.5H886.0V643.7H912.7V647.0H938.5V654.2H961.2V661.8H987.1V666.4H1012.1V676.4H1034.7V685.3H1062.5V692.2H1084.0V699.5H1114.4V704.9H1139.5V708.9H1163.5V711.3H1193.0V713.0H1224.7V714.0H1249.6V714.0H1287.6V713.2H1321.2V712.1H1357.6V711.2H1393.4V710.8H1426.3V709.2H1482.6"/><path d="M60.0 457.6H220.3V374.7H294.5V390.1H386.6V453.8H428.3V490.3H445.4V511.2H462.0V540.7H478.5V546.0H495.2V565.8H508.7V581.8H525.1V586.8H543.6V599.0H567.7V609.8H588.3V619.1H616.3V622.5H642.2V630.4H664.5V635.6H689.6V637.8H712.8V645.8H740.0V650.3H762.3V655.0H789.5V658.7H814.3V657.6H839.6V655.2H864.8V654.5H888.7V657.4H915.2V656.5H939.8V658.9H963.3V664.9H988.2V670.5H1018.2V678.1H1037.9V686.2H1065.0V694.5H1088.5V701.4H1114.7V707.9H1141.1V710.1H1164.8V713.2H1193.2V714.7H1224.8V714.9H1253.1V714.9H1289.7V714.2H1326.4V713.2H1359.0V712.9H1393.9V711.4H1428.1V710.9H1481.2"/><path d="M60.0 463.3H222.9V367.6H297.9V365.4H377.2V437.0H420.9V460.0H438.3V497.8H454.3V531.2H470.1V536.4H487.0V547.3H501.8V570.7H520.7V580.8H538.9V588.1H557.7V596.4H580.0V615.0H609.3V617.7H635.3V625.3H661.1V631.6H682.8V640.3H704.9V642.5H735.0V648.9H759.7V649.9H785.0V655.3H809.1V649.1H832.0V652.1H857.9V652.3H884.0V650.6H911.4V655.2H935.1V657.7H959.0V661.3H982.6V667.9H1009.0V677.1H1033.3V686.5H1056.5V693.7H1082.8V700.7H1108.6V705.1H1133.8V709.3H1158.5V711.6H1185.3V714.3H1217.5V714.7H1247.0V715.1H1283.4V714.3H1318.5V713.5H1353.4V712.5H1387.5V712.2H1424.3V710.7H1483.4"/><path d="M60.0 411.1H214.2V341.6H297.8V340.2H387.2V417.1H426.6V435.2H445.1V469.5H462.5V503.6H477.5V506.0H495.5V527.9H511.3V560.6H527.4V566.6H543.9V575.3H567.6V593.9H591.7V599.6H616.9V608.1H638.6V617.6H664.0V623.2H690.9V630.4H712.4V634.6H738.3V642.9H765.4V644.7H789.8V650.1H815.9V643.9H841.1V644.6H866.3V640.6H889.3V640.1H915.0V645.5H939.8V651.0H964.4V661.3H992.0V668.6H1013.6V674.5H1038.5V683.8H1065.0V692.5H1087.8V699.1H1112.6V704.0H1141.3V708.3H1166.0V710.4H1196.1V713.9H1222.7V713.9H1254.8V712.9H1290.2V712.2H1323.7V711.6H1358.6V710.7H1395.4V709.9H1431.0V708.4H1481.4"/><path d="M60.0 425.2H223.9V355.9H287.4V369.3H383.4V443.9H426.8V463.6H444.6V508.5H458.7V544.7H472.5V543.1H490.0V557.0H507.5V581.2H525.5V582.5H540.1V591.0H566.3V605.2H588.1V608.6H611.0V617.7H635.7V626.9H662.5V632.5H686.7V635.2H711.7V644.2H737.5V648.9H761.2V649.1H786.5V653.4H812.5V652.8H835.7V649.6H862.9V649.8H887.7V650.7H914.6V652.2H937.0V654.5H962.0V662.5H988.9V669.5H1013.2V677.1H1037.1V684.9H1063.3V693.6H1084.8V700.4H1113.7V705.9H1139.2V709.7H1161.9V712.1H1190.8V714.5H1221.2V715.0H1257.4V714.1H1286.0V713.8H1323.6V712.5H1356.2V712.0H1392.8V710.9H1426.4V710.3H1481.2"/><path d="M60.0 413.8H212.4V332.6H287.7V347.7H395.2V425.1H437.9V456.6H454.5V506.6H470.3V513.1H489.5V523.1H501.1V533.9H519.2V564.0H534.7V576.5H554.7V587.3H575.3V590.4H599.5V604.8H622.3V614.9H649.2V622.5H675.3V629.6H697.8V634.0H721.8V638.3H748.9V642.1H773.2V642.9H799.2V644.6H824.1V641.9H847.2V640.4H874.4V645.6H900.7V645.0H922.4V647.1H948.0V656.7H973.9V661.8H997.6V674.8H1021.4V680.9H1048.8V685.7H1074.7V693.6H1096.0V701.8H1123.2V705.4H1145.9V709.7H1175.1V711.7H1202.4V713.3H1233.9V713.6H1261.3V713.1H1296.1V712.5H1336.1V711.5H1368.0V710.3H1404.8V709.6H1440.3V709.1H1482.3"/><path d="M60.0 488.0H219.7V390.0H291.9V378.2H379.4V452.3H423.8V482.0H438.3V514.7H457.3V553.8H472.1V551.6H488.5V575.9H508.5V586.0H521.5V589.9H539.6V594.8H561.9V613.5H585.7V617.4H611.6V626.8H635.8V628.8H661.2V639.1H682.9V642.3H710.7V648.0H734.5V654.1H762.4V657.3H786.7V659.0H810.8V655.9H835.3V655.9H861.6V655.9H883.7V655.6H910.9V656.4H934.1V660.7H957.2V663.9H983.7V670.0H1009.5V678.0H1032.6V686.7H1059.9V694.2H1084.3V702.5H1110.2V706.3H1130.8V710.2H1161.2V713.5H1190.8V715.4H1219.3V716.1H1249.0V715.9H1284.1V714.5H1321.3V714.5H1355.9V713.5H1391.7V712.7H1425.7V711.1H1475.2"/><path d="M60.0 383.9H206.1V321.8H291.1V323.8H393.0V406.6H432.5V424.1H453.9V464.0H468.9V496.7H484.5V506.5H503.5V512.0H516.1V557.8H532.9V564.0H550.2V570.3H569.1V585.0H593.7V596.0H619.9V608.1H647.2V611.7H670.8V622.1H696.9V632.4H721.9V634.7H745.8V635.5H772.0V638.6H797.2V639.7H822.1V637.0H844.5V638.0H873.6V637.2H894.1V636.4H922.4V644.7H947.7V649.3H970.2V662.1H998.8V673.8H1021.8V677.2H1046.5V683.8H1069.8V693.3H1097.9V698.8H1120.7V703.6H1146.4V707.9H1171.9V710.9H1203.4V712.7H1230.6V712.5H1260.4V712.1H1294.9V711.3H1329.9V710.9H1363.6V709.2H1401.7V708.8H1434.2V708.4H1481.1"/><path d="M60.0 422.1H212.7V362.3H303.0V372.3H380.9V412.5H425.6V457.0H445.8V486.1H461.0V530.9H478.0V520.9H491.4V531.7H507.8V565.4H524.9V573.6H543.3V579.3H565.6V597.0H589.0V605.4H613.8V609.9H637.7V619.4H662.4V628.4H688.5V633.0H712.7V642.6H739.0V643.4H762.4V647.6H789.0V650.5H815.8V645.5H837.8V641.9H860.9V642.8H887.7V644.4H914.9V650.0H940.8V655.6H963.2V661.9H990.0V668.7H1013.9V675.9H1037.3V684.1H1064.2V693.1H1089.0V699.8H1113.2V704.9H1139.3V709.7H1166.2V711.6H1193.7V713.4H1221.6V714.4H1253.2V713.8H1289.9V713.1H1321.4V712.2H1361.0V711.5H1392.5V710.0H1425.9V709.7H1479.4"/><path d="M60.0 499.3H227.3V401.1H304.5V404.5H371.7V428.9H413.3V498.1H429.8V536.5H445.8V547.5H464.8V570.7H479.6V573.5H498.2V591.1H510.3V597.2H528.2V598.6H552.0V614.8H574.5V626.6H600.2V628.5H627.7V635.7H650.1V637.9H675.9V644.6H699.2V647.1H726.8V651.4H751.4V659.0H774.8V661.3H800.2V660.8H825.3V663.3H851.4V664.3H874.9V659.8H899.1V659.9H924.7V664.0H949.1V664.4H976.5V670.0H999.7V679.1H1026.4V687.3H1051.1V689.6H1076.4V698.0H1099.9V705.7H1120.5V709.1H1150.3V712.9H1180.7V715.7H1211.3V716.9H1239.8V716.8H1274.9V715.2H1311.5V715.4H1344.9V714.2H1381.5V713.7H1416.6V712.1H1472.4"/><path d="M60.0 409.9H202.2V338.5H286.1V323.5H395.9V405.8H436.2V437.8H457.6V504.4H471.2V515.4H485.2V517.4H505.0V523.8H518.3V562.3H537.2V568.7H553.7V576.5H575.0V591.1H599.3V598.8H621.3V614.1H649.4V616.6H671.7V626.8H699.7V630.9H726.2V636.8H748.8V639.0H775.5V640.3H798.7V642.4H827.1V641.9H851.7V637.2H873.6V636.8H898.3V641.5H921.5V648.5H950.9V652.8H972.4V662.7H1000.6V673.9H1024.6V681.5H1047.9V684.9H1075.5V694.3H1099.5V700.9H1123.3V705.9H1151.7V710.1H1174.9V711.4H1202.2V712.3H1236.7V712.9H1265.4V713.1H1299.8V711.6H1334.5V710.8H1368.3V710.6H1401.0V709.7H1439.0V708.8H1486.5"/><path d="M60.0 480.3H228.5V394.5H293.3V387.2H383.9V468.1H422.0V506.1H438.5V533.4H455.3V558.6H471.8V549.5H485.2V562.9H504.0V586.3H517.0V593.7H541.5V609.9H558.5V619.6H583.6V620.2H606.8V623.9H631.4V632.5H660.0V635.4H682.7V645.8H706.7V647.1H733.7V652.9H757.1V659.4H785.5V658.8H806.6V659.8H836.3V656.1H856.9V661.4H879.8V656.3H910.7V658.7H934.1V658.1H956.3V662.3H984.5V670.7H1008.8V678.8H1031.7V687.0H1056.5V694.3H1083.6V701.4H1110.1V707.9H1130.8V710.3H1156.2V713.0H1188.7V715.6H1220.4V715.9H1247.5V716.3H1281.0V715.4H1319.1V714.4H1353.3V713.4H1390.4V712.9H1424.6V711.9H1479.3"/><path d="M60.0 446.6H210.4V346.1H286.2V343.0H388.8V412.2H431.1V470.7H448.9V476.7H464.7V519.4H482.1V520.6H497.2V541.1H511.6V580.6H529.2V574.0H550.2V580.9H566.9V596.2H593.0V606.4H618.3V614.2H641.6V620.2H667.5V628.7H689.4V635.1H717.6V638.7H741.8V642.3H769.4V647.8H792.2V649.9H816.7V647.6H841.3V643.2H867.8V644.9H891.7V643.0H914.7V647.0H942.1V652.8H966.6V662.1H992.7V668.7H1016.0V675.4H1041.5V685.4H1068.8V693.9H1091.2V699.6H1116.2V704.5H1142.1V709.5H1168.9V711.6H1196.2V713.1H1227.7V713.8H1256.9V713.7H1293.8V713.0H1330.9V712.4H1362.7V710.6H1399.3V710.0H1433.8V709.1H1486.1"/><path d="M60.0 371.3H211.2V317.1H292.7V303.2H395.2V389.0H435.9V402.2H455.4V461.6H470.0V487.8H485.5V487.5H502.0V517.5H520.1V556.7H534.6V552.8H552.1V556.0H571.0V585.6H599.8V593.1H625.5V605.7H649.9V610.8H675.0V616.7H699.1V626.4H724.5V632.0H748.5V632.3H772.0V634.2H799.0V634.3H822.3V632.1H847.4V633.3H875.2V630.6H896.1V638.2H924.0V639.7H947.6V651.6H973.4V658.6H996.4V672.7H1022.5V680.6H1050.1V683.6H1073.4V694.3H1101.8V700.1H1122.2V703.8H1148.6V707.3H1174.4V709.8H1205.5V710.7H1235.1V712.5H1263.8V711.6H1298.4V711.1H1330.8V709.9H1367.0V709.6H1401.3V707.9H1439.5V707.2H1483.2"/><path d="M60.0 459.6H212.6V383.8H291.3V386.3H384.3V456.6H423.3V482.3H442.7V517.4H460.9V552.4H476.8V560.6H491.3V562.0H508.5V586.3H523.8V593.1H543.4V599.3H562.8V610.3H591.6V617.5H611.5V628.8H639.0V625.9H663.6V636.6H689.7V644.5H714.8V646.7H738.6V649.8H765.0V653.2H786.9V656.4H814.3V655.6H839.5V659.9H861.5V661.3H888.4V652.6H914.8V655.8H935.5V659.5H964.9V666.3H991.3V671.7H1011.3V678.5H1039.7V686.5H1060.2V694.8H1087.7V703.6H1114.7V707.4H1138.7V710.4H1161.6V713.5H1194.2V714.4H1220.8V716.2H1251.8V715.1H1287.9V714.3H1323.1V714.5H1358.2V712.9H1392.8V712.3H1426.9V711.2H1484.4"/><path d="M60.0 418.5H212.3V339.6H297.0V337.6H389.5V417.7H433.9V464.1H447.2V482.1H463.7V523.1H480.8V512.7H498.3V535.4H516.1V566.8H531.5V571.0H548.8V585.1H569.9V595.2H590.9V600.7H619.7V611.2H645.2V619.6H668.2V625.6H694.9V636.6H720.6V640.2H744.2V643.0H768.6V643.9H796.4V643.1H820.4V646.3H843.5V644.1H870.5V641.4H894.8V641.8H919.6V648.9H943.3V656.2H971.2V662.9H996.8V669.6H1019.3V678.5H1045.6V684.6H1068.6V694.1H1095.3V700.3H1119.5V704.5H1142.1V709.4H1170.7V712.4H1198.5V714.0H1229.2V713.1H1258.9V713.7H1296.9V712.7H1330.2V712.4H1362.4V711.1H1399.9V709.9H1433.8V709.1H1484.0"/><path d="M60.0 514.2H222.3V403.9H296.3V419.3H374.5V455.0H417.0V502.8H438.4V568.1H451.8V548.2H465.9V576.9H486.4V577.5H500.6V597.1H516.1V601.1H535.9V609.2H557.9V620.5H581.9V625.7H605.9V633.2H631.9V637.1H655.5V642.1H682.1V645.3H705.1V652.9H732.9V656.4H754.9V660.3H781.6V661.5H805.8V665.9H828.5V662.0H855.5V664.8H880.6V664.2H907.8V663.2H930.7V664.5H952.9V665.0H980.3V671.7H1005.0V679.6H1030.7V688.2H1056.3V694.8H1083.4V703.3H1103.6V707.5H1128.5V710.6H1153.6V713.4H1186.9V716.2H1215.8V717.3H1244.4V717.3H1281.4V716.4H1315.2V715.6H1353.4V714.6H1385.1V713.5H1420.2V712.9H1478.2"/><path d="M60.0 396.9H209.7V338.9H290.0V329.1H393.7V410.1H437.1V452.9H454.2V458.3H468.2V512.8H486.7V510.6H497.5V528.2H518.3V560.0H536.5V560.5H554.8V579.1H573.3V589.4H596.0V603.2H624.2V605.0H648.1V620.0H672.0V625.5H697.6V632.5H722.2V633.6H748.3V642.0H771.9V641.1H798.0V639.5H823.6V640.3H846.2V641.0H873.7V639.4H898.1V641.5H922.9V644.7H947.1V653.7H973.9V661.2H996.0V673.4H1022.3V679.6H1047.0V685.0H1072.0V694.1H1098.8V700.3H1122.8V705.3H1148.5V708.6H1171.9V711.1H1202.4V712.6H1232.7V713.1H1262.2V713.0H1299.1V711.5H1331.1V711.4H1367.0V709.5H1404.2V709.3H1435.5V709.1H1482.2"/><path d="M60.0 420.8H215.8V346.3H296.5V352.0H383.0V422.6H428.5V433.5H444.5V459.3H460.0V526.6H475.7V519.1H493.1V529.7H509.7V562.3H526.7V576.3H545.3V579.3H564.0V592.8H586.4V605.0H614.2V610.2H638.2V617.9H662.4V625.4H691.3V633.5H714.4V633.5H738.3V640.6H761.4V646.4H789.2V647.0H811.4V647.0H842.3V643.6H865.1V643.3H888.9V642.2H914.8V646.0H937.4V653.2H962.8V661.2H989.0V666.4H1016.8V675.2H1039.8V685.0H1063.2V693.1H1088.0V699.1H1114.4V704.7H1136.8V708.3H1163.8V711.7H1193.7V712.6H1222.7V713.8H1253.3V713.6H1290.4V712.5H1324.2V712.0H1358.6V710.8H1395.8V709.6H1426.8V709.3H1479.8"/><path d="M60.0 497.1H221.8V382.5H292.6V408.2H379.8V471.1H419.1V497.3H437.0V543.0H453.2V537.9H469.0V567.6H485.6V557.2H500.4V578.8H518.1V591.2H534.0V596.5H556.6V617.3H582.2V621.1H607.5V624.7H632.1V630.8H658.4V633.8H681.9V644.3H707.1V650.6H731.6V655.5H756.3V659.3H782.6V660.4H807.0V658.9H833.2V654.9H858.2V658.2H882.0V659.3H909.0V658.1H932.4V657.5H955.7V664.4H981.3V670.5H1006.6V678.3H1031.9V686.7H1058.0V694.1H1082.0V700.7H1107.2V707.0H1131.2V709.5H1158.0V712.5H1186.0V715.1H1215.7V716.4H1247.3V716.5H1281.6V715.6H1316.4V715.2H1349.4V713.9H1387.7V712.7H1419.6V711.6H1479.7"/><path d="M60.0 445.6H209.9V356.4H288.7V368.5H384.9V433.1H426.5V452.4H446.4V496.9H460.7V532.5H482.0V529.6H496.2V539.0H509.6V576.1H528.5V579.5H544.8V589.2H566.0V599.5H589.7V607.2H615.6V615.2H638.2V624.5H663.7V632.9H689.5V639.8H718.0V641.7H742.0V640.9H764.4V647.8H790.2V648.2H818.0V649.5H842.1V647.8H865.3V650.4H892.6V648.1H915.8V652.5H937.7V655.0H964.8V663.7H990.5V668.9H1017.4V676.8H1038.4V685.3H1065.1V693.8H1090.6V701.6H1111.3V706.4H1140.0V709.0H1163.6V712.0H1194.6V713.7H1225.1V713.8H1255.4V714.0H1291.5V712.9H1323.6V712.8H1362.2V711.9H1395.5V710.7H1429.6V710.0H1484.4"/><path d="M60.0 488.4H226.6V401.0H292.8V392.8H380.4V454.2H422.2V500.0H442.5V541.6H454.1V549.9H474.2V577.9H485.6V563.2H504.3V592.6H521.4V595.0H538.6V598.4H560.6V614.2H583.6V620.0H609.5V623.7H632.7V634.0H658.8V638.1H683.3V644.9H709.4V648.7H732.9V654.9H757.1V659.2H784.7V662.5H809.8V658.2H834.0V663.4H858.8V661.9H883.1V662.5H908.5V661.3H934.3V663.7H957.2V665.6H986.0V672.1H1006.6V678.1H1036.1V687.4H1056.3V694.7H1085.3V703.7H1105.0V707.8H1132.7V710.2H1159.7V713.6H1188.3V715.5H1219.1V716.6H1249.5V716.3H1283.3V715.6H1316.3V714.8H1352.0V714.1H1386.3V713.0H1423.9V712.0H1478.8"/><path d="M60.0 416.9H212.2V328.5H288.4V344.7H390.7V413.2H434.2V441.0H450.5V470.5H465.6V514.8H483.6V521.1H496.2V510.8H514.2V560.6H526.4V564.9H543.9V582.7H569.3V593.6H594.0V604.3H620.0V606.9H643.6V617.8H667.3V626.5H693.3V631.7H719.4V636.7H743.1V641.2H769.9V640.0H791.7V641.3H817.4V642.1H844.5V640.3H871.2V642.1H893.5V644.5H919.5V646.2H944.1V655.8H968.5V660.4H992.1V668.1H1018.5V677.5H1045.5V684.6H1068.3V693.0H1094.3V700.4H1118.7V704.2H1138.3V708.4H1168.8V711.8H1199.8V712.2H1230.4V713.4H1257.0V713.0H1294.0V712.0H1329.6V711.5H1365.3V710.1H1401.2V710.1H1432.8V709.4H1485.9"/><path d="M60.0 449.4H214.6V358.2H300.3V348.3H389.4V438.2H430.0V450.5H445.2V503.4H461.9V521.7H481.6V534.1H495.6V548.8H510.5V576.3H531.3V575.7H545.6V592.6H564.4V597.3H591.2V606.2H618.1V621.0H639.9V621.3H663.5V626.7H688.5V636.5H714.3V645.5H740.7V644.0H767.1V646.1H790.9V645.8H818.4V650.3H839.9V649.9H864.5V648.3H890.2V644.6H918.2V651.6H940.1V655.1H964.8V663.6H990.0V667.3H1013.5V676.8H1043.7V685.5H1065.4V692.7H1089.7V700.0H1114.4V705.3H1140.2V709.4H1166.5V712.2H1196.6V714.5H1224.5V714.0H1255.9V714.2H1291.7V713.3H1324.6V713.1H1362.3V711.1H1392.6V710.5H1431.1V709.8H1485.3"/><path d="M60.0 428.4H214.3V352.6H284.9V338.5H390.4V423.4H435.9V459.6H451.7V474.2H469.2V520.6H484.4V517.0H500.6V528.7H516.1V573.3H535.5V578.6H548.4V585.7H573.8V594.6H595.4V602.9H623.2V609.6H647.8V618.8H670.6V623.5H695.3V635.0H722.3V640.2H747.6V641.4H773.1V644.9H796.5V642.4H818.0V640.6H846.8V642.2H870.4V643.6H894.8V648.2H920.9V648.2H946.9V654.5H971.2V663.2H995.8V674.3H1023.0V679.2H1044.9V685.5H1073.6V694.1H1097.1V700.5H1123.2V706.3H1149.4V709.6H1174.5V711.7H1199.0V712.5H1232.9V713.6H1261.8V713.1H1294.4V712.4H1331.7V711.6H1366.9V710.5H1401.8V709.3H1439.2V708.8H1482.8"/><path d="M60.0 369.6H206.4V316.4H289.6V307.0H395.1V412.0H437.7V433.3H457.3V498.8H474.7V503.4H488.1V492.2H503.8V522.7H520.2V560.9H538.7V566.7H557.2V582.9H576.5V590.2H600.2V595.7H626.0V604.3H652.0V616.1H677.7V620.0H703.3V630.3H729.1V632.8H751.4V639.1H776.5V638.4H801.6V639.9H828.1V636.2H851.5V633.6H877.9V636.1H901.6V637.3H925.5V641.6H951.0V652.9H974.5V659.7H1000.5V672.9H1025.6V681.1H1051.5V685.0H1075.6V694.1H1100.6V699.3H1124.5V704.9H1152.7V709.0H1176.3V710.9H1202.5V711.4H1235.7V712.1H1267.0V712.0H1301.4V711.2H1335.1V709.5H1370.7V710.2H1405.9V708.9H1440.2V707.3H1491.2"/><path d="M60.0 458.9H219.1V380.3H289.7V391.6H382.6V457.7H424.1V498.3H443.1V547.2H459.3V562.3H475.5V551.2H491.1V571.0H507.8V589.7H522.5V587.0H543.1V596.8H563.9V606.9H589.3V616.7H613.8V624.3H635.5V627.1H661.5V637.4H689.1V641.5H710.0V644.3H739.3V653.3H762.2V654.1H786.2V657.1H814.0V658.4H838.9V651.4H862.8V657.1H889.0V655.8H912.9V656.1H940.7V657.9H963.2V664.1H987.4V670.5H1013.3V678.5H1039.2V686.5H1063.9V694.6H1088.4V702.4H1113.8V707.3H1141.7V710.4H1161.5V713.0H1190.1V714.5H1221.1V715.0H1254.3V715.7H1287.7V714.7H1321.7V713.6H1357.4V712.7H1395.0V712.0H1426.7V711.5H1485.7"/><path d="M60.0 433.8H208.8V352.9H283.8V344.8H394.4V414.0H433.8V460.9H453.5V466.4H466.5V517.1H483.4V523.4H499.5V548.0H519.5V567.2H535.2V571.9H554.3V586.9H571.8V598.7H597.0V601.7H623.1V614.8H647.2V618.8H672.3V627.1H696.6V633.8H722.9V639.9H746.8V642.9H770.8V642.5H796.9V643.7H822.0V650.4H847.0V645.4H871.8V641.0H895.0V646.3H920.1V649.4H949.6V655.7H970.1V661.5H996.5V669.8H1018.5V678.1H1047.4V685.4H1073.0V694.0H1097.4V701.0H1121.8V705.6H1147.8V709.2H1170.9V711.8H1200.8V713.3H1231.6V713.3H1263.3V714.1H1295.5V712.9H1331.6V711.6H1367.7V710.1H1401.8V709.8H1437.2V709.3H1481.3"/><path d="M60.0 406.7H214.0V341.7H293.1V344.2H394.8V409.7H435.9V464.1H451.6V483.6H469.0V508.8H485.5V518.4H503.2V519.1H514.7V569.3H534.8V567.0H552.8V569.6H569.5V591.6H595.5V604.8H623.2V611.4H646.4V615.4H674.6V624.7H699.3V632.9H722.0V637.6H745.2V640.3H771.7V642.3H794.5V640.8H820.6V640.8H846.4V639.5H873.6V637.1H896.1V641.8H922.6V648.0H945.6V654.3H971.7V660.6H995.7V674.0H1022.2V678.3H1044.9V684.6H1068.5V694.4H1097.8V700.8H1122.9V705.5H1146.6V708.0H1168.2V711.6H1201.5V713.2H1233.2V713.4H1262.2V712.7H1295.0V712.5H1333.7V711.1H1366.5V710.6H1402.8V708.5H1437.4V708.3H1484.5"/><path d="M60.0 436.7H214.0V352.7H302.1V349.1H381.1V424.5H423.4V439.2H442.5V478.3H461.4V519.7H474.8V531.8H489.4V526.8H508.6V569.1H527.4V577.2H540.8V581.3H563.5V601.3H588.0V607.0H613.4V610.4H637.0V618.7H665.6V628.5H689.0V637.3H712.8V641.2H736.3V642.5H763.1V645.9H789.1V646.9H813.7V649.5H836.8V647.1H861.3V645.1H884.3V644.9H909.2V649.1H936.7V653.7H961.3V660.8H986.8V667.1H1012.1V676.5H1035.9V684.7H1064.9V693.1H1085.8V700.5H1114.3V704.4H1136.9V708.0H1161.8V711.2H1188.8V713.5H1222.2V714.1H1253.3V713.7H1288.1V713.2H1324.5V712.3H1357.1V711.7H1391.0V710.5H1426.5V710.2H1478.9"/><path d="M60.0 424.8H206.1V339.6H292.5V342.0H395.3V408.7H434.7V446.7H454.1V489.3H469.1V516.2H487.0V523.2H504.5V507.7H518.1V568.0H533.8V573.5H553.5V587.9H576.3V596.5H599.6V604.9H622.6V609.5H647.5V619.4H676.2V626.3H698.0V631.7H723.7V636.2H748.7V642.7H775.7V641.2H797.1V642.5H822.8V642.8H848.8V640.7H873.3V641.5H899.1V644.4H922.4V647.7H949.7V656.5H972.8V662.1H1000.9V674.9H1023.0V681.3H1048.9V685.6H1075.4V694.9H1100.1V700.9H1124.5V705.9H1149.8V709.1H1172.6V712.0H1203.4V712.6H1233.9V712.7H1262.3V712.9H1301.7V712.0H1331.8V711.6H1370.0V710.2H1402.2V709.6H1439.1V708.3H1483.2"/><path d="M60.0 392.8H214.8V315.6H280.7V314.1H395.5V402.7H436.7V419.3H453.5V438.2H465.7V499.6H488.9V512.8H504.2V493.9H516.5V558.5H533.9V562.8H553.3V577.1H575.4V583.7H596.2V596.3H622.0V603.7H647.8V613.4H673.1V620.8H697.4V627.9H725.8V634.3H745.8V640.2H774.6V639.3H797.9V637.6H822.7V636.2H846.1V635.3H873.5V638.3H898.9V637.5H917.8V643.7H948.5V654.1H973.8V661.8H999.5V672.5H1023.7V679.2H1046.8V684.3H1072.3V693.9H1098.5V700.6H1127.1V704.2H1146.3V708.4H1171.6V711.2H1202.6V712.0H1231.5V711.3H1263.0V712.0H1299.8V711.5H1332.3V710.2H1367.4V709.0H1402.4V708.9H1438.4V707.9H1484.5"/><path d="M60.0 424.5H219.4V342.4H292.4V340.0H382.9V429.1H426.7V450.0H445.3V464.7H459.5V515.6H478.2V514.9H488.7V530.1H507.6V561.5H522.4V572.1H541.5V577.4H563.6V596.4H586.1V599.5H614.4V612.5H636.9V617.3H661.6V627.5H688.0V630.9H712.0V637.4H736.3V637.4H762.6V645.7H786.5V641.4H808.8V645.7H837.5V642.5H862.2V642.2H886.2V646.1H911.2V646.5H938.1V650.8H961.6V661.6H989.4V665.4H1011.6V676.2H1039.6V684.1H1062.1V693.3H1089.4V699.9H1112.4V704.2H1138.5V708.0H1163.3V711.0H1190.8V713.2H1222.2V713.5H1253.3V713.6H1288.7V712.4H1319.2V712.8H1356.2V710.9H1392.8V709.7H1427.7V709.5H1478.7"/><path d="M60.0 416.4H210.9V344.0H285.9V341.0H391.7V423.3H431.1V439.9H448.5V478.0H466.1V529.5H482.0V517.1H498.6V515.8H515.7V564.1H533.8V568.0H552.8V579.5H571.6V597.0H594.8V606.1H620.7V610.6H645.6V618.9H670.7V624.6H696.9V630.4H721.5V639.9H746.1V642.1H770.8V644.8H794.9V642.8H820.2V641.8H848.5V642.2H867.4V640.3H896.8V643.6H922.6V645.0H948.2V653.3H971.3V661.0H996.0V673.7H1022.1V678.1H1044.5V685.9H1070.9V693.0H1093.0V701.1H1121.3V705.4H1146.1V708.2H1168.4V711.5H1203.3V712.9H1231.4V712.9H1264.0V713.8H1294.5V712.0H1332.7V712.0H1366.9V710.6H1398.4V709.1H1435.3V708.7H1488.1"/><path d="M60.0 387.6H208.5V325.9H294.3V314.5H392.9V394.5H434.5V418.0H450.6V447.1H468.7V499.2H485.4V508.8H500.8V493.1H517.2V553.1H535.0V560.4H553.2V569.0H575.1V592.5H594.7V594.6H621.1V607.1H645.9V612.3H672.5V620.0H693.4V627.3H720.9V632.3H746.9V636.7H770.9V637.6H796.8V638.7H823.8V635.6H849.7V634.7H871.8V637.4H897.8V632.1H922.4V643.6H945.6V651.4H971.2V660.4H996.1V670.0H1019.9V678.2H1048.2V683.6H1072.5V692.9H1095.9V698.7H1119.6V703.2H1146.3V707.8H1172.1V710.6H1201.7V712.2H1231.2V711.6H1261.7V711.4H1297.6V710.9H1334.2V710.3H1369.4V709.0H1402.0V708.3H1437.0V707.8H1487.8"/><path d="M60.0 365.9H205.6V316.2H286.7V308.7H397.3V388.3H438.5V414.4H458.9V488.8H471.6V487.5H490.9V505.8H505.2V545.5H522.1V557.1H539.2V556.0H558.7V578.1H577.5V583.3H599.0V588.5H624.7V600.2H653.6V612.3H678.7V620.3H698.7V628.3H726.4V630.5H749.9V637.4H774.7V634.2H802.3V636.3H826.9V630.6H850.6V633.6H874.9V633.1H902.7V636.3H926.2V640.0H951.3V652.7H975.2V659.4H1000.3V672.5H1025.7V679.9H1050.3V684.4H1076.9V694.2H1102.3V699.5H1126.9V704.0H1151.6V707.8H1175.6V710.6H1207.7V711.7H1238.3V712.0H1265.3V711.8H1300.0V711.3H1337.0V709.7H1370.3V708.9H1407.0V708.0H1442.9V707.0H1488.3"/><path d="M60.0 374.0H206.2V310.3H293.3V307.3H394.3V390.4H435.7V417.9H455.5V491.9H471.1V485.2H485.7V496.6H501.5V523.7H519.9V555.0H536.4V557.4H553.0V570.2H573.1V584.4H597.9V592.7H624.8V602.2H651.0V611.8H674.1V617.8H698.2V627.8H721.7V630.5H747.3V634.7H775.0V640.4H797.7V633.4H822.3V633.6H848.7V632.8H875.3V632.0H897.4V636.8H923.0V643.5H948.3V652.2H972.6V659.5H995.6V672.0H1025.7V678.1H1048.4V683.6H1071.4V693.6H1098.4V699.3H1126.2V705.2H1153.8V707.5H1174.3V710.5H1204.0V711.1H1232.3V711.9H1262.0V712.1H1298.9V710.6H1335.7V709.2H1369.7V708.8H1404.3V708.2H1437.1V707.7H1487.4"/><path d="M60.0 439.3H214.9V372.8H294.2V366.7H387.2V440.5H425.4V478.2H446.8V489.5H460.8V532.7H479.0V532.4H493.8V546.5H511.8V578.8H524.6V584.3H544.5V586.8H566.5V606.0H591.8V607.1H614.5V616.3H641.5V625.3H664.6V631.2H690.3V635.5H712.0V642.4H738.2V647.9H765.4V647.9H791.0V650.6H814.1V649.0H836.7V650.4H863.0V648.8H890.7V650.7H914.7V653.0H938.4V657.3H965.3V663.9H987.6V667.8H1013.8V676.9H1040.9V685.5H1067.2V693.5H1085.4V701.2H1114.1V706.0H1139.6V709.4H1164.0V713.2H1192.2V714.3H1222.8V714.9H1254.8V714.6H1290.7V713.2H1321.9V713.2H1359.7V711.6H1394.4V711.3H1431.1V710.2H1477.5"/><path d="M60.0 468.1H212.7V372.4H288.3V375.4H384.7V450.2H426.2V478.8H441.0V524.5H460.0V547.6H475.9V554.9H492.8V560.7H509.0V575.9H525.0V589.0H541.7V600.3H563.2V615.8H586.7V613.0H612.0V620.0H636.8V625.7H661.4V638.2H688.0V640.0H711.5V648.9H736.4V654.9H766.5V655.7H789.2V657.4H815.5V656.9H838.7V655.6H862.8V654.5H889.6V651.4H912.5V657.2H938.7V660.6H962.7V665.2H987.6V670.2H1015.2V679.2H1038.1V686.4H1062.3V694.7H1086.3V702.2H1111.5V707.6H1138.4V710.6H1166.0V713.6H1192.7V715.3H1222.5V715.6H1252.4V715.0H1287.7V714.1H1322.6V714.1H1355.3V712.8H1394.3V712.3H1425.8V711.1H1477.6"/><path d="M60.0 412.5H221.8V334.0H292.8V355.3H384.1V416.9H426.1V455.8H447.2V451.9H458.7V526.6H473.9V517.4H491.7V521.0H509.5V565.1H525.8V573.1H543.1V575.4H563.5V589.7H586.8V599.3H616.3V607.7H637.3V613.0H664.9V624.5H688.8V630.6H712.3V638.3H738.8V641.4H763.7V642.4H789.5V646.0H816.3V644.2H840.8V642.0H861.9V643.4H888.1V646.6H912.8V646.0H940.2V651.6H965.2V661.1H990.0V666.3H1014.2V676.0H1036.7V683.5H1061.6V692.9H1087.8V698.9H1111.8V704.6H1136.6V707.6H1164.0V711.2H1193.8V712.0H1224.0V713.7H1254.2V713.2H1284.8V712.4H1326.4V712.4H1357.2V711.0H1392.5V710.0H1429.9V708.5H1480.8"/><path d="M60.0 483.8H213.7V388.6H295.5V387.9H384.7V468.5H422.1V491.6H445.9V532.6H458.8V566.7H474.8V561.4H492.4V580.4H505.1V587.1H522.8V597.7H543.3V604.4H565.0V618.5H587.1V624.2H613.4V628.2H636.0V629.5H663.5V641.2H686.7V645.3H711.8V648.5H735.2V656.4H760.8V656.2H786.8V661.3H810.4V660.8H836.9V662.4H860.2V659.4H886.3V656.0H912.2V659.5H937.6V660.9H962.0V665.0H986.0V670.4H1013.1V679.3H1036.6V687.1H1060.7V694.4H1087.1V702.9H1112.9V708.5H1136.9V711.1H1162.6V714.1H1191.5V715.6H1224.0V717.1H1250.0V716.3H1286.6V715.0H1319.9V715.0H1357.9V713.7H1392.0V712.2H1428.2V712.2H1485.3"/><path d="M60.0 471.3H224.4V377.8H304.1V393.1H373.3V426.3H417.6V473.2H435.3V519.4H450.7V536.3H467.0V545.1H481.9V565.2H497.2V567.9H516.1V591.1H531.5V588.5H554.1V610.3H577.9V617.2H604.0V619.0H628.2V628.9H653.2V631.9H679.6V638.6H702.1V645.0H731.5V649.5H754.4V655.2H777.1V655.8H802.9V658.2H829.3V656.0H853.5V658.6H878.5V653.1H901.0V659.6H928.7V659.9H953.5V662.1H977.7V668.1H1003.7V677.4H1028.6V686.9H1051.5V689.6H1079.5V698.8H1105.7V706.7H1130.2V709.5H1156.7V712.4H1183.4V714.9H1213.8V716.4H1244.2V716.4H1278.6V715.2H1312.7V714.7H1348.8V714.0H1384.0V712.2H1419.0V711.1H1475.8"/><path d="M60.0 383.9H212.6V346.5H284.9V320.0H396.6V411.9H437.8V449.3H453.6V505.6H470.9V506.5H486.7V514.2H501.5V515.7H516.5V563.0H533.9V569.2H553.4V575.8H573.8V591.5H600.6V599.3H622.9V607.2H648.9V614.9H670.3V624.9H701.4V631.0H724.3V634.8H749.6V639.0H772.5V638.4H798.2V642.1H823.6V641.8H847.6V643.0H873.1V637.7H902.4V640.2H923.0V646.0H949.5V652.3H973.5V660.6H998.0V673.9H1025.0V681.4H1049.8V685.3H1076.7V694.3H1099.9V700.6H1123.7V704.5H1145.4V709.4H1175.5V711.1H1203.7V712.6H1235.6V713.3H1259.8V713.2H1299.1V711.6H1330.7V711.5H1368.4V709.1H1402.3V709.8H1440.1V708.5H1483.3"/><path d="M60.0 423.7H211.6V362.1H290.0V363.6H391.7V448.1H430.0V464.4H449.0V519.6H469.3V536.3H484.4V539.7H496.3V543.3H513.1V574.1H531.0V584.8H548.6V593.6H572.5V601.5H595.1V608.7H621.2V616.2H644.1V621.6H669.4V627.8H694.4V637.6H718.5V644.7H744.9V648.6H769.2V650.1H795.1V648.7H818.7V651.7H843.1V648.9H870.2V647.6H895.7V647.0H921.4V648.7H944.6V654.7H969.1V665.4H996.2V674.6H1020.3V679.2H1046.6V685.7H1071.1V694.6H1095.0V702.0H1120.9V706.2H1143.7V710.2H1172.7V712.4H1201.6V714.7H1229.0V715.0H1259.1V713.7H1296.0V713.3H1331.1V713.0H1366.6V712.2H1398.2V710.0H1433.8V709.8H1484.7"/><path d="M60.0 409.1H211.4V338.9H281.3V340.8H397.0V412.7H436.2V438.7H454.2V467.2H469.2V515.7H487.4V514.4H503.4V528.8H519.1V572.4H535.3V563.5H553.4V572.7H573.2V590.4H596.8V600.6H625.6V610.0H647.6V616.2H670.2V625.4H701.3V631.9H723.8V638.3H747.9V643.9H772.4V645.4H797.1V640.0H822.3V637.2H850.0V637.7H874.3V640.2H900.4V643.6H925.2V646.1H949.4V655.0H973.4V661.3H996.7V673.9H1023.9V682.0H1049.3V684.7H1072.5V694.1H1098.8V700.0H1122.3V705.1H1148.9V709.2H1174.6V711.1H1203.3V712.7H1234.5V712.8H1266.8V712.8H1298.7V712.3H1334.0V711.2H1369.4V710.6H1403.1V709.5H1438.8V708.7H1481.7"/><path d="M60.0 438.7H218.5V358.6H307.0V368.7H379.8V448.4H421.3V461.1H438.7V498.1H455.5V535.6H471.6V538.3H490.0V554.8H502.9V555.7H518.5V586.6H539.5V579.8H558.8V604.8H583.0V611.1H610.1V613.1H632.6V623.6H657.6V629.9H683.2V632.4H707.8V643.6H732.0V646.7H759.1V649.6H784.1V650.3H808.2V653.1H835.9V651.9H857.1V653.8H883.3V648.4H909.6V652.2H933.5V656.2H958.8V661.3H983.7V666.6H1008.4V677.2H1034.4V686.3H1058.9V693.6H1083.0V699.4H1107.9V705.4H1132.8V709.4H1159.9V712.1H1191.7V714.3H1215.6V714.9H1247.3V715.0H1285.9V714.4H1317.6V713.2H1356.7V712.0H1389.6V711.3H1421.2V711.1H1478.0"/><path d="M60.0 420.9H216.4V350.8H292.2V346.1H383.7V423.9H426.6V455.5H443.3V483.4H458.1V521.5H477.0V533.5H492.4V538.6H509.6V567.7H526.5V574.6H545.2V581.8H564.7V600.4H587.2V604.9H614.1V613.9H637.7V616.5H662.0V626.0H685.4V632.5H711.6V637.2H736.0V640.5H763.0V647.6H791.5V645.7H813.1V647.7H838.1V646.8H860.6V645.4H886.6V646.1H913.2V646.4H939.2V652.7H962.4V661.9H988.3V667.0H1012.5V676.0H1037.5V684.2H1063.8V692.7H1087.3V698.3H1112.6V705.3H1134.5V708.2H1160.4V710.7H1192.6V713.2H1221.4V713.7H1254.4V713.6H1289.9V713.0H1321.3V711.5H1357.9V711.5H1392.7V709.5H1427.5V709.5H1480.8"/><path d="M60.0 410.2H210.2V337.1H294.5V334.3H388.6V410.1H429.6V441.7H449.3V459.2H463.2V519.7H482.6V524.4H496.7V508.1H512.9V565.1H528.8V563.1H548.7V581.0H568.5V593.1H593.2V598.4H616.0V603.2H641.4V613.6H667.0V625.9H692.1V628.7H716.8V635.2H741.8V640.0H770.6V639.1H790.1V642.8H815.2V642.5H843.0V645.8H865.9V639.8H889.9V644.4H915.9V643.9H941.7V654.1H965.8V661.3H993.2V665.6H1017.1V675.6H1043.6V684.8H1068.2V692.9H1090.9V700.4H1117.4V704.0H1141.3V708.1H1165.1V711.0H1199.2V713.1H1226.5V713.4H1257.8V713.6H1294.4V711.6H1326.8V711.5H1361.6V711.0H1397.0V709.7H1434.7V709.4H1482.5"/><path d="M60.0 386.6H207.1V324.6H287.3V320.1H394.7V406.8H436.0V432.2H452.8V500.1H471.7V508.6H484.5V504.7H504.4V508.9H517.2V562.2H535.4V569.9H551.4V571.8H573.0V590.9H597.5V597.9H623.3V607.9H647.0V615.7H673.0V623.4H694.4V628.7H722.8V636.7H747.2V636.4H771.4V639.9H795.0V640.9H821.9V637.0H851.7V633.1H870.8V640.5H899.4V640.6H924.5V644.6H948.7V652.0H971.4V660.8H998.4V673.3H1024.3V680.5H1048.6V684.2H1072.5V693.8H1097.3V699.0H1123.8V705.1H1148.7V708.7H1173.7V711.0H1202.6V712.5H1231.8V712.4H1261.7V713.0H1297.1V711.9H1332.7V710.1H1367.1V709.9H1402.3V709.0H1438.4V707.7H1488.9"/><path d="M60.0 469.8H214.7V375.0H299.4V396.8H382.1V455.4H426.2V494.2H443.4V503.1H460.2V546.9H476.2V559.9H490.6V564.8H506.1V587.2H523.3V588.6H539.4V600.2H562.2V608.9H586.3V616.9H610.3V625.2H636.6V629.8H661.4V632.5H690.3V643.8H711.6V647.0H738.7V650.1H757.6V652.3H786.4V657.9H811.1V654.7H838.2V653.0H862.3V655.5H887.7V652.6H911.5V658.1H939.3V657.5H960.2V663.7H987.8V670.8H1013.1V678.9H1037.4V686.1H1062.1V694.6H1088.5V701.3H1111.0V706.7H1137.4V710.2H1161.7V712.8H1190.1V714.8H1224.2V715.8H1251.4V715.8H1289.5V714.6H1320.0V713.9H1355.5V713.0H1391.5V712.3H1425.1V711.6H1479.6"/><path d="M60.0 505.8H231.0V407.6H301.8V414.8H369.2V439.9H413.1V502.9H429.1V525.3H445.9V558.1H462.0V560.3H479.9V575.9H494.7V594.4H512.5V601.5H530.9V597.5H551.5V617.6H574.8V620.6H598.9V626.2H623.9V633.9H650.5V640.8H675.9V646.8H700.3V650.7H724.1V653.8H748.0V658.2H774.3V664.5H799.2V665.6H826.8V663.4H847.4V662.0H875.6V660.2H899.3V657.8H924.2V664.0H947.8V665.8H976.8V671.0H999.0V678.9H1024.1V687.2H1052.2V689.3H1075.7V697.3H1099.5V707.4H1123.7V710.0H1151.7V713.5H1178.7V715.7H1210.3V717.8H1238.9V717.1H1272.3V716.2H1311.5V715.8H1345.0V714.9H1379.6V713.2H1415.6V712.2H1478.8"/><path d="M60.0 471.2H214.9V387.7H297.6V378.9H382.5V449.4H419.5V465.4H442.4V530.9H458.8V545.6H473.0V560.3H490.4V565.9H505.8V586.5H521.9V588.7H539.5V597.7H558.7V615.3H584.9V613.4H611.2V626.9H634.4V625.6H660.7V633.4H687.7V639.2H709.8V645.8H733.9V649.8H762.2V655.8H785.2V658.4H809.5V661.0H836.2V654.5H857.3V657.7H885.7V655.8H910.1V657.1H934.8V657.4H958.4V663.0H984.1V670.9H1013.0V677.9H1033.8V686.4H1064.6V694.8H1086.6V702.6H1111.3V706.8H1134.8V710.6H1162.4V713.1H1191.8V715.0H1220.7V715.3H1249.4V716.2H1288.7V714.8H1318.1V714.6H1352.7V713.1H1391.2V712.4H1424.3V711.8H1484.4"/><path d="M60.0 495.4H220.5V391.7H307.9V413.8H378.2V455.6H418.0V494.8H438.1V539.6H454.4V547.8H468.1V564.0H483.3V556.1H500.6V585.1H516.9V594.7H536.4V597.7H555.7V615.0H579.9V613.7H606.5V627.6H633.1V632.9H657.0V638.4H681.9V641.5H704.4V649.6H730.0V654.4H754.6V657.9H779.9V658.9H804.9V659.1H830.8V659.0H853.5V657.5H881.4V657.0H902.9V659.4H931.7V660.6H955.3V663.8H982.5V668.9H1006.8V679.1H1031.3V687.0H1054.4V690.8H1081.5V700.7H1106.6V707.3H1130.0V710.1H1156.6V712.3H1185.9V715.4H1215.1V717.6H1247.1V716.4H1279.0V715.7H1315.9V713.9H1350.4V714.2H1381.9V712.7H1417.8V712.2H1475.5"/><path d="M60.0 456.1H214.7V363.0H298.4V379.3H383.7V437.6H426.5V484.7H444.0V497.2H457.8V535.6H475.3V545.6H492.9V554.8H506.3V578.3H523.8V583.8H541.5V592.0H566.4V604.4H587.7V616.4H613.2V620.6H638.9V621.9H660.3V633.5H685.6V638.0H711.5V646.6H735.4V644.4H764.4V649.6H788.4V650.7H812.4V650.7H837.9V648.6H864.0V649.3H886.0V653.9H912.1V654.5H936.9V658.9H963.1V664.0H988.3V668.3H1011.2V677.3H1033.3V685.9H1063.4V693.9H1085.8V700.5H1114.7V706.2H1138.8V709.1H1164.0V712.3H1194.4V714.8H1221.9V715.5H1251.7V715.0H1287.2V713.9H1321.6V713.5H1358.5V712.8H1391.7V711.1H1426.8V710.7H1480.9"/><path d="M60.0 509.3H222.4V404.4H290.7V418.1H382.0V471.3H421.8V516.3H437.5V546.7H454.7V564.4H469.9V576.5H486.9V583.0H503.7V600.6H520.4V598.7H537.7V608.5H558.2V618.0H582.1V628.9H608.5V633.6H630.5V631.7H657.8V642.6H681.1V647.8H706.7V653.2H731.6V657.5H757.8V660.4H779.3V662.9H808.4V664.8H833.2V665.4H857.5V663.5H882.1V664.2H907.4V663.9H932.8V663.4H956.1V666.4H982.7V672.4H1008.6V679.7H1030.0V688.4H1061.7V695.7H1083.9V703.7H1106.9V708.0H1131.4V711.5H1158.0V713.9H1186.0V716.6H1218.4V717.8H1247.7V717.3H1281.4V716.3H1317.8V715.4H1351.7V714.7H1386.0V713.1H1422.8V712.6H1476.8"/><path d="M60.0 435.7H214.1V344.0H293.0V356.6H382.1V421.9H425.7V445.6H445.1V484.9H457.9V517.9H477.3V528.8H488.7V539.0H506.3V572.4H524.8V574.5H538.5V579.0H563.5V602.0H584.8V604.7H610.2V615.8H635.7V623.9H659.7V625.0H687.3V636.2H712.3V641.8H735.0V643.2H760.0V648.2H785.3V648.9H810.1V648.4H835.6V647.6H862.5V644.4H885.7V644.8H912.8V647.9H937.5V651.6H961.1V661.0H983.6V666.3H1012.4V675.3H1035.8V684.8H1062.2V692.7H1087.7V699.5H1110.9V705.7H1136.9V708.7H1160.5V711.3H1189.3V713.4H1222.7V714.0H1250.7V713.9H1286.0V713.6H1320.5V712.5H1356.3V711.3H1390.7V710.4H1429.5V709.3H1479.8"/><path d="M60.0 372.2H208.5V320.3H287.1V306.7H402.9V411.2H445.8V424.8H459.8V504.1H476.6V498.5H492.6V497.0H510.5V543.5H524.8V551.5H538.9V560.1H559.0V581.5H580.4V585.2H604.5V593.3H630.2V604.1H655.7V613.5H678.5V622.9H706.2V630.4H728.9V633.8H754.5V635.8H779.1V635.6H804.2V640.6H828.9V634.3H856.5V634.3H882.0V632.9H901.4V637.4H930.6V641.7H953.7V653.6H977.4V661.1H1003.5V672.6H1029.8V681.6H1057.9V690.3H1079.3V695.7H1103.4V700.8H1127.3V704.5H1156.6V708.3H1177.7V710.7H1209.3V712.0H1240.0V711.9H1271.6V711.7H1305.8V710.7H1340.6V709.6H1374.8V709.3H1408.4V708.5H1446.2V707.6H1492.1"/><path d="M60.0 484.1H222.7V396.4H285.2V407.9H380.5V472.8H426.3V510.0H442.6V544.6H459.1V561.2H474.2V566.0H488.1V578.0H505.2V597.3H525.9V597.6H538.1V599.3H563.0V620.3H589.1V623.3H612.2V629.0H637.5V634.3H659.0V638.0H684.2V644.9H709.8V652.3H735.3V653.6H760.0V661.0H785.8V662.8H809.9V661.4H837.0V659.5H859.8V660.4H886.9V658.4H912.4V658.7H936.9V662.5H961.1V666.2H986.0V671.7H1013.7V679.7H1038.2V688.0H1064.3V694.4H1084.3V702.7H1110.9V708.7H1137.3V710.8H1160.1V713.4H1192.8V715.7H1220.7V717.4H1249.8V716.4H1286.1V715.7H1317.9V714.5H1360.0V714.3H1393.1V712.4H1425.3V712.3H1481.3"/><path d="M60.0 408.4H211.7V331.8H281.4V310.1H395.0V397.7H437.2V425.1H453.6V499.6H471.0V499.5H487.3V515.6H502.4V546.9H521.2V559.6H537.0V565.6H553.2V578.6H575.4V587.1H597.9V599.2H622.8V606.4H652.8V615.8H674.7V622.6H699.7V629.6H727.2V634.3H746.0V637.4H773.1V640.3H800.8V641.2H824.9V639.3H847.9V636.2H874.6V637.9H898.5V637.1H923.2V639.5H946.2V653.4H974.5V660.7H1000.6V673.4H1023.7V679.4H1048.6V684.8H1075.3V694.2H1098.6V699.6H1121.6V704.4H1148.5V708.4H1172.8V710.8H1201.4V712.1H1232.8V712.3H1263.9V712.5H1298.3V711.2H1334.3V710.4H1367.5V709.9H1401.7V709.1H1438.1V707.9H1485.9"/><path d="M60.0 426.4H210.1V336.9H281.4V345.3H393.0V410.4H434.2V443.7H450.9V470.8H466.5V509.1H484.2V513.6H503.8V523.9H518.0V569.3H535.1V575.1H549.5V575.0H571.4V595.8H597.7V605.1H621.4V609.8H646.4V620.5H672.3V623.4H699.9V636.7H722.0V635.7H745.9V642.0H769.5V647.1H796.5V640.9H821.3V644.3H847.3V635.7H871.5V644.3H896.5V642.5H920.5V644.3H944.5V654.4H970.3V659.8H996.9V673.9H1023.1V681.7H1048.2V685.0H1071.2V693.9H1093.6V699.6H1120.7V704.6H1146.9V708.8H1172.1V711.9H1201.7V712.8H1229.3V712.7H1262.8V713.2H1297.7V712.6H1330.6V711.7H1367.2V709.9H1400.5V709.0H1437.9V709.2H1484.9"/><path d="M60.0 394.1H211.2V334.1H294.8V316.6H389.7V402.0H431.1V437.8H449.1V440.2H464.9V509.8H483.3V505.2H498.8V509.6H515.9V558.2H531.3V565.0H549.4V571.0H569.1V587.0H596.2V598.9H620.8V607.0H644.2V612.7H668.8V626.1H696.5V627.6H721.4V636.0H745.4V636.4H770.7V640.1H793.8V640.5H821.2V641.9H844.7V636.0H869.0V641.1H893.8V640.0H920.6V644.1H943.0V654.0H969.6V659.5H993.4V667.3H1019.6V674.4H1042.9V684.4H1070.2V692.8H1094.4V699.0H1119.0V703.7H1142.8V708.1H1170.7V710.9H1197.5V712.0H1230.2V713.3H1258.7V712.4H1292.6V712.0H1331.6V710.3H1363.9V709.7H1399.3V708.8H1434.0V708.4H1481.0"/><path d="M60.0 422.9H216.6V357.4H300.4V342.2H384.3V417.6H429.1V455.0H444.3V461.2H461.2V528.7H477.5V539.8H493.7V540.0H509.6V569.1H526.0V580.4H543.5V577.3H566.4V601.3H589.1V611.2H613.4V609.1H642.1V623.0H666.4V628.2H692.0V633.0H713.1V642.1H741.6V644.0H762.0V650.1H793.0V647.5H818.3V646.2H838.6V647.0H865.7V645.1H889.5V647.8H915.0V651.4H942.5V653.4H963.7V661.4H990.6V668.2H1014.4V676.5H1041.9V685.4H1064.7V693.6H1091.2V700.3H1114.3V705.5H1138.9V709.6H1166.4V711.7H1195.3V712.9H1225.0V713.5H1254.8V713.8H1290.3V713.3H1326.7V712.3H1360.7V712.0H1395.2V710.3H1430.9V709.9H1482.1"/><path d="M60.0 512.9H217.4V399.9H290.6V408.6H377.1V465.8H420.5V489.7H439.5V539.8H454.6V563.3H469.6V567.4H486.2V558.8H501.3V597.6H520.4V592.8H538.8V607.6H557.2V621.0H582.1V628.9H607.5V626.3H630.8V636.1H660.2V640.2H682.7V644.9H709.1V652.3H731.2V656.8H758.6V662.3H780.1V657.8H806.9V663.4H833.2V660.2H856.5V660.4H883.4V659.6H906.6V657.2H934.2V663.8H958.0V665.7H982.6V671.9H1008.6V678.4H1032.3V688.2H1060.5V695.1H1082.9V701.3H1109.0V708.7H1130.3V710.4H1156.5V713.5H1188.1V716.7H1219.9V716.7H1249.5V716.5H1281.1V716.1H1318.3V715.1H1350.5V714.5H1388.2V712.7H1421.3V712.0H1475.2"/><path d="M60.0 394.7H211.5V335.9H292.7V313.0H396.0V388.7H437.0V440.7H457.6V499.9H472.2V505.0H488.0V505.9H506.0V530.0H518.8V554.7H536.1V562.6H554.7V572.7H574.2V588.4H600.3V592.5H624.3V608.6H648.4V617.8H675.3V625.6H702.7V629.0H724.9V632.0H751.3V635.4H774.8V636.7H798.6V643.3H823.4V635.2H848.6V634.5H874.8V636.5H896.4V640.5H927.4V645.5H946.8V652.9H975.0V660.8H998.3V673.2H1020.8V679.5H1049.3V684.5H1075.4V694.6H1100.7V700.3H1123.2V705.3H1150.6V708.4H1174.2V711.1H1203.5V712.2H1235.4V712.7H1264.2V712.1H1302.2V711.2H1334.3V710.1H1369.4V709.6H1405.6V708.7H1437.5V708.1H1488.0"/><path d="M60.0 506.3H219.8V400.2H288.0V410.3H372.2V450.5H415.9V505.5H433.0V528.9H448.4V558.4H466.4V574.3H479.6V577.2H498.0V587.0H514.4V598.7H531.9V604.6H551.0V617.8H578.6V625.6H601.2V626.9H627.9V633.0H651.4V640.4H678.2V642.6H702.2V651.8H725.7V654.0H754.2V657.3H779.4V664.3H803.7V665.4H826.7V665.5H854.1V664.8H879.0V663.0H903.1V663.6H925.5V663.4H953.6V663.8H977.5V671.0H1003.8V679.2H1029.2V687.3H1053.3V689.6H1077.9V699.0H1104.5V707.4H1126.0V709.5H1154.8V713.7H1183.7V716.4H1214.0V716.5H1240.7V716.9H1278.3V715.5H1311.3V715.5H1348.2V714.5H1382.2V713.7H1419.8V712.8H1476.4"/><path d="M60.0 433.0H219.0V362.5H289.7V352.2H392.3V437.4H432.4V464.8H449.8V489.6H468.0V530.2H486.0V534.6H497.5V532.2H514.5V574.3H535.0V580.2H552.4V585.0H571.2V603.7H595.6V606.9H619.5V612.5H642.6V620.5H672.3V630.3H692.8V635.9H721.0V640.4H744.5V649.8H770.0V651.8H794.5V649.7H821.7V648.5H846.0V643.8H870.2V642.9H894.2V646.7H922.1V650.6H946.6V657.1H970.3V663.5H997.0V675.9H1021.9V680.9H1046.4V685.7H1068.5V694.8H1096.8V701.9H1118.3V706.5H1146.5V710.2H1174.7V712.5H1199.2V713.6H1231.0V714.1H1258.6V714.3H1293.1V713.1H1332.1V712.2H1363.7V711.2H1402.5V710.2H1434.1V710.0H1481.0"/><path d="M60.0 465.9H223.6V385.1H301.7V373.0H378.8V443.4H423.3V465.7H440.4V502.2H457.4V539.3H469.4V553.4H487.6V550.5H504.7V572.5H519.2V589.8H536.4V594.1H559.7V610.4H584.7V617.9H606.8V622.4H633.6V625.7H657.4V631.2H686.9V641.1H708.6V643.6H734.4V648.7H754.6V653.0H784.0V652.1H805.9V651.4H836.5V652.7H858.1V656.4H881.7V655.5H907.3V651.8H933.3V657.3H956.5V662.3H984.2V667.1H1007.9V677.0H1033.4V686.0H1059.4V693.5H1084.6V700.4H1106.2V706.3H1135.1V710.2H1156.7V711.8H1187.8V715.1H1218.4V715.6H1246.4V715.0H1282.2V714.1H1317.4V713.4H1350.6V713.1H1388.5V711.8H1425.8V711.0H1476.3"/><path d="M60.0 359.1H203.4V317.8H287.8V302.1H394.7V379.4H435.8V394.6H454.0V490.4H472.8V493.3H486.3V492.8H502.1V536.7H521.6V554.2H537.9V551.8H556.6V569.2H575.7V577.8H599.1V592.8H623.9V597.9H646.9V609.3H675.1V618.6H700.8V626.3H724.9V628.1H747.5V636.5H774.1V637.2H799.3V633.3H824.5V630.7H847.5V629.7H874.3V634.3H899.7V631.6H925.0V639.7H950.3V651.3H973.5V660.1H998.5V672.1H1023.4V679.2H1049.2V683.4H1073.4V693.5H1097.6V698.3H1123.3V703.1H1148.8V707.6H1171.6V710.5H1205.2V710.6H1231.5V711.8H1263.4V711.2H1298.6V710.3H1335.6V709.6H1369.8V708.4H1404.7V707.7H1438.6V707.1H1490.9"/><path d="M60.0 435.5H218.3V356.4H292.7V353.5H388.8V439.0H430.3V471.0H448.8V485.8H465.9V522.9H479.1V534.6H496.0V535.7H512.0V573.4H528.7V579.8H547.3V584.2H569.1V602.4H593.2V600.7H617.0V614.7H641.1V621.6H667.2V631.3H691.4V635.5H715.7V640.2H743.0V641.6H764.5V647.6H792.9V645.3H817.1V650.6H843.3V647.1H866.7V645.3H893.2V646.2H916.4V649.5H941.1V654.2H966.0V663.7H991.4V670.1H1013.8V675.2H1041.8V684.6H1066.2V693.6H1091.4V701.7H1117.3V705.2H1141.5V709.9H1165.7V711.6H1193.3V713.6H1226.9V714.6H1256.4V713.3H1295.4V712.9H1326.2V712.2H1361.3V711.3H1398.1V710.7H1431.9V710.0H1485.8"/><path d="M60.0 449.1H220.0V363.1H284.0V375.4H387.5V444.2H428.5V482.4H447.7V516.5H463.3V541.2H481.9V537.6H494.4V554.5H509.3V580.9H525.1V581.9H546.4V596.0H568.8V607.9H591.1V613.1H618.9V618.5H638.9V627.7H662.9V630.0H691.4V638.7H715.2V645.2H741.1V647.9H765.4V647.3H791.3V653.6H815.6V650.7H844.7V650.1H864.8V652.4H893.4V651.6H917.5V653.2H941.8V658.4H967.1V664.5H992.3V671.6H1017.9V676.9H1040.5V687.0H1067.0V694.7H1093.5V701.0H1113.9V706.8H1142.3V710.0H1163.9V712.7H1197.6V714.2H1227.5V714.6H1254.7V714.5H1293.0V713.5H1327.0V712.7H1360.0V711.9H1399.7V711.1H1431.6V710.8H1487.2"/><path d="M60.0 417.6H210.7V352.3H292.4V347.0H395.5V429.3H432.8V472.6H451.4V472.2H466.8V513.5H484.5V519.5H500.2V536.3H514.1V573.0H532.3V574.2H552.4V589.2H573.6V598.2H595.3V607.2H621.7V613.0H644.6V623.3H671.2V626.6H694.8V635.2H722.4V641.4H744.9V641.7H771.4V646.1H793.8V646.9H821.1V646.6H846.2V643.1H873.2V646.5H893.8V642.6H919.1V646.6H945.8V653.9H969.2V662.5H995.6V670.1H1018.1V677.0H1045.4V685.6H1070.8V694.3H1094.1V700.0H1118.3V706.0H1147.5V709.5H1170.5V712.0H1203.1V712.7H1231.9V713.9H1258.6V714.1H1294.6V712.9H1333.1V712.1H1366.7V711.6H1398.4V709.6H1434.6V708.4H1486.6"/><path d="M60.0 364.6H202.7V325.3H284.3V296.9H398.2V390.2H441.9V422.2H460.5V496.4H475.3V486.5H489.1V502.8H510.5V541.9H523.6V551.3H542.1V558.4H560.0V573.4H578.5V581.2H602.4V597.2H632.3V599.9H652.7V609.6H677.7V622.5H704.5V626.7H727.4V630.0H754.9V633.9H776.9V632.4H800.3V633.0H825.8V631.9H854.3V629.6H877.0V634.7H903.0V633.9H926.2V644.9H954.2V653.1H977.7V660.9H1005.8V672.4H1025.1V679.5H1051.4V684.0H1074.5V693.8H1101.6V700.4H1129.4V705.5H1155.2V708.6H1180.3V710.5H1207.5V711.3H1237.6V711.2H1268.9V711.3H1304.8V710.4H1338.9V709.9H1375.6V708.2H1406.8V707.5H1442.1V707.1H1490.7"/><path d="M60.0 450.6H219.4V361.1H290.6V367.9H381.4V442.1H424.6V464.9H440.7V517.4H457.6V535.9H469.3V544.6H488.5V557.0H504.2V586.7H523.7V586.4H538.3V589.1H558.8V604.1H585.6V610.1H608.5V619.7H635.1V626.3H658.6V634.2H684.8V638.4H710.6V648.1H732.6V647.3H762.5V653.3H784.5V653.8H810.2V652.9H832.9V651.4H857.0V651.8H886.4V648.2H910.6V655.4H935.3V658.3H960.1V662.7H983.2V668.2H1008.7V677.5H1033.5V686.0H1061.6V694.1H1083.3V699.3H1110.7V705.8H1133.9V709.8H1159.3V712.4H1187.7V714.5H1219.6V715.8H1249.3V714.9H1284.9V714.8H1322.6V713.2H1358.1V712.6H1389.1V711.7H1426.6V710.4H1477.4"/><path d="M60.0 388.4H209.3V331.3H289.6V340.3H397.8V417.5H438.1V439.6H458.7V507.9H473.5V506.7H489.0V523.5H505.6V539.3H521.3V560.6H538.6V562.6H557.6V582.6H576.1V590.0H599.6V598.9H625.0V606.9H652.5V616.2H676.2V626.3H703.0V625.7H724.4V633.4H750.6V635.9H776.0V639.8H801.4V638.9H826.0V640.8H848.8V640.5H876.4V638.2H898.8V641.6H926.2V643.0H951.0V653.9H976.9V661.7H1002.3V673.1H1027.6V681.6H1052.1V685.8H1076.4V693.9H1098.2V699.7H1124.8V704.8H1148.5V709.1H1177.6V711.6H1205.3V711.6H1235.7V713.1H1267.3V711.9H1303.5V712.1H1336.6V711.0H1371.1V709.8H1404.0V708.6H1440.9V707.8H1483.2"/><path d="M60.0 423.2H215.9V345.7H293.0V323.1H383.7V417.9H424.5V430.8H443.7V476.3H459.6V518.2H478.4V521.7H492.3V528.7H507.8V562.7H527.0V570.0H544.5V576.8H566.2V590.3H590.6V598.6H612.5V608.3H639.2V615.8H661.5V622.1H688.6V631.7H712.6V638.2H740.5V639.6H763.3V641.5H788.1V642.8H813.9V642.5H837.5V641.5H864.6V639.1H889.2V644.5H914.1V646.8H937.7V652.1H964.8V660.4H989.7V665.2H1012.7V675.2H1040.8V684.5H1066.5V692.9H1088.2V698.6H1113.0V704.1H1140.4V708.1H1164.9V710.8H1192.6V712.3H1225.3V713.5H1254.3V712.8H1290.4V713.1H1326.8V711.9H1357.9V710.6H1394.8V709.3H1430.7V708.9H1486.0"/><path d="M60.0 481.5H225.3V384.9H293.6V397.4H373.0V443.1H419.4V486.1H434.8V520.5H451.5V546.2H463.9V554.3H481.9V571.4H497.2V574.5H517.4V596.7H533.2V597.4H552.8V612.7H576.6V613.6H601.2V625.6H630.4V628.4H654.1V635.6H679.7V640.2H704.7V647.6H731.5V650.5H753.4V658.3H779.3V657.7H805.9V658.0H828.3V658.1H854.5V654.9H879.6V658.3H901.6V655.3H929.4V659.0H952.9V664.0H979.4V668.9H1004.4V677.7H1032.0V685.8H1052.3V689.6H1079.2V698.7H1103.2V706.9H1130.8V709.9H1154.6V713.3H1187.8V714.8H1217.0V715.7H1242.5V715.7H1279.9V715.3H1315.7V714.3H1347.9V714.1H1385.5V712.2H1418.4V711.7H1472.8"/><path d="M60.0 450.7H218.9V371.8H299.9V382.4H378.4V433.3H419.6V457.0H437.3V490.0H455.9V528.3H468.5V535.8H485.7V561.4H499.9V569.4H520.6V584.5H534.5V589.9H556.8V603.5H580.2V608.8H608.1V621.2H629.1V623.9H655.9V632.5H680.7V636.1H707.9V644.1H730.2V645.4H756.0V653.6H779.1V650.7H809.0V650.2H830.2V652.5H856.6V651.5H883.3V654.8H906.6V651.7H930.1V655.8H953.3V661.7H980.6V667.2H1007.1V676.7H1034.1V685.5H1053.6V689.7H1080.2V698.8H1108.3V705.3H1132.0V709.5H1156.9V712.1H1187.2V715.1H1215.9V715.0H1246.7V714.9H1282.5V713.7H1319.2V713.9H1350.9V712.8H1388.1V711.9H1422.6V710.3H1482.7"/><path d="M60.0 430.1H216.5V373.0H297.1V354.3H385.0V442.9H427.8V484.9H442.5V487.8H458.2V531.6H475.7V546.8H491.1V563.3H510.0V580.0H524.5V581.8H542.7V583.9H564.6V601.2H589.9V610.1H612.5V617.5H637.7V623.0H664.0V632.0H688.3V637.2H713.7V640.8H738.0V647.5H760.8V647.1H789.5V651.1H812.9V647.0H837.5V648.0H863.2V647.4H889.1V649.4H914.5V652.7H939.8V656.8H963.1V662.4H991.3V670.3H1015.0V676.3H1035.9V685.2H1062.5V693.9H1091.3V701.7H1114.4V706.5H1140.6V709.7H1165.5V712.4H1192.5V713.8H1225.4V714.7H1255.2V714.6H1287.6V714.2H1323.1V713.3H1355.4V711.1H1392.6V710.8H1428.3V710.2H1485.5"/><path d="M60.0 461.8H212.3V370.3H299.8V383.2H386.5V449.9H429.2V475.5H446.2V512.9H460.3V538.3H476.7V551.1H494.7V553.3H510.2V575.8H524.7V583.1H547.5V602.4H564.3V609.9H592.6V612.1H615.1V620.3H640.2V625.2H664.6V634.7H690.4V637.4H716.3V645.1H740.8V651.7H766.0V650.5H788.6V656.5H816.5V652.6H839.9V655.0H864.8V651.1H888.3V652.3H912.1V653.4H939.3V654.9H965.0V663.8H991.1V672.2H1013.9V677.4H1039.1V686.9H1066.4V694.7H1091.1V701.8H1114.3V706.3H1141.6V710.3H1162.9V711.9H1196.2V714.9H1225.9V715.0H1257.0V714.9H1290.0V713.8H1325.0V713.3H1360.1V712.2H1395.9V711.2H1429.5V710.6H1478.4"/><path d="M60.0 473.6H218.2V384.1H295.9V390.9H383.6V459.3H427.8V499.5H442.5V538.5H457.4V557.1H477.4V549.0H490.3V566.1H506.8V590.3H521.6V582.2H542.8V599.0H563.2V617.1H587.4V621.8H611.1V621.9H632.9V626.5H661.3V637.0H684.2V642.0H715.7V648.6H740.2V656.1H764.7V654.1H788.6V655.6H809.1V654.5H836.3V657.3H862.3V657.6H886.8V654.7H911.1V653.5H936.2V659.3H960.0V664.1H988.1V670.3H1011.4V679.2H1036.8V686.5H1060.5V694.1H1087.6V702.8H1112.1V708.4H1135.3V710.5H1160.9V712.9H1191.5V715.1H1221.9V715.6H1251.9V716.0H1288.8V714.6H1319.7V714.3H1358.2V713.4H1392.6V712.7H1423.7V710.9H1478.8"/><path d="M60.0 441.9H213.7V358.8H291.0V353.9H390.1V445.4H430.6V478.6H448.0V477.6H463.6V531.2H480.4V529.8H497.4V554.1H512.5V568.1H528.1V582.5H544.8V590.8H569.7V599.0H591.9V605.3H619.1V616.7H641.4V621.2H666.6V631.5H693.9V635.8H716.6V641.2H740.8V646.6H764.9V648.9H792.7V649.1H818.2V650.9H841.3V650.5H870.3V645.4H893.3V645.2H920.2V650.3H942.7V655.3H965.1V662.8H994.0V670.1H1017.6V677.3H1041.4V686.1H1068.0V694.1H1094.0V701.4H1116.2V705.7H1142.6V709.2H1168.5V713.0H1196.2V714.2H1228.1V715.1H1256.5V714.2H1291.6V712.9H1327.4V712.7H1361.8V711.6H1399.2V710.4H1433.4V710.4H1481.7"/><path d="M60.0 383.7H209.1V317.5H287.0V303.6H392.9V400.5H436.4V406.0H453.4V452.5H468.2V498.6H484.0V487.8H498.7V508.8H515.3V551.2H529.5V552.9H548.5V553.8H571.6V580.9H596.6V588.0H620.5V603.9H645.9V609.4H671.8V620.0H696.4V625.5H721.6V631.2H745.1V634.3H770.7V636.1H796.0V638.2H821.4V637.0H844.0V635.4H871.1V638.3H893.8V638.9H920.1V638.5H948.1V651.4H968.8V659.7H998.8V671.0H1020.7V676.3H1046.4V683.7H1074.2V693.3H1097.1V698.9H1120.7V703.5H1147.3V706.8H1169.5V710.2H1199.6V711.1H1232.6V711.4H1261.0V712.1H1297.1V711.0H1330.0V710.0H1367.7V708.5H1401.8V708.3H1435.7V707.5H1487.3"/><path d="M60.0 405.3H212.5V340.1H291.7V332.3H393.4V419.4H435.3V441.5H452.6V506.6H470.6V508.9H485.5V518.7H499.5V528.2H517.1V563.0H531.3V570.3H552.1V573.0H571.2V590.3H597.7V601.3H623.9V610.3H647.5V618.8H670.2V626.9H698.2V631.6H723.2V640.9H746.9V641.3H773.2V640.2H798.1V640.3H819.0V640.0H848.2V636.9H871.9V639.7H898.0V641.0H925.1V647.2H947.6V651.6H968.6V661.8H996.3V673.9H1023.4V679.2H1047.1V684.4H1069.5V693.7H1097.2V700.8H1123.4V706.4H1150.6V709.2H1172.2V711.3H1200.3V712.7H1232.6V713.4H1263.3V713.1H1295.5V712.3H1333.1V710.9H1369.4V710.6H1401.1V709.7H1436.3V709.2H1482.6"/><path d="M60.0 365.2H210.4V314.6H296.5V310.6H392.3V393.2H434.9V426.1H455.3V441.1H468.0V499.4H486.3V484.4H502.2V518.6H519.6V553.4H534.3V564.7H556.8V570.4H576.4V584.4H599.4V596.5H625.0V604.1H649.4V611.0H674.3V619.1H699.8V629.5H727.9V633.0H749.8V635.4H773.3V637.1H800.0V635.5H824.3V634.3H849.3V633.7H877.5V639.8H898.5V634.9H923.3V641.5H950.4V653.0H974.4V660.7H1004.3V673.4H1023.6V678.5H1047.7V684.2H1073.5V693.2H1099.1V698.6H1124.4V704.4H1151.3V708.1H1175.1V710.3H1201.8V711.5H1235.1V711.1H1265.9V711.0H1299.7V711.6H1335.8V709.9H1367.6V709.7H1401.9V707.8H1440.7V707.7H1488.7"/><path d="M60.0 481.9H219.1V370.8H296.6V376.4H381.2V450.8H425.7V485.1H439.8V514.7H456.5V553.4H477.0V560.0H490.1V562.8H508.9V576.2H521.1V592.3H542.0V596.0H561.5V609.9H588.4V619.4H616.5V624.7H635.8V629.7H661.1V636.9H684.3V640.0H712.5V648.2H738.5V649.0H760.0V653.9H786.4V655.7H813.2V651.0H838.6V656.5H861.3V652.6H884.9V656.2H912.5V655.6H937.5V659.7H960.6V664.0H986.0V668.5H1009.4V678.1H1035.7V687.0H1061.0V694.3H1087.2V701.9H1112.2V706.7H1134.9V710.0H1162.5V713.7H1191.1V714.9H1222.9V714.6H1251.8V715.4H1285.8V714.5H1323.2V713.6H1355.4V713.6H1392.1V712.1H1425.5V710.7H1482.6"/><path d="M60.0 495.0H223.9V405.4H306.5V408.1H369.4V434.4H413.0V505.3H433.4V558.0H449.3V566.4H464.8V567.1H480.3V570.3H494.8V590.9H511.3V597.1H530.0V601.2H554.9V621.6H574.1V623.7H600.7V630.1H628.3V633.2H649.3V637.0H675.3V643.2H700.5V650.7H726.8V654.4H754.1V658.4H776.4V665.3H799.8V663.2H827.5V664.4H850.9V661.5H875.2V659.0H898.6V662.9H926.3V663.8H951.4V666.0H978.0V670.6H998.5V678.9H1023.3V686.2H1049.1V689.5H1074.2V696.6H1101.5V707.0H1129.8V709.9H1147.8V713.1H1179.0V715.6H1210.2V717.8H1241.1V717.2H1274.0V715.9H1313.9V715.5H1349.3V714.7H1381.4V713.1H1416.5V712.8H1476.5"/><path d="M60.0 431.2H218.9V354.2H288.5V351.6H385.9V428.1H428.9V450.9H445.4V501.6H462.3V534.6H478.1V529.1H495.7V536.1H507.4V566.5H525.7V579.4H546.2V592.8H565.0V601.0H590.4V607.9H614.7V615.5H639.7V621.4H663.3V629.5H689.4V634.9H714.6V641.5H742.3V643.2H762.1V643.6H790.7V648.8H815.8V648.3H840.0V645.2H863.7V649.2H891.3V649.5H913.9V646.4H938.0V657.1H965.8V663.4H990.0V667.4H1012.3V675.6H1038.1V685.9H1065.4V693.9H1091.0V700.6H1114.6V706.2H1139.1V709.2H1165.6V712.1H1194.4V713.0H1224.7V714.8H1253.9V714.1H1290.5V713.2H1325.2V712.7H1361.2V711.5H1393.2V710.5H1429.7V710.0H1478.6"/><path d="M60.0 462.1H215.4V381.1H304.9V391.5H380.0V448.4H422.1V479.8H442.1V521.4H459.1V551.7H472.4V552.1H490.3V567.0H505.6V571.1H520.0V590.1H541.5V597.6H558.5V612.2H586.9V616.8H610.6V626.7H635.3V626.9H658.9V633.8H683.7V641.0H709.4V647.6H734.4V653.0H761.3V654.1H784.2V654.8H807.8V660.3H835.0V657.7H859.4V655.5H884.0V652.5H909.9V657.2H934.7V660.8H960.1V663.8H984.0V668.8H1007.9V677.7H1031.2V686.8H1061.0V694.4H1083.0V700.2H1110.4V707.5H1135.2V710.0H1160.8V712.5H1187.2V715.3H1220.5V715.6H1245.6V715.1H1282.9V714.7H1320.0V714.2H1356.2V712.7H1389.9V712.0H1425.7V711.9H1480.4"/><path d="M60.0 468.1H225.8V386.9H302.3V391.6H381.4V448.6H425.7V496.3H447.3V535.8H460.9V559.6H474.7V557.3H490.8V577.9H505.6V585.3H525.1V597.5H544.6V609.2H562.1V618.0H587.7V618.6H613.1V625.5H638.8V631.0H662.7V636.5H687.5V642.2H712.5V648.3H737.5V655.7H763.9V655.5H786.4V658.2H811.9V655.4H836.9V658.6H863.1V655.1H887.8V659.3H914.8V658.3H936.9V659.9H962.4V664.7H988.7V669.9H1011.0V678.2H1035.7V687.5H1062.6V694.4H1089.4V702.9H1112.3V707.3H1134.1V710.4H1160.7V713.2H1194.3V716.1H1221.1V716.2H1251.8V715.6H1288.0V714.9H1323.3V714.4H1357.7V712.8H1394.1V712.7H1426.0V711.3H1481.9"/><path d="M60.0 359.1H210.6V311.0H289.4V297.1H394.4V387.1H436.4V398.0H455.8V482.0H471.2V487.2H490.5V486.4H500.1V523.5H521.0V548.3H536.5V551.0H554.5V557.1H573.1V577.5H598.3V592.0H623.2V599.2H644.3V609.2H671.7V617.6H697.9V624.2H724.3V631.6H750.8V633.8H774.5V633.5H799.8V631.7H824.8V630.7H849.0V630.0H873.7V630.2H898.7V632.2H927.0V639.2H948.6V651.3H976.2V658.7H999.1V671.8H1025.9V678.8H1049.4V683.8H1076.5V693.6H1099.6V698.8H1126.3V704.2H1151.2V707.2H1173.6V710.2H1205.6V710.8H1236.0V711.2H1265.5V711.0H1299.0V710.3H1332.5V709.4H1368.8V708.3H1402.0V707.9H1442.2V706.7H1489.8"/><path d="M60.0 502.4H218.6V386.3H293.2V395.3H380.9V468.6H422.4V491.2H441.1V542.0H458.0V556.9H473.5V559.2H487.2V563.9H506.7V586.8H519.9V593.9H539.1V602.9H561.8V619.0H583.9V626.1H610.6V629.1H635.3V633.1H662.3V639.3H687.6V646.6H711.3V649.9H736.5V654.0H760.7V658.6H784.4V657.9H810.8V661.4H834.4V655.4H860.2V660.1H884.1V653.7H909.3V657.8H936.5V660.3H958.1V664.3H985.2V670.3H1013.4V679.4H1036.8V687.9H1061.8V695.2H1086.6V702.7H1109.1V707.8H1136.8V710.6H1159.5V714.1H1192.9V715.9H1221.3V717.0H1247.8V715.4H1288.4V715.2H1321.9V715.3H1354.8V714.1H1390.8V713.5H1426.8V711.4H1482.4"/><path d="M60.0 433.8H220.2V365.8H290.0V367.4H381.8V438.3H425.1V465.6H441.2V513.4H458.5V535.7H475.5V534.9H488.2V549.5H505.1V574.5H523.3V582.1H541.4V590.4H562.9V607.1H585.5V610.5H608.5V617.5H633.6V621.8H659.1V627.4H685.7V639.4H708.4V642.7H737.1V647.3H759.9V651.6H785.3V647.9H813.3V651.6H835.7V653.9H861.2V651.4H885.5V646.8H910.4V653.4H937.4V656.2H959.7V662.4H984.0V668.5H1011.3V676.7H1037.4V685.1H1061.4V694.0H1086.3V699.3H1110.0V705.8H1137.7V710.0H1161.6V712.0H1191.8V714.1H1220.3V715.0H1251.5V714.5H1287.0V713.8H1322.5V713.0H1353.7V712.0H1389.4V711.5H1427.1V709.7H1479.4"/></g>
</g>
<path d="M116.5 759.70H135.9M116.5 750.74H126.0M116.5 741.78H126.0M116.5 732.82H126.0M116.5 723.87H126.0M116.5 714.91H126.0M116.5 705.95H126.0M116.5 696.99H126.0M116.5 688.03H126.0M116.5 679.07H126.0M116.5 670.11H135.9M116.5 661.15H126.0M116.5 652.20H126.0M116.5 643.24H126.0M116.5 634.28H126.0M116.5 625.32H126.0M116.5 616.36H126.0M116.5 607.40H126.0M116.5 598.44H126.0M116.5 589.48H126.0M116.5 580.53H135.9M116.5 571.57H126.0M116.5 562.61H126.0M116.5 553.65H126.0M116.5 544.69H126.0M116.5 535.73H126.0M116.5 526.77H126.0M116.5 517.81H126.0M116.5 508.86H126.0M116.5 499.90H126.0M116.5 490.94H135.9M116.5 481.98H126.0M116.5 473.02H126.0M116.5 464.06H126.0M116.5 455.10H126.0M116.5 446.14H126.0M116.5 437.19H126.0M116.5 428.23H126.0M116.5 419.27H126.0M116.5 410.31H126.0M116.5 401.35H135.9M116.5 392.39H126.0M116.5 383.43H126.0M116.5 374.47H126.0M116.5 365.52H126.0M116.5 356.56H126.0M116.5 347.60H126.0M116.5 338.64H126.0M116.5 329.68H126.0M116.5 320.72H126.0M116.5 311.76H135.9M116.5 302.80H126.0M116.5 293.85H126.0M116.5 284.89H126.0M116.5 275.93H126.0M116.5 266.97H126.0M116.5 258.01H126.0M116.5 249.05H126.0M116.5 240.09H126.0M116.5 231.13H126.0M116.5 222.18H135.9M116.5 213.22H126.0M116.5 204.26H126.0M116.5 195.30H126.0M116.5 186.34H126.0M116.5 177.38H126.0M116.5 168.42H126.0M116.5 159.46H126.0M116.5 150.50H126.0M116.5 141.55H126.0M116.5 132.59H135.9M116.5 123.63H126.0M116.5 114.67H126.0M116.5 105.71H126.0M116.5 96.75H126.0M116.5 87.79H126.0M116.5 78.84H126.0M116.5 69.88H126.0M116.5 60.92H126.0M116.5 51.96H126.0M116.5 43.00H135.9M116.50 760.1V746.1M116.50 42.8V56.8M304.37 760.1V753.1M304.37 42.8V49.8M414.27 760.1V753.1M414.27 42.8V49.8M492.25 760.1V753.1M492.25 42.8V49.8M552.73 760.1V753.1M552.73 42.8V49.8M602.14 760.1V753.1M602.14 42.8V49.8M643.93 760.1V753.1M643.93 42.8V49.8M680.12 760.1V753.1M680.12 42.8V49.8M712.04 760.1V753.1M712.04 42.8V49.8M740.60 760.1V746.1M740.60 42.8V56.8M928.47 760.1V753.1M928.47 42.8V49.8M1038.37 760.1V753.1M1038.37 42.8V49.8M1116.35 760.1V753.1M1116.35 42.8V49.8M1176.83 760.1V753.1M1176.83 42.8V49.8M1226.24 760.1V753.1M1226.24 42.8V49.8M1268.03 760.1V753.1M1268.03 42.8V49.8M1304.22 760.1V753.1M1304.22 42.8V49.8M1336.14 760.1V753.1M1336.14 42.8V49.8M1364.70 760.1V746.1M1364.70 42.8V56.8" stroke="#000" stroke-width="2.3" fill="none"/>
<rect x="116.5" y="42.8" width="1379.7" height="717.3" fill="none" stroke="#000" stroke-width="2.5"/>
<text x="108.3" y="678.21" font-size="25.0" text-anchor="end">5</text>
<path d="M763 0L583 0L583 1147Q518 1085 412 1023Q306 961 222 930L222 1104Q370 1174 481 1274Q592 1374 638 1468L763 1468Z" transform="translate(81.20 499.04) scale(0.01221 -0.01221)"/>
<text x="95.10" y="499.04" font-size="25.0">5</text>
<text x="108.3" y="319.86" font-size="25.0" text-anchor="end">25</text>
<text x="108.3" y="140.69" font-size="25.0" text-anchor="end">35</text>
<path d="M763 0L583 0L583 1147Q518 1085 412 1023Q306 961 222 930L222 1104Q370 1174 481 1274Q592 1374 638 1468L763 1468Z" transform="translate(97.00 788.60) scale(0.01221 -0.01221)"/>
<text x="110.90" y="788.6" font-size="25.0">0</text>
<text transform="translate(125.05 779.7) scale(1.2 1)" font-size="12.5">4</text>
<path d="M763 0L583 0L583 1147Q518 1085 412 1023Q306 961 222 930L222 1104Q370 1174 481 1274Q592 1374 638 1468L763 1468Z" transform="translate(723.10 788.60) scale(0.01221 -0.01221)"/>
<text x="737.00" y="788.6" font-size="25.0">0</text>
<text transform="translate(751.15 779.7) scale(1.2 1)" font-size="12.5">5</text>
<path d="M763 0L583 0L583 1147Q518 1085 412 1023Q306 961 222 930L222 1104Q370 1174 481 1274Q592 1374 638 1468L763 1468Z" transform="translate(1347.90 788.60) scale(0.01221 -0.01221)"/>
<text x="1361.80" y="788.6" font-size="25.0">0</text>
<text transform="translate(1375.95 779.7) scale(1.2 1)" font-size="12.5">6</text>
<text transform="translate(621.00 835.60) scale(1 1.040)" font-size="29.00">Years (g=2.6, μ=2.3x</text>
<path d="M763 0L583 0L583 1147Q518 1085 412 1023Q306 961 222 930L222 1104Q370 1174 481 1274Q592 1374 638 1468L763 1468Z" transform="translate(892.40 835.60) scale(0.01416 -0.01473)"/>
<text transform="translate(908.53 835.60) scale(1 1.040)" font-size="29.00">0</text>
<text transform="translate(923.00 825.80) scale(1 1.000)" font-size="17.00">-</text>
<text transform="translate(930.00 825.80) scale(1 1.000)" font-size="17.00">8</text>
<text transform="translate(941.30 835.60) scale(1 1.040)" font-size="29.00">)</text>
<g transform="translate(22.6,608.0) rotate(-90)"><text x="0" y="0" font-size="29.30">Effective population size (x</text><path d="M763 0L583 0L583 1147Q518 1085 412 1023Q306 961 222 930L222 1104Q370 1174 481 1274Q592 1374 638 1468L763 1468Z" transform="translate(347.80 0) scale(0.01431 -0.01431)"/><text x="364.10" y="0" font-size="29.30">0</text><text x="380.89" y="-10" font-size="17">4</text><text x="390.29" y="0" font-size="29.30">)</text></g>
<text x="282.6" y="29.9" font-size="30">LGM</text>
<text x="511" y="19.5" font-size="29" font-style="italic">T</text><text x="527" y="31" font-size="18.5">mig</text>
<text x="924" y="19.5" font-size="29" font-style="italic">T</text><text x="938.5" y="30" font-size="18.5">div</text>
<g fill="#F0932F"><rect x="1249" y="114.6" width="38" height="4.4"/><rect x="1254" y="118.8" width="38" height="4.4"/></g><text x="1309.3" y="129.0" font-size="29" font-style="italic">fratercula</text>
<g fill="#7670B2"><rect x="1249" y="156.2" width="38" height="4.4"/><rect x="1254" y="160.4" width="38" height="4.4"/></g><text x="1309.3" y="169.8" font-size="29" font-style="italic">davidi</text>
<g fill="#63BBA8"><rect x="1249" y="195.6" width="38" height="4.4"/><rect x="1254" y="199.8" width="38" height="4.4"/></g><text x="1309.3" y="210.9" font-size="29" font-style="italic">hueti</text>
</svg></body></html>
